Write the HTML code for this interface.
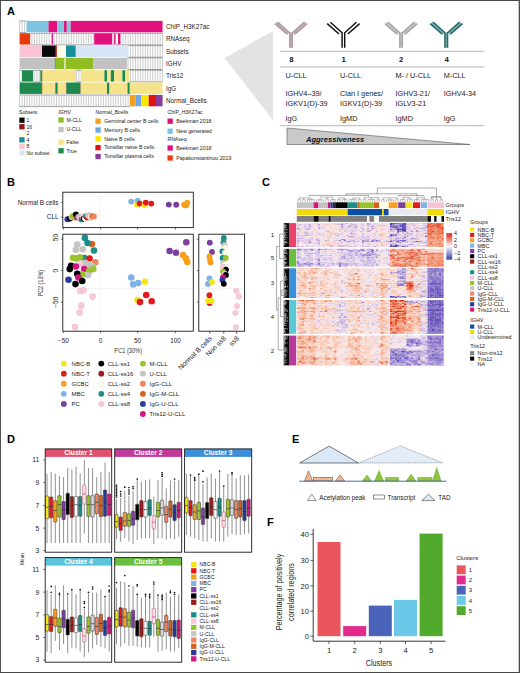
<!DOCTYPE html>
<html><head><meta charset="utf-8"><title>Figure</title>
<style>
html,body{margin:0;padding:0;background:#fff;}
body{width:520px;height:673px;overflow:hidden;font-family:"Liberation Sans",sans-serif;}
svg{display:block;}
svg text{font-family:"Liberation Sans",sans-serif;}
</style></head><body>
<svg width="520" height="673" viewBox="0 0 520 673">
<rect x="0" y="0" width="520" height="673" fill="#ffffff"/>
<text x="7.00" y="15.20" font-size="11" fill="#000" text-anchor="start" font-weight="bold" >A</text>
<rect x="19.60" y="20.90" width="6.90" height="11.40" fill="#ffffff" />
<line x1="19.60" y1="21.00" x2="26.50" y2="21.00" stroke="#4a4a4a" stroke-width="0.5" />
<line x1="19.60" y1="32.60" x2="26.50" y2="32.60" stroke="#4a4a4a" stroke-width="0.5" />
<path d="M19.60 20.90v11.4M22.07 20.90v11.4M24.53 20.90v11.4" stroke="#9a9a9a" stroke-width="0.5" fill="none"/>
<rect x="26.50" y="20.90" width="22.00" height="11.40" fill="#7ec4e2" />
<rect x="48.50" y="20.90" width="8.80" height="11.40" fill="#e0117f" />
<rect x="57.30" y="20.90" width="6.70" height="11.40" fill="#7ec4e2" />
<rect x="64.00" y="20.90" width="2.80" height="11.40" fill="#e0117f" />
<rect x="66.80" y="20.90" width="3.90" height="11.40" fill="#7ec4e2" />
<rect x="70.70" y="20.90" width="91.90" height="11.40" fill="#e0117f" />
<text x="166.00" y="28.90" font-size="6.3" fill="#222" text-anchor="start" font-weight="normal" >ChIP_H3K27ac</text>
<rect x="19.60" y="33.20" width="10.80" height="11.40" fill="#ea3a0c" />
<rect x="30.40" y="33.20" width="21.20" height="11.40" fill="#ffffff" />
<line x1="30.40" y1="33.30" x2="51.60" y2="33.30" stroke="#4a4a4a" stroke-width="0.5" />
<line x1="30.40" y1="44.90" x2="51.60" y2="44.90" stroke="#4a4a4a" stroke-width="0.5" />
<path d="M31.93 33.20v11.4M34.39 33.20v11.4M36.86 33.20v11.4M39.32 33.20v11.4M41.79 33.20v11.4M44.26 33.20v11.4M46.72 33.20v11.4M49.19 33.20v11.4" stroke="#9a9a9a" stroke-width="0.5" fill="none"/>
<rect x="51.60" y="33.20" width="1.40" height="11.40" fill="#e0117f" />
<rect x="53.00" y="33.20" width="41.20" height="11.40" fill="#ffffff" />
<line x1="53.00" y1="33.30" x2="94.20" y2="33.30" stroke="#4a4a4a" stroke-width="0.5" />
<line x1="53.00" y1="44.90" x2="94.20" y2="44.90" stroke="#4a4a4a" stroke-width="0.5" />
<path d="M54.12 33.20v11.4M56.58 33.20v11.4M59.05 33.20v11.4M61.51 33.20v11.4M63.98 33.20v11.4M66.44 33.20v11.4M68.91 33.20v11.4M71.38 33.20v11.4M73.84 33.20v11.4M76.31 33.20v11.4M78.77 33.20v11.4M81.24 33.20v11.4M83.70 33.20v11.4M86.17 33.20v11.4M88.63 33.20v11.4M91.10 33.20v11.4M93.57 33.20v11.4" stroke="#9a9a9a" stroke-width="0.5" fill="none"/>
<rect x="94.20" y="33.20" width="18.20" height="11.40" fill="#e0117f" />
<rect x="112.40" y="33.20" width="1.80" height="11.40" fill="#ffffff" />
<line x1="112.40" y1="33.30" x2="114.20" y2="33.30" stroke="#4a4a4a" stroke-width="0.5" />
<line x1="112.40" y1="44.90" x2="114.20" y2="44.90" stroke="#4a4a4a" stroke-width="0.5" />
<path d="M113.29 33.20v11.4" stroke="#9a9a9a" stroke-width="0.5" fill="none"/>
<rect x="114.20" y="33.20" width="1.60" height="11.40" fill="#e0117f" />
<rect x="115.80" y="33.20" width="2.20" height="11.40" fill="#ffffff" />
<line x1="115.80" y1="33.30" x2="118.00" y2="33.30" stroke="#4a4a4a" stroke-width="0.5" />
<line x1="115.80" y1="44.90" x2="118.00" y2="44.90" stroke="#4a4a4a" stroke-width="0.5" />
<rect x="118.00" y="33.20" width="2.70" height="11.40" fill="#e0117f" />
<rect x="120.70" y="33.20" width="41.90" height="11.40" fill="#ffffff" />
<line x1="120.70" y1="33.30" x2="162.60" y2="33.30" stroke="#4a4a4a" stroke-width="0.5" />
<line x1="120.70" y1="44.90" x2="162.60" y2="44.90" stroke="#4a4a4a" stroke-width="0.5" />
<path d="M123.15 33.20v11.4M125.62 33.20v11.4M128.08 33.20v11.4M130.55 33.20v11.4M133.01 33.20v11.4M135.48 33.20v11.4M137.94 33.20v11.4M140.41 33.20v11.4M142.88 33.20v11.4M145.34 33.20v11.4M147.81 33.20v11.4M150.27 33.20v11.4M152.74 33.20v11.4M155.20 33.20v11.4M157.67 33.20v11.4M160.13 33.20v11.4M162.60 33.20v11.4" stroke="#9a9a9a" stroke-width="0.5" fill="none"/>
<text x="166.00" y="41.20" font-size="6.3" fill="#222" text-anchor="start" font-weight="normal" >RNAseq</text>
<rect x="19.60" y="45.50" width="22.40" height="11.40" fill="#f9c3d3" />
<rect x="42.00" y="45.50" width="13.80" height="11.40" fill="#0a0a0a" />
<rect x="55.80" y="45.50" width="1.10" height="11.40" fill="#b01818" />
<rect x="56.90" y="45.50" width="0.80" height="11.40" fill="#ffffff" />
<line x1="56.90" y1="45.60" x2="57.70" y2="45.60" stroke="#4a4a4a" stroke-width="0.5" />
<line x1="56.90" y1="57.20" x2="57.70" y2="57.20" stroke="#4a4a4a" stroke-width="0.5" />
<rect x="57.70" y="45.50" width="8.30" height="11.40" fill="#fffde6" />
<rect x="66.00" y="45.50" width="9.80" height="11.40" fill="#17909a" />
<rect x="75.80" y="45.50" width="53.00" height="11.40" fill="#d6e6f6" />
<rect x="128.80" y="45.50" width="33.80" height="11.40" fill="#ffffff" />
<line x1="128.80" y1="45.60" x2="162.60" y2="45.60" stroke="#4a4a4a" stroke-width="0.5" />
<line x1="128.80" y1="57.20" x2="162.60" y2="57.20" stroke="#4a4a4a" stroke-width="0.5" />
<path d="M130.55 45.50v11.4M133.01 45.50v11.4M135.48 45.50v11.4M137.94 45.50v11.4M140.41 45.50v11.4M142.88 45.50v11.4M145.34 45.50v11.4M147.81 45.50v11.4M150.27 45.50v11.4M152.74 45.50v11.4M155.20 45.50v11.4M157.67 45.50v11.4M160.13 45.50v11.4M162.60 45.50v11.4" stroke="#9a9a9a" stroke-width="0.5" fill="none"/>
<text x="166.00" y="53.50" font-size="6.3" fill="#222" text-anchor="start" font-weight="normal" >Subsets</text>
<rect x="19.60" y="57.80" width="35.70" height="11.40" fill="#c2c2c2" />
<rect x="55.30" y="57.80" width="9.30" height="11.40" fill="#8fbe22" />
<rect x="64.60" y="57.80" width="0.90" height="11.40" fill="#ffffff" />
<line x1="64.60" y1="57.90" x2="65.50" y2="57.90" stroke="#4a4a4a" stroke-width="0.5" />
<line x1="64.60" y1="69.50" x2="65.50" y2="69.50" stroke="#4a4a4a" stroke-width="0.5" />
<rect x="65.50" y="57.80" width="28.00" height="11.40" fill="#8fbe22" />
<rect x="93.50" y="57.80" width="33.80" height="11.40" fill="#c2c2c2" />
<rect x="127.30" y="57.80" width="35.30" height="11.40" fill="#ffffff" />
<line x1="127.30" y1="57.90" x2="162.60" y2="57.90" stroke="#4a4a4a" stroke-width="0.5" />
<line x1="127.30" y1="69.50" x2="162.60" y2="69.50" stroke="#4a4a4a" stroke-width="0.5" />
<path d="M128.08 57.80v11.4M130.55 57.80v11.4M133.01 57.80v11.4M135.48 57.80v11.4M137.94 57.80v11.4M140.41 57.80v11.4M142.88 57.80v11.4M145.34 57.80v11.4M147.81 57.80v11.4M150.27 57.80v11.4M152.74 57.80v11.4M155.20 57.80v11.4M157.67 57.80v11.4M160.13 57.80v11.4M162.60 57.80v11.4" stroke="#9a9a9a" stroke-width="0.5" fill="none"/>
<text x="166.00" y="65.80" font-size="6.3" fill="#222" text-anchor="start" font-weight="normal" >IGHV</text>
<rect x="19.60" y="70.20" width="2.30" height="11.40" fill="#ffffff" />
<line x1="19.60" y1="70.30" x2="21.90" y2="70.30" stroke="#4a4a4a" stroke-width="0.5" />
<line x1="19.60" y1="81.90" x2="21.90" y2="81.90" stroke="#4a4a4a" stroke-width="0.5" />
<path d="M19.60 70.20v11.4" stroke="#9a9a9a" stroke-width="0.5" fill="none"/>
<rect x="21.90" y="70.20" width="11.30" height="11.40" fill="#1f8a4d" />
<rect x="33.20" y="70.20" width="7.10" height="11.40" fill="#ffffff" />
<line x1="33.20" y1="70.30" x2="40.30" y2="70.30" stroke="#4a4a4a" stroke-width="0.5" />
<line x1="33.20" y1="81.90" x2="40.30" y2="81.90" stroke="#4a4a4a" stroke-width="0.5" />
<path d="M34.39 70.20v11.4M36.86 70.20v11.4M39.32 70.20v11.4" stroke="#9a9a9a" stroke-width="0.5" fill="none"/>
<rect x="40.30" y="70.20" width="1.60" height="11.40" fill="#1f8a4d" />
<rect x="41.90" y="70.20" width="33.90" height="11.40" fill="#f5e38c" />
<rect x="75.80" y="70.20" width="5.70" height="11.40" fill="#ffffff" />
<line x1="75.80" y1="70.30" x2="81.50" y2="70.30" stroke="#4a4a4a" stroke-width="0.5" />
<line x1="75.80" y1="81.90" x2="81.50" y2="81.90" stroke="#4a4a4a" stroke-width="0.5" />
<path d="M76.31 70.20v11.4M78.77 70.20v11.4M81.24 70.20v11.4" stroke="#9a9a9a" stroke-width="0.5" fill="none"/>
<rect x="81.50" y="70.20" width="22.90" height="11.40" fill="#f5e38c" />
<rect x="104.40" y="70.20" width="2.60" height="11.40" fill="#1f8a4d" />
<rect x="107.00" y="70.20" width="3.80" height="11.40" fill="#f5e38c" />
<rect x="110.80" y="70.20" width="3.40" height="11.40" fill="#1f8a4d" />
<rect x="114.20" y="70.20" width="8.20" height="11.40" fill="#f5e38c" />
<rect x="122.40" y="70.20" width="2.90" height="11.40" fill="#1f8a4d" />
<rect x="125.30" y="70.20" width="4.30" height="11.40" fill="#f5e38c" />
<rect x="129.60" y="70.20" width="33.00" height="11.40" fill="#ffffff" />
<line x1="129.60" y1="70.30" x2="162.60" y2="70.30" stroke="#4a4a4a" stroke-width="0.5" />
<line x1="129.60" y1="81.90" x2="162.60" y2="81.90" stroke="#4a4a4a" stroke-width="0.5" />
<path d="M130.55 70.20v11.4M133.01 70.20v11.4M135.48 70.20v11.4M137.94 70.20v11.4M140.41 70.20v11.4M142.88 70.20v11.4M145.34 70.20v11.4M147.81 70.20v11.4M150.27 70.20v11.4M152.74 70.20v11.4M155.20 70.20v11.4M157.67 70.20v11.4M160.13 70.20v11.4M162.60 70.20v11.4" stroke="#9a9a9a" stroke-width="0.5" fill="none"/>
<text x="166.00" y="78.20" font-size="6.3" fill="#222" text-anchor="start" font-weight="normal" >Tris12</text>
<rect x="19.60" y="82.50" width="22.30" height="11.40" fill="#1f8a4d" />
<rect x="41.90" y="82.50" width="13.40" height="11.40" fill="#f5e38c" />
<rect x="55.30" y="82.50" width="2.50" height="11.40" fill="#1f8a4d" />
<rect x="57.80" y="82.50" width="8.70" height="11.40" fill="#f5e38c" />
<rect x="66.50" y="82.50" width="13.90" height="11.40" fill="#1f8a4d" />
<rect x="80.40" y="82.50" width="26.60" height="11.40" fill="#f5e38c" />
<rect x="107.00" y="82.50" width="2.50" height="11.40" fill="#1f8a4d" />
<rect x="109.50" y="82.50" width="18.00" height="11.40" fill="#f5e38c" />
<rect x="127.50" y="82.50" width="2.30" height="11.40" fill="#1f8a4d" />
<rect x="129.80" y="82.50" width="32.80" height="11.40" fill="#f5e38c" />
<text x="166.00" y="90.50" font-size="6.3" fill="#222" text-anchor="start" font-weight="normal" >IgG</text>
<rect x="19.60" y="94.90" width="110.20" height="11.40" fill="#ffffff" />
<line x1="19.60" y1="95.00" x2="129.80" y2="95.00" stroke="#4a4a4a" stroke-width="0.5" />
<line x1="19.60" y1="106.60" x2="129.80" y2="106.60" stroke="#4a4a4a" stroke-width="0.5" />
<path d="M19.60 94.90v11.4M22.07 94.90v11.4M24.53 94.90v11.4M27.00 94.90v11.4M29.46 94.90v11.4M31.93 94.90v11.4M34.39 94.90v11.4M36.86 94.90v11.4M39.32 94.90v11.4M41.79 94.90v11.4M44.26 94.90v11.4M46.72 94.90v11.4M49.19 94.90v11.4M51.65 94.90v11.4M54.12 94.90v11.4M56.58 94.90v11.4M59.05 94.90v11.4M61.51 94.90v11.4M63.98 94.90v11.4M66.44 94.90v11.4M68.91 94.90v11.4M71.38 94.90v11.4M73.84 94.90v11.4M76.31 94.90v11.4M78.77 94.90v11.4M81.24 94.90v11.4M83.70 94.90v11.4M86.17 94.90v11.4M88.63 94.90v11.4M91.10 94.90v11.4M93.57 94.90v11.4M96.03 94.90v11.4M98.50 94.90v11.4M100.96 94.90v11.4M103.43 94.90v11.4M105.89 94.90v11.4M108.36 94.90v11.4M110.82 94.90v11.4M113.29 94.90v11.4M115.76 94.90v11.4M118.22 94.90v11.4M120.69 94.90v11.4M123.15 94.90v11.4M125.62 94.90v11.4M128.08 94.90v11.4" stroke="#9a9a9a" stroke-width="0.5" fill="none"/>
<rect x="129.80" y="94.90" width="5.80" height="11.40" fill="#f0a21e" />
<rect x="135.60" y="94.90" width="5.40" height="11.40" fill="#6fa8e2" />
<rect x="141.00" y="94.90" width="7.70" height="11.40" fill="#ffe600" />
<rect x="148.70" y="94.90" width="7.30" height="11.40" fill="#e01212" />
<rect x="156.00" y="94.90" width="6.60" height="11.40" fill="#8a3c9c" />
<text x="166.00" y="102.90" font-size="6.3" fill="#222" text-anchor="start" font-weight="normal" >Normal_Bcells</text>
<line x1="55.30" y1="57.80" x2="55.30" y2="69.20" stroke="#3a3a3a" stroke-width="0.4" />
<line x1="41.90" y1="70.20" x2="41.90" y2="93.90" stroke="#3a3a3a" stroke-width="0.4" />
<line x1="66.50" y1="82.50" x2="66.50" y2="93.90" stroke="#3a3a3a" stroke-width="0.4" />
<line x1="80.40" y1="82.50" x2="80.40" y2="93.90" stroke="#3a3a3a" stroke-width="0.4" />
<text x="19.00" y="114.00" font-size="5.1" fill="#222" text-anchor="start" font-weight="normal" >Subsets</text>
<rect x="19.30" y="117.55" width="5.30" height="5.30" fill="#0a0a0a" />
<text x="26.50" y="122.00" font-size="5.1" fill="#222" text-anchor="start" font-weight="normal" >1</text>
<rect x="19.30" y="124.10" width="5.30" height="5.30" fill="#8e1616" />
<text x="26.50" y="128.55" font-size="5.1" fill="#222" text-anchor="start" font-weight="normal" >16</text>
<rect x="19.30" y="130.65" width="5.30" height="5.30" fill="#fffde6" />
<text x="26.50" y="135.10" font-size="5.1" fill="#222" text-anchor="start" font-weight="normal" >2</text>
<rect x="19.30" y="137.20" width="5.30" height="5.30" fill="#17909a" />
<text x="26.50" y="141.65" font-size="5.1" fill="#222" text-anchor="start" font-weight="normal" >4</text>
<rect x="19.30" y="143.75" width="5.30" height="5.30" fill="#f9c3d3" />
<text x="26.50" y="148.20" font-size="5.1" fill="#222" text-anchor="start" font-weight="normal" >8</text>
<rect x="19.30" y="150.30" width="5.30" height="5.30" fill="#d6e6f6" />
<text x="26.50" y="154.75" font-size="5.1" fill="#222" text-anchor="start" font-weight="normal" >No subset</text>
<text x="58.40" y="114.00" font-size="5.1" fill="#222" text-anchor="start" font-weight="normal" >IGHV</text>
<rect x="58.40" y="117.35" width="5.30" height="5.30" fill="#8fbe22" />
<text x="66.50" y="121.80" font-size="5.1" fill="#222" text-anchor="start" font-weight="normal" >M-CLL</text>
<rect x="58.40" y="126.95" width="5.30" height="5.30" fill="#c2c2c2" />
<text x="66.50" y="131.40" font-size="5.1" fill="#222" text-anchor="start" font-weight="normal" >U-CLL</text>
<rect x="58.40" y="139.55" width="5.30" height="5.30" fill="#f5e38c" />
<text x="66.50" y="144.00" font-size="5.1" fill="#222" text-anchor="start" font-weight="normal" >False</text>
<rect x="58.40" y="148.15" width="5.30" height="5.30" fill="#1f8a4d" />
<text x="66.50" y="152.60" font-size="5.1" fill="#222" text-anchor="start" font-weight="normal" >True</text>
<text x="95.40" y="114.00" font-size="5.1" fill="#222" text-anchor="start" font-weight="normal" >Normal_Bcells</text>
<rect x="95.40" y="118.55" width="5.30" height="5.30" fill="#f0a21e" />
<text x="104.20" y="123.00" font-size="5.25" fill="#222" text-anchor="start" font-weight="normal" >Germinal center B cells</text>
<rect x="95.40" y="127.38" width="5.30" height="5.30" fill="#6fa8e2" />
<text x="104.20" y="131.83" font-size="5.25" fill="#222" text-anchor="start" font-weight="normal" >Memory B cells</text>
<rect x="95.40" y="136.21" width="5.30" height="5.30" fill="#ffe600" />
<text x="104.20" y="140.66" font-size="5.25" fill="#222" text-anchor="start" font-weight="normal" >Naive B cells</text>
<rect x="95.40" y="145.04" width="5.30" height="5.30" fill="#e01212" />
<text x="104.20" y="149.49" font-size="5.25" fill="#222" text-anchor="start" font-weight="normal" >Tonsillar naive B cells</text>
<rect x="95.40" y="153.87" width="5.30" height="5.30" fill="#8a3c9c" />
<text x="104.20" y="158.32" font-size="5.25" fill="#222" text-anchor="start" font-weight="normal" >Tonsillar plasma cells</text>
<text x="167.50" y="114.00" font-size="5.1" fill="#222" text-anchor="start" font-weight="normal" >ChIP_H3K27ac</text>
<rect x="167.50" y="118.55" width="5.30" height="5.30" fill="#e0117f" />
<text x="176.20" y="123.00" font-size="5.25" fill="#222" text-anchor="start" font-weight="normal" >Beekman 2018</text>
<rect x="167.50" y="128.55" width="5.30" height="5.30" fill="#7ec4e2" />
<text x="176.20" y="133.00" font-size="5.25" fill="#222" text-anchor="start" font-weight="normal" >New generated</text>
<text x="167.50" y="141.00" font-size="5.1" fill="#222" text-anchor="start" font-weight="normal" >RNAseq</text>
<rect x="167.50" y="145.35" width="5.30" height="5.30" fill="#e0117f" />
<text x="176.20" y="149.80" font-size="5.25" fill="#222" text-anchor="start" font-weight="normal" >Beekman 2018</text>
<rect x="167.50" y="155.35" width="5.30" height="5.30" fill="#ea3a0c" />
<text x="176.20" y="159.80" font-size="5.25" fill="#222" text-anchor="start" font-weight="normal" >Papakonstantinou 2019</text>
<polygon points="224.6,58 272.9,31 272.9,120" fill="#e3e3e3"/>
<path d="M276.40 22.9L288.40 33.6" stroke="#bca9ad" stroke-width="3.6" fill="none"/>
<path d="M305.60 22.9L293.60 33.6" stroke="#bca9ad" stroke-width="3.6" fill="none"/>
<path d="M291.00 32.4V47.7" stroke="#bca9ad" stroke-width="3.4" fill="none"/>
<path d="M274.80 23.65L286.60 34.0" stroke="#b3a0a4" stroke-width="1.45" fill="none" stroke-linecap="butt"/>
<path d="M278.00 22.2L289.70 32.7L289.70 47.7" stroke="#b3a0a4" stroke-width="1.45" fill="none" stroke-linejoin="miter"/>
<path d="M307.20 23.65L295.40 34.0" stroke="#b3a0a4" stroke-width="1.45" fill="none" stroke-linecap="butt"/>
<path d="M304.00 22.2L292.30 32.7L292.30 47.7" stroke="#b3a0a4" stroke-width="1.45" fill="none" stroke-linejoin="miter"/>
<path d="M327.20 23.65L339.00 34.0" stroke="#111111" stroke-width="1.45" fill="none" stroke-linecap="butt"/>
<path d="M330.40 22.2L342.10 32.7L342.10 47.7" stroke="#111111" stroke-width="1.45" fill="none" stroke-linejoin="miter"/>
<path d="M359.60 23.65L347.80 34.0" stroke="#111111" stroke-width="1.45" fill="none" stroke-linecap="butt"/>
<path d="M356.40 22.2L344.70 32.7L344.70 47.7" stroke="#111111" stroke-width="1.45" fill="none" stroke-linejoin="miter"/>
<path d="M386.50 22.9L398.50 33.6" stroke="#c2c2c2" stroke-width="3.6" fill="none"/>
<path d="M415.70 22.9L403.70 33.6" stroke="#c2c2c2" stroke-width="3.6" fill="none"/>
<path d="M401.10 32.4V47.7" stroke="#c2c2c2" stroke-width="3.4" fill="none"/>
<path d="M384.90 23.65L396.70 34.0" stroke="#a6a6a6" stroke-width="1.45" fill="none" stroke-linecap="butt"/>
<path d="M388.10 22.2L399.80 32.7L399.80 47.7" stroke="#a6a6a6" stroke-width="1.45" fill="none" stroke-linejoin="miter"/>
<path d="M417.30 23.65L405.50 34.0" stroke="#a6a6a6" stroke-width="1.45" fill="none" stroke-linecap="butt"/>
<path d="M414.10 22.2L402.40 32.7L402.40 47.7" stroke="#a6a6a6" stroke-width="1.45" fill="none" stroke-linejoin="miter"/>
<path d="M431.70 22.9L443.70 33.6" stroke="#7aa9a9" stroke-width="3.6" fill="none"/>
<path d="M460.90 22.9L448.90 33.6" stroke="#7aa9a9" stroke-width="3.6" fill="none"/>
<path d="M446.30 32.4V47.7" stroke="#7aa9a9" stroke-width="3.4" fill="none"/>
<path d="M430.10 23.65L441.90 34.0" stroke="#276b6b" stroke-width="1.45" fill="none" stroke-linecap="butt"/>
<path d="M433.30 22.2L445.00 32.7L445.00 47.7" stroke="#276b6b" stroke-width="1.45" fill="none" stroke-linejoin="miter"/>
<path d="M462.50 23.65L450.70 34.0" stroke="#276b6b" stroke-width="1.45" fill="none" stroke-linecap="butt"/>
<path d="M459.30 22.2L447.60 32.7L447.60 47.7" stroke="#276b6b" stroke-width="1.45" fill="none" stroke-linejoin="miter"/>
<line x1="280.00" y1="51.30" x2="484.50" y2="51.30" stroke="#9a9a9a" stroke-width="0.7" />
<line x1="280.00" y1="67.00" x2="484.50" y2="67.00" stroke="#9a9a9a" stroke-width="0.7" />
<line x1="280.00" y1="125.70" x2="484.50" y2="125.70" stroke="#9a9a9a" stroke-width="0.7" />
<text x="289.20" y="61.90" font-size="7.8" fill="#111" text-anchor="start" font-weight="bold" >8</text>
<text x="341.60" y="61.90" font-size="7.8" fill="#111" text-anchor="start" font-weight="bold" >1</text>
<text x="399.00" y="61.90" font-size="7.8" fill="#111" text-anchor="start" font-weight="bold" >2</text>
<text x="444.40" y="61.90" font-size="7.8" fill="#111" text-anchor="start" font-weight="bold" >4</text>
<text x="285.50" y="77.60" font-size="7.3" fill="#222" text-anchor="start" font-weight="normal" >U-CLL</text>
<text x="340.00" y="77.60" font-size="7.3" fill="#222" text-anchor="start" font-weight="normal" >U-CLL</text>
<text x="395.50" y="77.60" font-size="7.3" fill="#222" text-anchor="start" font-weight="normal" >M- / U-CLL</text>
<text x="443.70" y="77.60" font-size="7.3" fill="#222" text-anchor="start" font-weight="normal" >M-CLL</text>
<text x="285.50" y="96.30" font-size="7.3" fill="#222" text-anchor="start" font-weight="normal" >IGHV4–39/</text>
<text x="340.00" y="96.30" font-size="7.3" fill="#222" text-anchor="start" font-weight="normal" >Clan I genes/</text>
<text x="395.50" y="96.30" font-size="7.3" fill="#222" text-anchor="start" font-weight="normal" >IGHV3-21/</text>
<text x="443.70" y="96.30" font-size="7.3" fill="#222" text-anchor="start" font-weight="normal" >IGHV4-34</text>
<text x="285.50" y="106.30" font-size="7.3" fill="#222" text-anchor="start" font-weight="normal" >IGKV1(D)-39</text>
<text x="340.00" y="106.30" font-size="7.3" fill="#222" text-anchor="start" font-weight="normal" >IGKV1(D)-39</text>
<text x="395.50" y="106.30" font-size="7.3" fill="#222" text-anchor="start" font-weight="normal" >IGLV3-21</text>
<text x="285.50" y="121.30" font-size="7.3" fill="#222" text-anchor="start" font-weight="normal" >IgG</text>
<text x="340.00" y="121.30" font-size="7.3" fill="#222" text-anchor="start" font-weight="normal" >IgMD</text>
<text x="395.50" y="121.30" font-size="7.3" fill="#222" text-anchor="start" font-weight="normal" >IgMD</text>
<text x="443.70" y="121.30" font-size="7.3" fill="#222" text-anchor="start" font-weight="normal" >IgG</text>
<polygon points="287,128 287,144.5 470,144.5" fill="#c9c9c9" stroke="#555" stroke-width="0.6"/>
<text x="306.00" y="141.50" font-size="7.6" fill="#111" text-anchor="start" font-weight="bold" font-style="italic">Aggressiveness</text>
<text x="7.00" y="185.60" font-size="11" fill="#000" text-anchor="start" font-weight="bold" >B</text>
<line x1="99.80" y1="192.20" x2="99.80" y2="227.60" stroke="#e2d2d6" stroke-width="0.6" stroke-dasharray="1.6 1.6"/>
<line x1="99.80" y1="234.20" x2="99.80" y2="331.20" stroke="#e2d2d6" stroke-width="0.6" stroke-dasharray="1.6 1.6"/>
<line x1="62.80" y1="288.40" x2="193.30" y2="288.40" stroke="#d9d9d9" stroke-width="0.6" stroke-dasharray="1.6 1.6"/>
<line x1="198.80" y1="288.40" x2="244.60" y2="288.40" stroke="#d9d9d9" stroke-width="0.6" stroke-dasharray="1.6 1.6"/>
<circle cx="131.20" cy="201.60" r="2.95" fill="#7fb2e5" />
<circle cx="137.60" cy="200.80" r="2.95" fill="#7fb2e5" />
<circle cx="137.00" cy="204.60" r="2.95" fill="#f5e616" />
<circle cx="139.60" cy="203.60" r="2.95" fill="#e31a1c" />
<circle cx="144.50" cy="205.00" r="2.95" fill="#f5e616" />
<circle cx="145.80" cy="202.60" r="2.95" fill="#e31a1c" />
<circle cx="151.30" cy="203.60" r="2.95" fill="#e31a1c" />
<circle cx="168.80" cy="204.60" r="2.95" fill="#7b3f9e" />
<circle cx="176.20" cy="204.70" r="2.95" fill="#7b3f9e" />
<circle cx="184.20" cy="204.80" r="2.95" fill="#f7a01e" />
<circle cx="187.20" cy="202.60" r="2.95" fill="#f7a01e" />
<circle cx="186.00" cy="205.40" r="2.95" fill="#f7a01e" />
<circle cx="67.40" cy="219.20" r="2.95" fill="#2a3a9a" />
<circle cx="70.00" cy="218.60" r="2.95" fill="#000000" />
<circle cx="71.60" cy="217.20" r="2.95" fill="#c4c4c4" />
<circle cx="72.80" cy="216.00" r="2.95" fill="#9ac32c" />
<circle cx="74.40" cy="217.60" r="2.95" fill="#9ac32c" />
<circle cx="75.90" cy="214.40" r="2.95" fill="#000000" />
<circle cx="77.20" cy="217.60" r="2.95" fill="#d4147f" />
<circle cx="78.80" cy="216.80" r="2.95" fill="#c4c4c4" />
<circle cx="80.00" cy="218.40" r="2.75" fill="#f7c5d5" stroke="#eeb2c6" stroke-width="0.5" fill-opacity="0.92"/>
<circle cx="81.50" cy="219.40" r="2.95" fill="#1a8f8a" />
<circle cx="82.60" cy="216.40" r="2.75" fill="#f7c5d5" stroke="#eeb2c6" stroke-width="0.5" fill-opacity="0.92"/>
<circle cx="83.60" cy="218.60" r="2.95" fill="#000000" />
<circle cx="84.90" cy="218.40" r="2.75" fill="#fdfde8" stroke="#e4e4d4" stroke-width="0.4"/>
<circle cx="86.00" cy="216.20" r="2.95" fill="#1a8f8a" />
<circle cx="87.20" cy="217.60" r="2.95" fill="#e31a1c" />
<circle cx="88.20" cy="215.60" r="2.75" fill="#fdfde8" stroke="#e4e4d4" stroke-width="0.4"/>
<circle cx="89.00" cy="215.20" r="2.95" fill="#c4c4c4" />
<circle cx="90.20" cy="217.80" r="2.95" fill="#c4c4c4" />
<circle cx="91.00" cy="216.40" r="2.75" fill="#fdfde8" stroke="#e4e4d4" stroke-width="0.4"/>
<circle cx="92.40" cy="216.20" r="2.95" fill="#d9601a" />
<circle cx="93.90" cy="216.50" r="2.95" fill="#f08560" />
<circle cx="84.90" cy="237.90" r="3.3" fill="#1a8f8a" />
<circle cx="77.40" cy="244.50" r="3.3" fill="#c4c4c4" />
<circle cx="91.90" cy="244.00" r="3.3" fill="#d9601a" />
<circle cx="87.50" cy="243.00" r="3.3" fill="#1a8f8a" />
<circle cx="75.90" cy="249.80" r="3.3" fill="#c4c4c4" />
<circle cx="82.70" cy="249.30" r="3.3" fill="#c4c4c4" />
<circle cx="94.00" cy="250.50" r="3.3" fill="#1a8f8a" />
<circle cx="88.00" cy="253.70" r="3.0999999999999996" fill="#fdfde8" stroke="#e4e4d4" stroke-width="0.4"/>
<circle cx="84.20" cy="258.00" r="3.3" fill="#1a8f8a" />
<circle cx="73.00" cy="257.80" r="3.3" fill="#9ac32c" />
<circle cx="76.40" cy="258.60" r="3.3" fill="#9ac32c" />
<circle cx="79.80" cy="257.20" r="3.3" fill="#9ac32c" />
<circle cx="89.50" cy="258.50" r="3.3" fill="#e31a1c" />
<circle cx="95.30" cy="262.40" r="3.3" fill="#f08560" />
<circle cx="85.10" cy="262.90" r="3.3" fill="#c4c4c4" />
<circle cx="88.60" cy="264.60" r="3.3" fill="#c4c4c4" />
<circle cx="90.60" cy="268.20" r="3.3" fill="#c4c4c4" />
<circle cx="80.50" cy="263.50" r="3.0999999999999996" fill="#f7c5d5" stroke="#eeb2c6" stroke-width="0.5" fill-opacity="0.92"/>
<circle cx="92.40" cy="266.20" r="3.3" fill="#c4c4c4" />
<circle cx="71.10" cy="265.70" r="3.3" fill="#000000" />
<circle cx="75.90" cy="266.50" r="3.3" fill="#d4147f" />
<circle cx="69.70" cy="269.10" r="3.3" fill="#000000" />
<circle cx="84.20" cy="269.10" r="3.3" fill="#d4147f" />
<circle cx="93.30" cy="269.10" r="3.3" fill="#9ac32c" />
<circle cx="89.00" cy="271.00" r="3.3" fill="#9ac32c" />
<circle cx="88.00" cy="275.00" r="3.3" fill="#c4c4c4" />
<circle cx="82.20" cy="274.40" r="3.3" fill="#9ac32c" />
<circle cx="77.20" cy="273.70" r="3.3" fill="#000000" />
<circle cx="78.40" cy="277.50" r="3.3" fill="#d4147f" />
<circle cx="68.50" cy="279.80" r="3.3" fill="#2a3a9a" />
<circle cx="82.20" cy="281.00" r="3.3" fill="#000000" />
<circle cx="75.50" cy="284.10" r="3.3" fill="#000000" />
<circle cx="80.20" cy="291.00" r="3.0999999999999996" fill="#f7c5d5" stroke="#eeb2c6" stroke-width="0.5" fill-opacity="0.92"/>
<circle cx="83.60" cy="290.20" r="3.0999999999999996" fill="#f7c5d5" stroke="#eeb2c6" stroke-width="0.5" fill-opacity="0.92"/>
<circle cx="92.60" cy="296.60" r="3.0999999999999996" fill="#f7c5d5" stroke="#eeb2c6" stroke-width="0.5" fill-opacity="0.92"/>
<circle cx="81.20" cy="305.60" r="3.0999999999999996" fill="#f7c5d5" stroke="#eeb2c6" stroke-width="0.5" fill-opacity="0.92"/>
<circle cx="79.60" cy="312.40" r="3.0999999999999996" fill="#f7c5d5" stroke="#eeb2c6" stroke-width="0.5" fill-opacity="0.92"/>
<circle cx="75.00" cy="327.00" r="3.0999999999999996" fill="#f7c5d5" stroke="#eeb2c6" stroke-width="0.5" fill-opacity="0.92"/>
<circle cx="131.20" cy="277.50" r="3.3" fill="#7fb2e5" />
<circle cx="133.20" cy="284.40" r="3.3" fill="#7fb2e5" />
<circle cx="138.20" cy="283.00" r="3.3" fill="#7fb2e5" />
<circle cx="145.00" cy="281.80" r="3.3" fill="#f5e616" />
<circle cx="137.50" cy="300.00" r="3.3" fill="#f5e616" />
<circle cx="146.20" cy="295.00" r="3.3" fill="#e31a1c" />
<circle cx="140.00" cy="302.00" r="3.3" fill="#e31a1c" />
<circle cx="151.70" cy="301.20" r="3.3" fill="#e31a1c" />
<circle cx="186.30" cy="242.30" r="3.3" fill="#7b3f9e" />
<circle cx="169.60" cy="251.00" r="3.3" fill="#7b3f9e" />
<circle cx="176.00" cy="252.80" r="3.3" fill="#7b3f9e" />
<circle cx="183.00" cy="255.00" r="3.3" fill="#f7a01e" />
<circle cx="185.80" cy="258.20" r="3.3" fill="#f7a01e" />
<circle cx="187.30" cy="262.00" r="3.3" fill="#f7a01e" />
<circle cx="209.80" cy="242.70" r="2.9" fill="#7b3f9e" />
<circle cx="212.00" cy="252.00" r="2.9" fill="#7b3f9e" />
<circle cx="209.40" cy="256.50" r="2.9" fill="#f7a01e" />
<circle cx="210.00" cy="260.00" r="2.9" fill="#f7a01e" />
<circle cx="210.60" cy="262.60" r="2.9" fill="#f7a01e" />
<circle cx="209.40" cy="278.30" r="2.9" fill="#7fb2e5" />
<circle cx="208.00" cy="284.00" r="2.9" fill="#7fb2e5" />
<circle cx="212.00" cy="282.00" r="2.9" fill="#f5e616" />
<circle cx="209.40" cy="295.20" r="2.9" fill="#e31a1c" />
<circle cx="209.60" cy="303.00" r="2.9" fill="#e31a1c" />
<circle cx="208.00" cy="301.00" r="2.9" fill="#f5e616" />
<circle cx="211.40" cy="301.00" r="2.9" fill="#f5e616" />
<circle cx="223.80" cy="237.90" r="2.9" fill="#1a8f8a" />
<circle cx="223.50" cy="242.30" r="2.9" fill="#1a8f8a" />
<circle cx="224.60" cy="245.00" r="2.9" fill="#c4c4c4" />
<circle cx="225.20" cy="247.60" r="2.6999999999999997" fill="#fdfde8" stroke="#e4e4d4" stroke-width="0.4"/>
<circle cx="222.30" cy="251.30" r="2.9" fill="#1a8f8a" />
<circle cx="225.00" cy="252.40" r="2.6999999999999997" fill="#fdfde8" stroke="#e4e4d4" stroke-width="0.4"/>
<circle cx="222.60" cy="258.00" r="2.9" fill="#1a8f8a" />
<circle cx="225.80" cy="258.00" r="2.9" fill="#9ac32c" />
<circle cx="223.20" cy="262.80" r="2.9" fill="#c4c4c4" />
<circle cx="224.80" cy="264.60" r="2.6999999999999997" fill="#fdfde8" stroke="#e4e4d4" stroke-width="0.4"/>
<circle cx="223.00" cy="267.00" r="2.6999999999999997" fill="#f7c5d5" stroke="#eeb2c6" stroke-width="0.5" fill-opacity="0.92"/>
<circle cx="226.00" cy="269.60" r="2.9" fill="#000000" />
<circle cx="222.90" cy="271.50" r="2.9" fill="#9ac32c" />
<circle cx="224.60" cy="273.40" r="2.9" fill="#c4c4c4" />
<circle cx="226.00" cy="275.00" r="2.9" fill="#000000" />
<circle cx="223.00" cy="277.20" r="2.9" fill="#d4147f" />
<circle cx="222.40" cy="280.00" r="2.9" fill="#2a3a9a" />
<circle cx="223.80" cy="283.80" r="2.9" fill="#000000" />
<circle cx="236.30" cy="290.80" r="2.6999999999999997" fill="#f7c5d5" stroke="#eeb2c6" stroke-width="0.5" fill-opacity="0.92"/>
<circle cx="238.80" cy="296.50" r="2.6999999999999997" fill="#f7c5d5" stroke="#eeb2c6" stroke-width="0.5" fill-opacity="0.92"/>
<circle cx="237.00" cy="306.00" r="2.6999999999999997" fill="#f7c5d5" stroke="#eeb2c6" stroke-width="0.5" fill-opacity="0.92"/>
<circle cx="235.40" cy="313.00" r="2.6999999999999997" fill="#f7c5d5" stroke="#eeb2c6" stroke-width="0.5" fill-opacity="0.92"/>
<circle cx="235.80" cy="327.30" r="2.6999999999999997" fill="#f7c5d5" stroke="#eeb2c6" stroke-width="0.5" fill-opacity="0.92"/>
<rect x="62.8" y="192.2" width="130.50" height="35.40" fill="none" stroke="#1a1a1a" stroke-width="0.9"/>
<rect x="62.8" y="234.2" width="130.50" height="97.00" fill="none" stroke="#1a1a1a" stroke-width="0.9"/>
<rect x="198.8" y="234.2" width="45.80" height="97.00" fill="none" stroke="#1a1a1a" stroke-width="0.9"/>
<line x1="60.80" y1="202.60" x2="62.80" y2="202.60" stroke="#1a1a1a" stroke-width="0.6" />
<text x="58.40" y="204.80" font-size="6.3" fill="#222" text-anchor="end" font-weight="normal" >Normal B cells</text>
<line x1="60.80" y1="217.20" x2="62.80" y2="217.20" stroke="#1a1a1a" stroke-width="0.6" />
<text x="58.40" y="219.40" font-size="6.3" fill="#222" text-anchor="end" font-weight="normal" >CLL</text>
<line x1="60.80" y1="239.20" x2="62.80" y2="239.20" stroke="#1a1a1a" stroke-width="0.6" />
<line x1="196.80" y1="239.20" x2="198.80" y2="239.20" stroke="#1a1a1a" stroke-width="0.6" />
<text transform="translate(57.6,237.6) rotate(-90)" font-size="6.6" fill="#222" text-anchor="middle">50</text>
<line x1="60.80" y1="270.60" x2="62.80" y2="270.60" stroke="#1a1a1a" stroke-width="0.6" />
<line x1="196.80" y1="270.60" x2="198.80" y2="270.60" stroke="#1a1a1a" stroke-width="0.6" />
<text transform="translate(57.6,270.6) rotate(-90)" font-size="6.6" fill="#222" text-anchor="middle">0</text>
<line x1="60.80" y1="302.20" x2="62.80" y2="302.20" stroke="#1a1a1a" stroke-width="0.6" />
<line x1="196.80" y1="302.20" x2="198.80" y2="302.20" stroke="#1a1a1a" stroke-width="0.6" />
<text transform="translate(57.6,302.2) rotate(-90)" font-size="6.6" fill="#222" text-anchor="middle">−50</text>
<line x1="63.40" y1="331.20" x2="63.40" y2="333.20" stroke="#1a1a1a" stroke-width="0.6" />
<line x1="63.40" y1="227.60" x2="63.40" y2="229.60" stroke="#1a1a1a" stroke-width="0.6" />
<text x="63.40" y="342.60" font-size="6.3" fill="#222" text-anchor="middle" font-weight="normal" >−50</text>
<line x1="100.60" y1="331.20" x2="100.60" y2="333.20" stroke="#1a1a1a" stroke-width="0.6" />
<line x1="100.60" y1="227.60" x2="100.60" y2="229.60" stroke="#1a1a1a" stroke-width="0.6" />
<text x="100.60" y="342.60" font-size="6.3" fill="#222" text-anchor="middle" font-weight="normal" >0</text>
<line x1="137.60" y1="331.20" x2="137.60" y2="333.20" stroke="#1a1a1a" stroke-width="0.6" />
<line x1="137.60" y1="227.60" x2="137.60" y2="229.60" stroke="#1a1a1a" stroke-width="0.6" />
<text x="137.60" y="342.60" font-size="6.3" fill="#222" text-anchor="middle" font-weight="normal" >50</text>
<line x1="175.40" y1="331.20" x2="175.40" y2="333.20" stroke="#1a1a1a" stroke-width="0.6" />
<line x1="175.40" y1="227.60" x2="175.40" y2="229.60" stroke="#1a1a1a" stroke-width="0.6" />
<text x="175.40" y="342.60" font-size="6.3" fill="#222" text-anchor="middle" font-weight="normal" >100</text>
<text transform="translate(128.2,352.9) scale(0.8,1)" font-size="7.1" fill="#333" text-anchor="middle">PC1 (30%)</text>
<text transform="translate(43.2,283.2) rotate(-90) scale(0.76,1)" font-size="7.1" fill="#333" text-anchor="middle">PC2 (13%)</text>
<line x1="209.80" y1="331.20" x2="209.80" y2="333.60" stroke="#1a1a1a" stroke-width="0.7" />
<text transform="translate(212.5,338.9) rotate(-45)" font-size="6.9" fill="#222" text-anchor="end">Normal B cells</text>
<line x1="223.80" y1="331.20" x2="223.80" y2="333.60" stroke="#1a1a1a" stroke-width="0.7" />
<text transform="translate(226.5,338.9) rotate(-45)" font-size="6.9" fill="#222" text-anchor="end">Non ss8</text>
<line x1="236.70" y1="331.20" x2="236.70" y2="333.60" stroke="#1a1a1a" stroke-width="0.7" />
<text transform="translate(239.4,338.9) rotate(-45)" font-size="6.9" fill="#222" text-anchor="end">ss8</text>
<circle cx="63.80" cy="363.60" r="2.9" fill="#f5e616" />
<text x="71.60" y="365.70" font-size="6.0" fill="#222" text-anchor="start" font-weight="normal" >NBC-B</text>
<circle cx="63.80" cy="373.68" r="2.9" fill="#e31a1c" />
<text x="71.60" y="375.78" font-size="6.0" fill="#222" text-anchor="start" font-weight="normal" >NBC-T</text>
<circle cx="63.80" cy="383.76" r="2.9" fill="#f7a01e" />
<text x="71.60" y="385.86" font-size="6.0" fill="#222" text-anchor="start" font-weight="normal" >GCBC</text>
<circle cx="63.80" cy="393.84" r="2.9" fill="#7fb2e5" />
<text x="71.60" y="395.94" font-size="6.0" fill="#222" text-anchor="start" font-weight="normal" >MBC</text>
<circle cx="63.80" cy="403.92" r="2.9" fill="#7b3f9e" />
<text x="71.60" y="406.02" font-size="6.0" fill="#222" text-anchor="start" font-weight="normal" >PC</text>
<circle cx="101.30" cy="363.60" r="2.9" fill="#000000" />
<text x="107.70" y="365.70" font-size="6.0" fill="#222" text-anchor="start" font-weight="normal" >CLL-ss1</text>
<circle cx="101.30" cy="373.68" r="2.9" fill="#a01c1c" />
<text x="107.70" y="375.78" font-size="6.0" fill="#222" text-anchor="start" font-weight="normal" >CLL-ss16</text>
<circle cx="101.30" cy="383.76" r="2.6999999999999997" fill="#fdfde8" stroke="#e4e4d4" stroke-width="0.4"/>
<text x="107.70" y="385.86" font-size="6.0" fill="#222" text-anchor="start" font-weight="normal" >CLL-ss2</text>
<circle cx="101.30" cy="393.84" r="2.9" fill="#1a8f8a" />
<text x="107.70" y="395.94" font-size="6.0" fill="#222" text-anchor="start" font-weight="normal" >CLL-ss4</text>
<circle cx="101.30" cy="403.92" r="2.6999999999999997" fill="#f7c5d5" stroke="#eeb2c6" stroke-width="0.5" fill-opacity="0.92"/>
<text x="107.70" y="406.02" font-size="6.0" fill="#222" text-anchor="start" font-weight="normal" >CLL-ss8</text>
<circle cx="142.90" cy="363.60" r="2.9" fill="#9ac32c" />
<text x="149.50" y="365.70" font-size="6.0" fill="#222" text-anchor="start" font-weight="normal" >M-CLL</text>
<circle cx="142.90" cy="373.68" r="2.9" fill="#c4c4c4" />
<text x="149.50" y="375.78" font-size="6.0" fill="#222" text-anchor="start" font-weight="normal" >U-CLL</text>
<circle cx="142.90" cy="383.76" r="2.9" fill="#f08560" />
<text x="149.50" y="385.86" font-size="6.0" fill="#222" text-anchor="start" font-weight="normal" >IgG-CLL</text>
<circle cx="142.90" cy="393.84" r="2.9" fill="#d9601a" />
<text x="149.50" y="395.94" font-size="6.0" fill="#222" text-anchor="start" font-weight="normal" >IgG-M-CLL</text>
<circle cx="142.90" cy="403.92" r="2.9" fill="#2a3a9a" />
<text x="149.50" y="406.02" font-size="6.0" fill="#222" text-anchor="start" font-weight="normal" >IgG-U-CLL</text>
<circle cx="142.90" cy="414.00" r="2.9" fill="#d4147f" />
<text x="149.50" y="416.10" font-size="6.0" fill="#222" text-anchor="start" font-weight="normal" >Tris12-U-CLL</text>
<text x="262.00" y="185.80" font-size="11" fill="#000" text-anchor="start" font-weight="bold" >C</text>
<rect x="296.80" y="202.30" width="16.80" height="5.80" fill="#c4c4c4" />
<rect x="313.60" y="202.30" width="4.90" height="5.80" fill="#d4147f" />
<rect x="318.50" y="202.30" width="9.40" height="5.80" fill="#c4c4c4" />
<rect x="327.90" y="202.30" width="2.50" height="5.80" fill="#d4147f" />
<rect x="330.40" y="202.30" width="2.00" height="5.80" fill="#2a3a9a" />
<rect x="332.40" y="202.30" width="2.80" height="5.80" fill="#2a2a4a" />
<rect x="335.20" y="202.30" width="12.50" height="5.80" fill="#000000" />
<rect x="347.70" y="202.30" width="9.70" height="5.80" fill="#1a8f8a" />
<rect x="357.40" y="202.30" width="2.40" height="5.80" fill="#d9601a" />
<rect x="359.80" y="202.30" width="13.90" height="5.80" fill="#9ac32c" />
<rect x="373.70" y="202.30" width="5.30" height="5.80" fill="#d9601a" />
<rect x="379.00" y="202.30" width="9.70" height="5.80" fill="#fdfde8" />
<rect x="388.70" y="202.30" width="8.90" height="5.80" fill="#f7a01e" />
<rect x="398.20" y="202.30" width="7.30" height="5.80" fill="#7b3f9e" />
<rect x="406.00" y="202.30" width="6.40" height="5.80" fill="#f5e616" />
<rect x="413.00" y="202.30" width="7.10" height="5.80" fill="#e31a1c" />
<rect x="420.70" y="202.30" width="6.40" height="5.80" fill="#7fb2e5" />
<rect x="427.60" y="202.30" width="16.40" height="5.80" fill="#f7c5d5" />
<rect x="296.80" y="209.00" width="50.90" height="6.30" fill="#f5d90a" />
<rect x="347.70" y="209.00" width="34.30" height="6.30" fill="#0b4ea2" />
<rect x="382.00" y="209.00" width="1.80" height="6.30" fill="#f5d90a" />
<rect x="383.80" y="209.00" width="4.90" height="6.30" fill="#0b4ea2" />
<rect x="388.70" y="209.00" width="38.80" height="6.30" fill="#e9e9f1" />
<rect x="427.50" y="209.00" width="16.50" height="6.30" fill="#f5d90a" />
<rect x="296.80" y="216.00" width="16.80" height="5.80" fill="#808080" />
<rect x="313.60" y="216.00" width="5.20" height="5.80" fill="#0a0a0a" />
<rect x="318.80" y="216.00" width="9.70" height="5.80" fill="#808080" />
<rect x="328.50" y="216.00" width="2.30" height="5.80" fill="#0a0a0a" />
<rect x="330.80" y="216.00" width="36.20" height="5.80" fill="#808080" />
<rect x="367.00" y="216.00" width="2.40" height="5.80" fill="#f6f6f0" />
<rect x="369.40" y="216.00" width="4.80" height="5.80" fill="#808080" />
<rect x="374.20" y="216.00" width="4.80" height="5.80" fill="#f6f6f0" />
<rect x="379.00" y="216.00" width="48.50" height="5.80" fill="#808080" />
<rect x="427.50" y="216.00" width="3.50" height="5.80" fill="#0a0a0a" />
<rect x="431.00" y="216.00" width="3.20" height="5.80" fill="#f6f6f0" />
<rect x="434.20" y="216.00" width="2.50" height="5.80" fill="#0a0a0a" />
<rect x="436.70" y="216.00" width="4.80" height="5.80" fill="#f6f6f0" />
<rect x="441.50" y="216.00" width="2.50" height="5.80" fill="#0a0a0a" />
<text x="445.60" y="207.30" font-size="5.6" fill="#222" text-anchor="start" font-weight="normal" >Groups</text>
<text x="445.60" y="214.30" font-size="5.6" fill="#222" text-anchor="start" font-weight="normal" >IGHV</text>
<text x="445.60" y="221.00" font-size="5.6" fill="#222" text-anchor="start" font-weight="normal" >Tris12</text>
<path d="M297.97 201.9V199.19M300.30 201.9V199.19M297.97 199.19H300.30M302.63 201.9V199.46M304.96 201.9V199.46M302.63 199.46H304.96M307.29 201.9V199.33M309.62 201.9V199.33M311.95 201.9V199.33M314.28 201.9V199.33M307.29 199.33H314.28M316.61 201.9V199.82M318.94 201.9V199.82M321.27 201.9V199.82M323.60 201.9V199.82M316.61 199.82H323.60M325.93 201.9V198.81M328.26 201.9V198.81M325.93 198.81H328.26M330.59 201.9V199.59M332.92 201.9V199.59M335.25 201.9V199.59M330.59 199.59H335.25M337.58 201.9V199.67M339.91 201.9V199.67M337.58 199.67H339.91M342.24 201.9V199.25M344.57 201.9V199.25M346.90 201.9V199.25M342.24 199.25H346.90M349.23 201.9V199.33M351.56 201.9V199.33M353.89 201.9V199.33M356.22 201.9V199.33M349.23 199.33H356.22M358.55 201.9V199.62M360.88 201.9V199.62M358.55 199.62H360.88M363.21 201.9V198.86M365.54 201.9V198.86M363.21 198.86H365.54M367.87 201.9V199.43M370.20 201.9V199.43M372.53 201.9V199.43M374.86 201.9V199.43M367.87 199.43H374.86M377.19 201.9V199.09M379.52 201.9V199.09M377.19 199.09H379.52M381.85 201.9V199.71M384.18 201.9V199.71M381.85 199.71H384.18M386.51 201.9V199.85M388.84 201.9V199.85M391.17 201.9V199.85M393.50 201.9V199.85M386.51 199.85H393.50M395.83 201.9V198.91M398.16 201.9V198.91M395.83 198.91H398.16M400.49 201.9V199.33M402.82 201.9V199.33M405.15 201.9V199.33M400.49 199.33H405.15M407.48 201.9V199.04M409.81 201.9V199.04M412.14 201.9V199.04M407.48 199.04H412.14M414.47 201.9V199.43M416.80 201.9V199.43M419.13 201.9V199.43M414.47 199.43H419.13M421.46 201.9V199.37M423.79 201.9V199.37M426.12 201.9V199.37M428.45 201.9V199.37M421.46 199.37H428.45M430.78 201.9V198.85M433.11 201.9V198.85M430.78 198.85H433.11M435.44 201.9V199.86M437.77 201.9V199.86M435.44 199.86H437.77M440.10 201.9V199.64M442.43 201.9V199.64M440.10 199.64H442.43M299.13 199.19V197.90M303.79 199.46V197.90M310.78 199.33V197.90M299.13 197.90H310.78M320.10 199.82V197.14M327.09 198.81V197.14M332.92 199.59V197.14M320.10 197.14H332.92M338.74 199.67V197.89M344.57 199.25V197.89M338.74 197.89H344.57M352.72 199.33V197.91M359.71 199.62V197.91M352.72 197.91H359.71M364.37 198.86V197.43M371.37 199.43V197.43M378.36 199.09V197.43M364.37 197.43H378.36M383.02 199.71V197.80M390.01 199.85V197.80M397.00 198.91V197.80M383.02 197.80H397.00M402.82 199.33V197.53M409.81 199.04V197.53M402.82 197.53H409.81M416.80 199.43V197.70M424.96 199.37V197.70M416.80 197.70H424.96M431.95 198.85V197.34M436.61 199.86V197.34M441.27 199.64V197.34M431.95 197.34H441.27" stroke="#6e6e6e" stroke-width="0.45" fill="none"/>
<path d="M377.3 194H377.3V188H436.5V196.6M346 195.4V193.8H417V196.2M309 196.6V195.4H368.5V196.6M398 196.6V195.6H424V196.6M431.5 198V196.6H440.5V198" stroke="#555" stroke-width="0.5" fill="none"/>
<rect x="289.10" y="223.10" width="7.10" height="23.90" fill="#e8436b" />
<rect x="283.60" y="223.10" width="5.50" height="23.90" fill="#0a0a0a" />
<path d="M283.3 223.5h0.8M283.3 224.5h1.8M283.3 225.4h3.4M283.3 226.6h2.4M283.3 227.5h2.4M286.4 227.8h0.6M283.3 228.7h1.8M283.3 229.8h3.4M287.4 230.1h0.8M283.3 231.0h0.8M283.3 232.1h2.4M286.4 232.4h0.9M283.3 233.1h2.4M283.3 234.3h2.4M283.3 235.3h2.4M286.4 235.6h0.8M283.3 236.4h1.8M283.3 237.3h2.4M286.4 237.6h0.9M283.3 238.4h0.8M284.8 238.7h0.7M283.3 239.4h1.8M285.8 239.7h0.7M283.3 240.4h1.2M283.3 241.7h3.4M283.3 242.6h3.4M287.4 242.9h0.8M283.3 243.4h0.8M284.8 243.7h0.8M283.3 244.4h1.8M283.3 245.6h0.8" stroke="#ffffff" stroke-width="0.62" fill="none"/>
<text x="272.40" y="237.25" font-size="6.2" fill="#222" text-anchor="middle" font-weight="normal" >1</text>
<rect x="289.10" y="248.90" width="7.10" height="17.70" fill="#6abf40" />
<rect x="283.60" y="248.90" width="5.50" height="17.70" fill="#0a0a0a" />
<path d="M283.3 249.3h2.4M283.3 250.2h3.4M283.3 251.3h1.8M285.8 251.6h0.7M283.3 252.4h2.4M286.4 252.7h0.6M283.3 253.5h3.4M287.4 253.8h0.6M283.3 254.6h0.8M283.3 255.6h2.4M283.3 256.7h2.4M283.3 257.6h1.8M285.8 257.9h0.6M283.3 258.6h3.4M283.3 259.5h3.0M283.3 260.4h1.2M283.3 261.5h1.8M283.3 262.5h3.4M283.3 263.6h3.0M283.3 264.7h1.8M283.3 265.5h1.8M285.8 265.8h0.9" stroke="#ffffff" stroke-width="0.62" fill="none"/>
<text x="272.40" y="259.95" font-size="6.2" fill="#222" text-anchor="middle" font-weight="normal" >5</text>
<rect x="289.10" y="268.30" width="7.10" height="29.70" fill="#3a8fd9" />
<rect x="283.60" y="268.30" width="5.50" height="29.70" fill="#0a0a0a" />
<path d="M283.3 268.7h2.4M286.4 269.0h1.0M283.3 269.9h1.2M283.3 270.9h1.2M283.3 272.0h1.8M283.3 273.1h1.2M285.2 273.4h0.8M283.3 274.0h1.2M285.2 274.3h0.6M283.3 275.2h1.2M285.2 275.5h0.8M283.3 276.4h3.0M283.3 277.3h2.4M286.4 277.6h0.8M283.3 278.4h3.0M283.3 279.4h2.4M286.4 279.7h0.9M283.3 280.5h2.4M283.3 281.6h1.2M283.3 282.5h1.8M283.3 283.6h1.2M285.2 283.9h0.8M283.3 284.7h1.2M285.2 285.0h0.6M283.3 285.6h1.2M285.2 285.9h0.7M283.3 286.5h3.0M287.0 286.8h0.9M283.3 287.5h2.4M283.3 288.4h1.2M283.3 289.6h2.4M283.3 290.8h3.4M287.4 291.1h0.8M283.3 291.7h2.4M283.3 292.7h2.4M286.4 293.0h0.6M283.3 293.8h1.8M285.8 294.1h0.9M283.3 295.0h3.4M283.3 296.1h1.8M283.3 296.9h1.2M285.2 297.2h1.0" stroke="#ffffff" stroke-width="0.62" fill="none"/>
<text x="272.40" y="285.35" font-size="6.2" fill="#222" text-anchor="middle" font-weight="normal" >3</text>
<rect x="289.10" y="300.00" width="7.10" height="33.80" fill="#5cc8d8" />
<rect x="283.60" y="300.00" width="5.50" height="33.80" fill="#0a0a0a" />
<path d="M283.3 300.4h1.8M283.3 301.4h2.4M286.4 301.7h0.7M283.3 302.5h2.4M286.4 302.8h0.6M283.3 303.5h3.0M283.3 304.6h2.4M283.3 305.8h1.2M283.3 306.8h1.2M283.3 307.8h1.8M283.3 308.9h2.4M286.4 309.2h0.8M283.3 310.0h2.4M286.4 310.3h0.8M283.3 311.0h3.0M287.0 311.3h0.9M283.3 312.0h1.2M283.3 313.1h1.2M285.2 313.4h0.6M283.3 314.0h3.0M283.3 315.2h3.4M283.3 316.0h2.4M283.3 317.0h3.0M287.0 317.3h0.6M283.3 318.0h3.4M287.4 318.3h0.7M283.3 319.1h1.2M285.2 319.4h0.8M283.3 320.1h3.0M287.0 320.4h0.6M283.3 321.2h3.4M287.4 321.5h0.7M283.3 322.4h1.8M283.3 323.5h2.4M286.4 323.8h0.7M283.3 324.7h1.2M283.3 325.6h3.0M283.3 326.5h0.8M283.3 327.7h0.8M283.3 328.6h3.0M287.0 328.9h0.9M283.3 329.8h1.8M283.3 330.8h1.8M283.3 331.8h2.4M283.3 332.8h1.2M285.2 333.1h0.7" stroke="#ffffff" stroke-width="0.62" fill="none"/>
<text x="272.40" y="319.10" font-size="6.2" fill="#222" text-anchor="middle" font-weight="normal" >4</text>
<rect x="289.10" y="335.60" width="7.10" height="29.80" fill="#b83a9a" />
<rect x="283.60" y="335.60" width="5.50" height="29.80" fill="#0a0a0a" />
<path d="M283.3 336.0h3.4M287.4 336.3h0.7M283.3 336.9h1.2M285.2 337.2h0.9M283.3 337.8h3.0M287.0 338.1h0.8M283.3 338.8h3.4M283.3 339.7h2.4M283.3 340.7h1.8M283.3 341.6h1.8M283.3 342.7h3.0M287.0 343.0h0.5M283.3 343.8h2.4M283.3 344.8h1.2M283.3 345.8h1.2M283.3 346.8h0.8M284.8 347.1h0.8M283.3 347.9h2.4M286.4 348.2h1.0M283.3 348.9h2.4M286.4 349.2h0.6M283.3 350.0h3.4M287.4 350.3h0.5M283.3 350.9h2.4M283.3 351.8h3.0M287.0 352.1h0.7M283.3 353.1h1.2M283.3 353.9h1.2M283.3 354.8h3.0M283.3 355.9h3.4M283.3 357.2h1.2M285.2 357.5h0.8M283.3 358.0h1.2M283.3 359.1h0.8M283.3 360.1h3.4M283.3 361.3h1.2M283.3 362.3h2.4M286.4 362.6h0.6M283.3 363.4h1.2M283.3 364.5h0.8M284.8 364.8h0.8" stroke="#ffffff" stroke-width="0.62" fill="none"/>
<text x="272.40" y="352.70" font-size="6.2" fill="#222" text-anchor="middle" font-weight="normal" >2</text>
<defs><filter id="hb" x="-2%" y="-2%" width="104%" height="104%"><feGaussianBlur stdDeviation="0.55 0.4"/></filter></defs>
<g filter="url(#hb)">
<path d="M390.0 223.6h2.4M390.0 224.6h2.4M390.0 226.6h2.4M399.3 226.6h2.4M392.3 227.6h2.4M397.0 229.6h9.4M401.7 230.6h2.4M394.7 245.5h2.4M392.3 246.5h4.7M371.4 250.4h2.4M434.3 268.8h2.4M390.0 296.5h2.4M427.3 297.5h2.4M431.9 326.3h4.7M406.3 339.1h2.4M415.6 343.1h2.4M390.0 349.0h2.4M390.0 351.0h7.0M401.7 351.0h4.7M413.3 351.0h4.7M401.7 352.0h2.4M406.3 352.0h2.4M390.0 353.0h2.4M390.0 355.0h4.7M399.3 355.0h2.4M404.0 355.0h2.4M397.0 356.0h2.4M401.7 357.0h2.4M390.0 358.9h2.4M394.7 358.9h2.4M401.7 359.9h2.4" stroke="rgb(72,58,172)" stroke-width="1.12" fill="none"/>
<path d="M392.3 223.6h2.4M404.0 223.6h2.4M404.0 224.6h2.4M401.7 225.6h2.4M401.7 226.6h2.4M404.0 230.6h2.4M390.0 235.5h2.4M371.4 252.3h2.4M376.0 257.3h2.4M317.8 263.2h2.4M345.7 264.1h2.4M429.6 268.8h2.4M401.7 281.7h2.4M434.3 282.7h2.4M438.9 283.6h2.4M392.3 296.5h2.4M429.6 301.5h2.4M438.9 301.5h2.4M427.3 304.5h2.4M438.9 304.5h2.4M427.3 310.4h4.7M436.6 310.4h7.0M436.6 314.4h4.7M434.3 317.4h2.4M429.6 323.4h2.4M431.9 329.3h2.4M438.9 329.3h2.4M429.6 330.3h4.7M431.9 331.3h2.4M436.6 331.3h2.4M413.3 339.1h2.4M418.0 340.1h2.4M413.3 341.1h2.4M413.3 343.1h2.4M434.3 343.1h2.4M406.3 346.0h2.4M438.9 346.0h2.4M397.0 349.0h2.4M401.7 349.0h2.4M399.3 351.0h2.4M411.0 352.0h2.4M418.0 352.0h2.4M406.3 353.0h2.4M434.3 355.0h2.4M401.7 356.0h2.4M392.3 358.9h2.4M406.3 358.9h2.4M431.9 358.9h2.4M397.0 359.9h2.4M397.0 360.9h2.4M411.0 360.9h2.4M413.3 361.9h2.4M390.0 362.9h2.4M399.3 362.9h2.4M408.6 364.9h2.4" stroke="rgb(86,69,179)" stroke-width="1.12" fill="none"/>
<path d="M401.7 224.6h2.4M394.7 226.6h2.4M404.0 226.6h2.4M401.7 227.6h2.4M401.7 228.6h4.7M392.3 235.5h2.4M390.0 246.5h2.4M317.8 249.4h2.4M362.0 250.4h2.4M366.7 252.3h2.4M366.7 255.3h2.4M343.4 258.2h2.4M299.1 264.1h2.4M427.3 268.8h2.4M436.6 268.8h2.4M441.3 268.8h2.4M434.3 269.8h2.4M429.6 271.8h4.7M390.0 272.8h2.4M401.7 272.8h2.4M399.3 278.7h2.4M429.6 278.7h4.7M431.9 280.7h4.7M427.3 281.7h2.4M434.3 281.7h2.4M429.6 282.7h2.4M438.9 282.7h2.4M431.9 283.6h4.7M431.9 289.6h2.4M429.6 290.6h2.4M436.6 290.6h2.4M431.9 291.6h2.4M436.6 292.6h4.7M429.6 295.5h2.4M438.9 295.5h4.7M394.7 297.5h2.4M434.3 301.5h2.4M434.3 302.5h2.4M434.3 304.5h4.7M441.3 304.5h2.4M434.3 309.4h4.7M431.9 310.4h4.7M431.9 312.4h2.4M427.3 314.4h4.7M434.3 314.4h2.4M434.3 315.4h2.4M427.3 316.4h2.4M436.6 316.4h2.4M431.9 317.4h2.4M434.3 318.4h2.4M427.3 319.4h4.7M434.3 319.4h7.0M429.6 320.4h2.4M434.3 320.4h7.0M434.3 321.4h2.4M431.9 323.4h2.4M436.6 323.4h2.4M429.6 326.3h2.4M441.3 327.3h2.4M431.9 328.3h2.4M434.3 329.3h2.4M427.3 331.3h4.7M441.3 331.3h2.4M434.3 332.3h4.7M436.6 339.1h2.4M411.0 340.1h2.4M406.3 342.1h4.7M427.3 342.1h2.4M392.3 349.0h2.4M399.3 349.0h2.4M404.0 349.0h2.4M397.0 351.0h2.4M434.3 351.0h2.4M392.3 352.0h2.4M392.3 353.0h2.4M401.7 353.0h2.4M411.0 353.0h2.4M394.7 354.0h2.4M399.3 354.0h2.4M406.3 354.0h2.4M394.7 355.0h4.7M429.6 355.0h2.4M438.9 355.0h2.4M434.3 356.0h2.4M397.0 357.9h4.7M406.3 357.9h2.4M399.3 358.9h2.4M404.0 358.9h2.4M411.0 358.9h2.4M429.6 358.9h2.4M418.0 359.9h2.4M392.3 360.9h2.4M399.3 360.9h2.4M401.7 362.9h2.4" stroke="rgb(99,81,185)" stroke-width="1.12" fill="none"/>
<path d="M394.7 223.6h2.4M399.3 224.6h2.4M399.3 225.6h2.4M394.7 227.6h4.7M404.0 227.6h2.4M397.0 231.6h2.4M404.0 231.6h2.4M390.0 234.6h2.4M425.0 236.5h2.4M399.3 240.5h2.4M404.0 240.5h2.4M371.4 241.5h2.4M390.0 241.5h2.4M397.0 241.5h2.4M415.6 241.5h2.4M390.0 245.5h2.4M310.8 253.3h2.4M369.0 255.3h2.4M350.4 258.2h2.4M296.8 263.2h2.4M387.7 264.1h2.4M431.9 268.8h2.4M441.3 269.8h2.4M431.9 270.8h4.7M441.3 270.8h2.4M434.3 271.8h2.4M438.9 271.8h2.4M394.7 272.8h2.4M427.3 275.7h4.7M434.3 275.7h2.4M438.9 275.7h4.7M401.7 277.7h2.4M427.3 277.7h2.4M434.3 277.7h9.4M436.6 278.7h2.4M431.9 279.7h4.7M427.3 280.7h2.4M436.6 280.7h7.0M404.0 281.7h2.4M431.9 281.7h2.4M441.3 281.7h2.4M431.9 282.7h2.4M404.0 283.6h2.4M427.3 283.6h4.7M436.6 283.6h2.4M429.6 284.6h2.4M434.3 284.6h2.4M434.3 286.6h4.7M427.3 287.6h2.4M438.9 287.6h2.4M429.6 288.6h2.4M434.3 288.6h4.7M429.6 289.6h2.4M434.3 289.6h4.7M431.9 290.6h2.4M438.9 290.6h2.4M422.6 291.6h2.4M427.3 291.6h2.4M436.6 291.6h2.4M434.3 292.6h2.4M441.3 292.6h2.4M436.6 293.5h4.7M434.3 294.5h2.4M438.9 294.5h2.4M431.9 295.5h2.4M429.6 296.5h2.4M434.3 296.5h2.4M441.3 296.5h2.4M431.9 297.5h7.0M434.3 300.5h2.4M431.9 301.5h2.4M429.6 302.5h2.4M429.6 303.5h2.4M431.9 304.5h2.4M431.9 305.5h4.7M438.9 305.5h4.7M438.9 306.5h2.4M429.6 307.5h2.4M436.6 307.5h2.4M441.3 308.4h2.4M427.3 309.4h7.0M431.9 311.4h2.4M429.6 312.4h2.4M431.9 313.4h4.7M431.9 314.4h2.4M441.3 314.4h2.4M429.6 316.4h4.7M438.9 316.4h2.4M429.6 317.4h2.4M429.6 318.4h4.7M438.9 318.4h2.4M427.3 320.4h2.4M431.9 320.4h2.4M431.9 321.4h2.4M436.6 321.4h2.4M434.3 322.4h7.0M427.3 323.4h2.4M434.3 323.4h2.4M441.3 323.4h2.4M431.9 324.4h7.0M427.3 325.4h2.4M434.3 325.4h2.4M427.3 326.3h2.4M436.6 326.3h4.7M427.3 327.3h2.4M436.6 327.3h2.4M434.3 328.3h2.4M427.3 329.3h2.4M441.3 329.3h2.4M427.3 330.3h2.4M434.3 330.3h2.4M438.9 330.3h2.4M434.3 331.3h2.4M438.9 331.3h2.4M441.3 332.3h2.4M429.6 333.3h7.0M429.6 338.1h2.4M434.3 338.1h4.7M441.3 338.1h2.4M408.6 339.1h2.4M429.6 339.1h2.4M434.3 339.1h2.4M438.9 339.1h2.4M411.0 341.1h2.4M411.0 342.1h2.4M415.6 342.1h2.4M436.6 342.1h4.7M418.0 343.1h2.4M431.9 343.1h2.4M436.6 343.1h4.7M406.3 344.0h4.7M415.6 344.0h2.4M406.3 345.0h2.4M408.6 346.0h4.7M427.3 346.0h2.4M434.3 347.0h2.4M394.7 350.0h2.4M436.6 352.0h4.7M394.7 353.0h2.4M408.6 353.0h2.4M422.6 353.0h7.0M431.9 354.0h2.4M401.7 355.0h2.4M411.0 355.0h2.4M415.6 355.0h2.4M427.3 355.0h2.4M431.9 355.0h2.4M441.3 355.0h2.4M413.3 356.0h2.4M431.9 356.0h2.4M436.6 356.0h4.7M404.0 357.0h4.7M392.3 357.9h2.4M404.0 357.9h2.4M434.3 357.9h2.4M434.3 358.9h7.0M394.7 359.9h2.4M438.9 360.9h2.4M401.7 361.9h2.4M422.6 361.9h2.4M404.0 362.9h2.4M406.3 363.9h2.4M418.0 363.9h2.4M399.3 364.9h4.7M406.3 364.9h2.4M418.0 364.9h2.4" stroke="rgb(113,92,192)" stroke-width="1.12" fill="none"/>
<path d="M397.0 223.6h2.4M401.7 223.6h2.4M392.3 225.6h2.4M397.0 225.6h2.4M404.0 225.6h2.4M392.3 226.6h2.4M371.4 228.6h2.4M399.3 228.6h2.4M390.0 229.6h2.4M394.7 229.6h2.4M397.0 230.6h2.4M399.3 231.6h2.4M394.7 234.6h2.4M404.0 237.5h2.4M343.4 240.5h2.4M371.4 240.5h2.4M401.7 240.5h2.4M401.7 241.5h2.4M397.0 245.5h2.4M401.7 246.5h2.4M296.8 249.4h4.7M348.1 250.4h2.4M317.8 252.3h2.4M371.4 254.3h2.4M355.1 255.3h2.4M362.0 255.3h2.4M343.4 256.3h2.4M362.0 261.2h2.4M296.8 262.2h2.4M310.8 263.2h2.4M315.4 264.1h2.4M306.1 265.1h2.4M317.8 265.1h2.4M355.1 265.1h2.4M364.4 265.1h2.4M338.7 266.1h2.4M429.6 269.8h4.7M436.6 269.8h4.7M427.3 270.8h2.4M436.6 270.8h2.4M427.3 271.8h2.4M441.3 271.8h2.4M397.0 272.8h2.4M404.0 272.8h2.4M429.6 272.8h7.0M438.9 272.8h2.4M427.3 273.7h4.7M434.3 273.7h2.4M438.9 273.7h2.4M434.3 274.7h2.4M438.9 274.7h2.4M427.3 276.7h4.7M434.3 276.7h2.4M429.6 277.7h4.7M401.7 278.7h2.4M434.3 278.7h2.4M441.3 278.7h2.4M427.3 279.7h4.7M436.6 279.7h2.4M429.6 281.7h2.4M438.9 281.7h2.4M436.6 282.7h2.4M441.3 282.7h2.4M399.3 284.6h4.7M431.9 284.6h2.4M436.6 284.6h2.4M434.3 285.6h2.4M438.9 285.6h4.7M431.9 286.6h2.4M429.6 287.6h2.4M434.3 287.6h4.7M427.3 288.6h2.4M431.9 288.6h2.4M438.9 288.6h2.4M427.3 289.6h2.4M438.9 289.6h4.7M427.3 290.6h2.4M434.3 290.6h2.4M441.3 290.6h2.4M429.6 291.6h2.4M434.3 291.6h2.4M427.3 292.6h7.0M427.3 293.5h2.4M434.3 293.5h2.4M441.3 293.5h2.4M427.3 294.5h7.0M436.6 294.5h2.4M441.3 294.5h2.4M434.3 295.5h4.7M397.0 296.5h2.4M436.6 296.5h4.7M390.0 297.5h2.4M404.0 297.5h2.4M429.6 297.5h2.4M438.9 297.5h4.7M436.6 300.5h2.4M441.3 300.5h2.4M427.3 301.5h2.4M427.3 302.5h2.4M431.9 302.5h2.4M436.6 302.5h7.0M427.3 303.5h2.4M431.9 303.5h2.4M436.6 303.5h7.0M427.3 305.5h4.7M427.3 306.5h4.7M438.9 307.5h2.4M431.9 308.4h2.4M438.9 309.4h4.7M427.3 311.4h2.4M434.3 311.4h4.7M441.3 311.4h2.4M427.3 312.4h2.4M434.3 312.4h2.4M438.9 312.4h2.4M429.6 313.4h2.4M436.6 313.4h7.0M429.6 315.4h4.7M436.6 315.4h2.4M441.3 315.4h2.4M434.3 316.4h2.4M441.3 316.4h2.4M427.3 317.4h2.4M436.6 318.4h2.4M441.3 318.4h2.4M431.9 319.4h2.4M427.3 321.4h4.7M438.9 321.4h4.7M429.6 322.4h2.4M441.3 322.4h2.4M429.6 324.4h2.4M438.9 324.4h4.7M429.6 325.4h4.7M436.6 325.4h2.4M441.3 326.3h2.4M429.6 327.3h7.0M438.9 327.3h2.4M427.3 328.3h4.7M438.9 328.3h4.7M420.3 329.3h2.4M429.6 329.3h2.4M436.6 329.3h2.4M436.6 330.3h2.4M441.3 330.3h2.4M427.3 332.3h7.0M438.9 332.3h2.4M427.3 333.3h2.4M438.9 333.3h2.4M427.3 336.1h2.4M434.3 336.1h2.4M441.3 336.1h2.4M427.3 337.1h4.7M441.3 337.1h2.4M427.3 338.1h2.4M427.3 339.1h2.4M431.9 339.1h2.4M408.6 340.1h2.4M415.6 340.1h2.4M429.6 340.1h2.4M438.9 340.1h4.7M406.3 341.1h2.4M418.0 341.1h2.4M434.3 341.1h2.4M438.9 341.1h2.4M429.6 342.1h7.0M441.3 342.1h2.4M411.0 343.1h2.4M420.3 343.1h2.4M427.3 343.1h4.7M418.0 345.0h2.4M429.6 345.0h2.4M434.3 345.0h2.4M441.3 345.0h2.4M429.6 346.0h9.4M431.9 347.0h2.4M438.9 347.0h2.4M434.3 348.0h2.4M427.3 349.0h16.4M425.0 350.0h2.4M434.3 350.0h4.7M441.3 350.0h2.4M408.6 351.0h2.4M418.0 351.0h2.4M427.3 351.0h2.4M431.9 351.0h2.4M438.9 351.0h2.4M404.0 352.0h2.4M408.6 352.0h2.4M427.3 352.0h7.0M397.0 353.0h2.4M415.6 353.0h2.4M434.3 353.0h2.4M392.3 354.0h2.4M434.3 354.0h7.0M420.3 355.0h2.4M436.6 355.0h2.4M392.3 356.0h2.4M399.3 356.0h2.4M406.3 356.0h4.7M429.6 356.0h2.4M441.3 356.0h2.4M427.3 357.0h2.4M431.9 357.0h7.0M390.0 357.9h2.4M411.0 357.9h2.4M418.0 357.9h2.4M429.6 357.9h2.4M436.6 357.9h4.7M418.0 358.9h2.4M427.3 358.9h2.4M441.3 358.9h2.4M406.3 359.9h2.4M415.6 359.9h2.4M438.9 359.9h4.7M390.0 360.9h2.4M404.0 360.9h2.4M429.6 360.9h2.4M434.3 360.9h4.7M394.7 361.9h4.7M392.3 362.9h2.4M406.3 362.9h2.4M431.9 362.9h2.4M390.0 363.9h2.4M413.3 363.9h2.4M394.7 364.9h2.4M436.6 364.9h2.4" stroke="rgb(129,107,198)" stroke-width="1.12" fill="none"/>
<path d="M399.3 223.6h2.4M392.3 224.6h2.4M390.0 225.6h2.4M394.7 225.6h2.4M348.1 226.6h2.4M371.4 226.6h2.4M397.0 228.6h2.4M392.3 229.6h2.4M415.6 230.6h2.4M397.0 232.6h2.4M350.4 233.6h2.4M336.4 235.5h2.4M362.0 240.5h2.4M376.0 240.5h2.4M418.0 241.5h2.4M308.5 242.5h2.4M404.0 246.5h2.4M310.8 249.4h2.4M310.8 250.4h2.4M357.4 250.4h4.7M350.4 251.4h2.4M371.4 251.4h2.4M355.1 253.3h2.4M364.4 254.3h2.4M369.0 254.3h2.4M306.1 255.3h2.4M329.4 255.3h2.4M348.1 255.3h2.4M364.4 255.3h2.4M362.0 256.3h2.4M341.1 257.3h2.4M371.4 257.3h2.4M315.4 259.2h4.7M359.7 260.2h2.4M296.8 261.2h2.4M303.8 263.2h2.4M338.7 263.2h4.7M303.8 264.1h2.4M317.8 264.1h2.4M338.7 264.1h2.4M308.5 265.1h2.4M338.7 265.1h2.4M376.0 265.1h2.4M401.7 268.8h2.4M438.9 268.8h2.4M404.0 269.8h2.4M427.3 269.8h2.4M429.6 270.8h2.4M438.9 270.8h2.4M401.7 271.8h2.4M436.6 271.8h2.4M392.3 272.8h2.4M427.3 272.8h2.4M441.3 272.8h2.4M431.9 273.7h2.4M436.6 273.7h2.4M441.3 273.7h2.4M399.3 274.7h2.4M404.0 274.7h2.4M427.3 274.7h4.7M422.6 275.7h2.4M431.9 275.7h2.4M399.3 276.7h4.7M431.9 276.7h2.4M436.6 276.7h2.4M399.3 277.7h2.4M404.0 278.7h2.4M427.3 278.7h2.4M438.9 278.7h2.4M438.9 279.7h4.7M399.3 280.7h2.4M397.0 281.7h2.4M436.6 281.7h2.4M399.3 283.6h2.4M441.3 283.6h2.4M427.3 284.6h2.4M438.9 284.6h4.7M397.0 285.6h7.0M429.6 285.6h2.4M427.3 286.6h4.7M441.3 287.6h2.4M441.3 288.6h2.4M438.9 291.6h4.7M429.6 293.5h2.4M427.3 295.5h2.4M401.7 296.5h4.7M427.3 296.5h2.4M341.1 297.5h2.4M392.3 297.5h2.4M399.3 297.5h2.4M427.3 300.5h7.0M438.9 300.5h2.4M406.3 301.5h2.4M436.6 301.5h2.4M441.3 301.5h2.4M362.0 302.5h2.4M415.6 302.5h2.4M434.3 303.5h2.4M429.6 304.5h2.4M436.6 305.5h2.4M431.9 306.5h7.0M427.3 307.5h2.4M431.9 307.5h4.7M441.3 307.5h2.4M427.3 308.4h4.7M434.3 308.4h7.0M429.6 311.4h2.4M438.9 311.4h2.4M441.3 312.4h2.4M427.3 313.4h2.4M427.3 315.4h2.4M438.9 315.4h2.4M338.7 317.4h2.4M343.4 317.4h2.4M438.9 317.4h4.7M427.3 318.4h2.4M441.3 319.4h2.4M427.3 322.4h2.4M431.9 322.4h2.4M438.9 323.4h2.4M427.3 324.4h2.4M438.9 325.4h4.7M436.6 328.3h2.4M436.6 333.3h2.4M441.3 333.3h2.4M429.6 336.1h4.7M436.6 336.1h4.7M436.6 337.1h2.4M431.9 338.1h2.4M438.9 338.1h2.4M411.0 339.1h2.4M441.3 339.1h2.4M431.9 340.1h4.7M408.6 341.1h2.4M429.6 341.1h2.4M425.0 342.1h2.4M390.0 343.1h2.4M420.3 344.0h2.4M431.9 344.0h2.4M438.9 344.0h2.4M411.0 345.0h2.4M415.6 345.0h2.4M427.3 345.0h2.4M431.9 345.0h2.4M438.9 345.0h2.4M415.6 346.0h4.7M441.3 346.0h2.4M427.3 347.0h4.7M436.6 347.0h2.4M441.3 347.0h2.4M429.6 348.0h4.7M429.6 350.0h2.4M411.0 351.0h2.4M425.0 351.0h2.4M441.3 351.0h2.4M390.0 352.0h2.4M399.3 352.0h2.4M413.3 352.0h2.4M434.3 352.0h2.4M404.0 353.0h2.4M420.3 353.0h2.4M436.6 353.0h2.4M441.3 353.0h2.4M401.7 354.0h2.4M408.6 354.0h2.4M418.0 354.0h2.4M441.3 354.0h2.4M413.3 355.0h2.4M390.0 356.0h2.4M394.7 356.0h2.4M427.3 356.0h2.4M390.0 357.0h2.4M394.7 357.0h2.4M418.0 357.0h2.4M429.6 357.0h2.4M441.3 357.0h2.4M394.7 357.9h2.4M408.6 357.9h2.4M415.6 357.9h2.4M427.3 357.9h2.4M431.9 357.9h2.4M399.3 359.9h2.4M408.6 359.9h2.4M413.3 359.9h2.4M429.6 359.9h9.4M408.6 360.9h2.4M413.3 360.9h4.7M427.3 360.9h2.4M441.3 360.9h2.4M392.3 361.9h2.4M411.0 361.9h2.4M420.3 361.9h2.4M438.9 361.9h2.4M413.3 362.9h4.7M422.6 362.9h2.4M438.9 362.9h4.7M408.6 363.9h2.4M415.6 363.9h2.4M390.0 364.9h2.4M404.0 364.9h2.4M413.3 364.9h2.4M429.6 364.9h2.4M434.3 364.9h2.4M438.9 364.9h4.7" stroke="rgb(147,124,205)" stroke-width="1.12" fill="none"/>
<path d="M317.8 224.6h2.4M341.1 224.6h2.4M425.0 226.6h2.4M341.1 227.6h2.4M296.8 228.6h2.4M317.8 228.6h2.4M394.7 228.6h2.4M401.7 231.6h2.4M406.3 233.6h2.4M392.3 234.6h2.4M394.7 235.5h2.4M406.3 235.5h2.4M348.1 236.5h2.4M341.1 239.5h4.7M338.7 240.5h2.4M390.0 240.5h2.4M397.0 240.5h2.4M387.7 241.5h2.4M413.3 241.5h2.4M362.0 242.5h2.4M399.3 242.5h2.4M390.0 244.5h2.4M411.0 244.5h2.4M397.0 246.5h2.4M406.3 246.5h2.4M308.5 249.4h2.4M324.8 249.4h2.4M338.7 249.4h7.0M362.0 249.4h2.4M369.0 249.4h4.7M296.8 250.4h2.4M350.4 250.4h2.4M376.0 250.4h2.4M357.4 251.4h2.4M369.0 251.4h2.4M355.1 252.3h2.4M296.8 253.3h2.4M359.7 253.3h2.4M366.7 253.3h2.4M362.0 254.3h2.4M376.0 255.3h4.7M296.8 257.3h2.4M366.7 257.3h2.4M296.8 258.2h2.4M366.7 258.2h2.4M308.5 259.2h2.4M345.7 259.2h2.4M371.4 259.2h2.4M317.8 260.2h2.4M366.7 260.2h4.7M317.8 261.2h2.4M306.1 262.2h2.4M324.8 262.2h2.4M308.5 263.2h2.4M366.7 263.2h2.4M296.8 264.1h2.4M306.1 264.1h7.0M343.4 265.1h2.4M350.4 265.1h2.4M371.4 265.1h2.4M296.8 266.1h2.4M401.7 269.8h2.4M397.0 270.8h2.4M397.0 271.8h4.7M401.7 274.7h2.4M436.6 274.7h2.4M441.3 274.7h2.4M436.6 275.7h2.4M397.0 276.7h2.4M404.0 276.7h2.4M438.9 276.7h4.7M429.6 280.7h2.4M427.3 282.7h2.4M397.0 283.6h2.4M401.7 283.6h2.4M397.0 284.6h2.4M418.0 284.6h2.4M427.3 285.6h2.4M431.9 285.6h2.4M436.6 285.6h2.4M438.9 286.6h4.7M431.9 287.6h2.4M431.9 293.5h2.4M420.3 296.5h2.4M431.9 296.5h2.4M411.0 301.5h2.4M420.3 305.5h2.4M441.3 306.5h2.4M366.7 309.4h2.4M436.6 312.4h2.4M436.6 317.4h2.4M441.3 320.4h2.4M336.4 322.4h2.4M341.1 323.4h2.4M343.4 324.4h2.4M422.6 330.3h2.4M406.3 336.1h2.4M431.9 337.1h4.7M438.9 337.1h2.4M413.3 340.1h2.4M436.6 340.1h2.4M425.0 341.1h4.7M431.9 341.1h2.4M436.6 341.1h2.4M413.3 342.1h2.4M418.0 342.1h2.4M406.3 343.1h2.4M441.3 343.1h2.4M418.0 344.0h2.4M427.3 344.0h4.7M434.3 344.0h4.7M441.3 344.0h2.4M408.6 345.0h2.4M420.3 345.0h2.4M425.0 345.0h2.4M436.6 345.0h2.4M408.6 347.0h2.4M427.3 348.0h2.4M438.9 348.0h4.7M394.7 349.0h2.4M390.0 350.0h2.4M404.0 350.0h2.4M427.3 350.0h2.4M431.9 350.0h2.4M438.9 350.0h2.4M420.3 351.0h2.4M429.6 351.0h2.4M420.3 352.0h2.4M399.3 353.0h2.4M431.9 353.0h2.4M397.0 354.0h2.4M404.0 354.0h2.4M425.0 354.0h2.4M418.0 355.0h2.4M404.0 356.0h2.4M418.0 356.0h2.4M397.0 357.0h4.7M415.6 357.0h2.4M438.9 357.0h2.4M441.3 357.9h2.4M397.0 358.9h2.4M390.0 359.9h2.4M420.3 359.9h2.4M427.3 359.9h2.4M394.7 360.9h2.4M401.7 360.9h2.4M406.3 360.9h2.4M431.9 360.9h2.4M415.6 361.9h2.4M434.3 361.9h4.7M397.0 362.9h2.4M411.0 362.9h2.4M425.0 362.9h7.0M434.3 362.9h4.7M427.3 363.9h7.0M436.6 363.9h2.4M392.3 364.9h2.4M415.6 364.9h2.4M420.3 364.9h2.4M431.9 364.9h2.4" stroke="rgb(165,141,211)" stroke-width="1.12" fill="none"/>
<path d="M345.7 223.6h2.4M366.7 223.6h2.4M299.1 224.6h2.4M341.1 225.6h2.4M366.7 225.6h2.4M355.1 226.6h2.4M397.0 226.6h2.4M355.1 227.6h2.4M390.0 227.6h2.4M308.5 228.6h2.4M413.3 228.6h2.4M306.1 229.6h2.4M343.4 229.6h2.4M369.0 230.6h2.4M366.7 231.6h2.4M411.0 231.6h2.4M415.6 231.6h2.4M306.1 233.6h2.4M310.8 233.6h2.4M401.7 233.6h2.4M334.1 234.6h2.4M408.6 234.6h2.4M306.1 235.5h2.4M329.4 235.5h2.4M350.4 236.5h2.4M390.0 236.5h2.4M394.7 238.5h2.4M401.7 238.5h2.4M411.0 238.5h4.7M315.4 239.5h2.4M352.7 240.5h2.4M373.7 240.5h2.4M392.3 240.5h2.4M348.1 241.5h2.4M362.0 241.5h7.0M376.0 241.5h2.4M394.7 241.5h2.4M420.3 241.5h2.4M397.0 242.5h2.4M425.0 242.5h2.4M394.7 244.5h2.4M408.6 244.5h2.4M392.3 245.5h2.4M373.7 246.5h2.4M303.8 249.4h4.7M322.4 249.4h2.4M359.7 249.4h2.4M385.3 249.4h2.4M341.1 250.4h2.4M355.1 250.4h2.4M296.8 252.3h2.4M303.8 252.3h2.4M350.4 252.3h2.4M315.4 253.3h2.4M341.1 253.3h2.4M348.1 253.3h2.4M355.1 254.3h2.4M366.7 254.3h2.4M387.7 254.3h2.4M350.4 255.3h2.4M341.1 256.3h2.4M308.5 257.3h2.4M329.4 257.3h2.4M348.1 257.3h2.4M385.3 257.3h2.4M301.5 258.2h2.4M357.4 258.2h2.4M369.0 258.2h2.4M324.8 259.2h2.4M338.7 259.2h2.4M301.5 260.2h4.7M378.4 260.2h2.4M348.1 261.2h2.4M369.0 261.2h2.4M373.7 262.2h2.4M306.1 263.2h2.4M329.4 263.2h2.4M348.1 263.2h2.4M357.4 263.2h2.4M371.4 263.2h2.4M301.5 264.1h2.4M322.4 264.1h2.4M336.4 264.1h2.4M343.4 264.1h2.4M373.7 264.1h4.7M299.1 265.1h2.4M303.8 265.1h2.4M322.4 265.1h2.4M341.1 265.1h2.4M366.7 265.1h2.4M299.1 266.1h2.4M308.5 266.1h2.4M320.1 266.1h2.4M404.0 268.8h2.4M401.7 270.8h2.4M399.3 272.8h2.4M436.6 272.8h2.4M399.3 273.7h2.4M431.9 274.7h2.4M338.7 275.7h2.4M420.3 279.7h2.4M404.0 280.7h2.4M425.0 280.7h2.4M336.4 281.7h2.4M420.3 281.7h2.4M404.0 282.7h2.4M404.0 285.6h2.4M387.7 288.6h2.4M420.3 292.6h2.4M420.3 295.5h2.4M394.7 296.5h2.4M399.3 296.5h2.4M329.4 301.5h2.4M408.6 301.5h2.4M420.3 301.5h2.4M406.3 302.5h2.4M411.0 302.5h4.7M420.3 304.5h2.4M338.7 305.5h2.4M425.0 305.5h2.4M425.0 310.4h2.4M341.1 313.4h2.4M425.0 315.4h2.4M317.8 316.4h2.4M343.4 316.4h2.4M331.8 317.4h2.4M343.4 320.4h2.4M341.1 321.4h2.4M343.4 322.4h2.4M420.3 323.4h2.4M420.3 325.4h2.4M341.1 327.3h4.7M422.6 328.3h2.4M343.4 329.3h2.4M336.4 330.3h2.4M420.3 331.3h2.4M420.3 336.1h2.4M420.3 338.1h2.4M422.6 339.1h2.4M390.0 340.1h2.4M406.3 340.1h2.4M427.3 340.1h2.4M441.3 341.1h2.4M420.3 342.1h4.7M376.0 343.1h2.4M411.0 344.0h2.4M425.0 344.0h2.4M413.3 346.0h2.4M425.0 346.0h2.4M422.6 348.0h2.4M436.6 348.0h2.4M406.3 349.0h2.4M392.3 350.0h2.4M401.7 350.0h2.4M436.6 351.0h2.4M397.0 352.0h2.4M441.3 352.0h2.4M429.6 353.0h2.4M438.9 353.0h2.4M413.3 354.0h4.7M427.3 354.0h4.7M420.3 356.0h2.4M392.3 357.0h2.4M411.0 357.0h2.4M422.6 357.0h2.4M401.7 357.9h2.4M425.0 357.9h2.4M408.6 358.9h2.4M425.0 358.9h2.4M404.0 359.9h2.4M420.3 360.9h2.4M399.3 361.9h2.4M404.0 361.9h2.4M427.3 361.9h2.4M431.9 361.9h2.4M441.3 361.9h2.4M394.7 362.9h2.4M420.3 362.9h2.4M392.3 363.9h2.4M420.3 363.9h2.4M425.0 363.9h2.4M434.3 363.9h2.4M438.9 363.9h2.4M397.0 364.9h2.4M425.0 364.9h4.7" stroke="rgb(181,158,217)" stroke-width="1.12" fill="none"/>
<path d="M341.1 223.6h2.4M308.5 224.6h2.4M338.7 224.6h2.4M352.7 224.6h2.4M397.0 224.6h2.4M406.3 224.6h2.4M308.5 225.6h2.4M355.1 225.6h2.4M362.0 225.6h2.4M378.4 225.6h2.4M383.0 225.6h2.4M413.3 225.6h2.4M303.8 226.6h2.4M308.5 226.6h2.4M352.7 227.6h2.4M359.7 227.6h2.4M415.6 227.6h2.4M422.6 227.6h2.4M362.0 228.6h2.4M390.0 228.6h2.4M406.3 228.6h2.4M420.3 228.6h2.4M296.8 229.6h4.7M341.1 229.6h2.4M355.1 229.6h2.4M362.0 229.6h2.4M366.7 230.6h2.4M390.0 230.6h2.4M399.3 230.6h2.4M411.0 230.6h2.4M425.0 230.6h2.4M343.4 231.6h2.4M359.7 231.6h2.4M376.0 231.6h2.4M387.7 231.6h2.4M392.3 231.6h2.4M406.3 231.6h2.4M303.8 232.6h2.4M350.4 232.6h2.4M406.3 232.6h2.4M392.3 233.6h2.4M425.0 233.6h2.4M352.7 234.6h2.4M362.0 234.6h2.4M378.4 234.6h2.4M397.0 234.6h2.4M404.0 234.6h2.4M296.8 235.5h2.4M303.8 235.5h2.4M345.7 235.5h2.4M404.0 235.5h2.4M425.0 235.5h2.4M352.7 236.5h2.4M406.3 236.5h2.4M397.0 237.5h2.4M296.8 238.5h2.4M310.8 238.5h2.4M364.4 238.5h2.4M366.7 239.5h2.4M371.4 239.5h2.4M296.8 240.5h2.4M308.5 240.5h2.4M317.8 240.5h2.4M324.8 240.5h2.4M364.4 240.5h4.7M378.4 240.5h2.4M394.7 240.5h2.4M308.5 241.5h2.4M345.7 241.5h2.4M355.1 241.5h4.7M369.0 241.5h2.4M378.4 241.5h2.4M317.8 242.5h2.4M341.1 242.5h2.4M406.3 242.5h2.4M392.3 244.5h2.4M338.7 245.5h2.4M345.7 245.5h2.4M296.8 246.5h2.4M301.5 246.5h2.4M329.4 246.5h2.4M341.1 246.5h2.4M362.0 246.5h2.4M366.7 246.5h2.4M413.3 246.5h2.4M313.1 249.4h2.4M320.1 249.4h2.4M327.1 249.4h2.4M336.4 249.4h2.4M345.7 249.4h2.4M366.7 249.4h2.4M376.0 249.4h2.4M299.1 250.4h2.4M303.8 250.4h2.4M315.4 250.4h2.4M352.7 250.4h2.4M366.7 250.4h2.4M387.7 250.4h2.4M306.1 251.4h2.4M352.7 251.4h2.4M373.7 251.4h2.4M348.1 252.3h2.4M357.4 252.3h2.4M308.5 253.3h2.4M313.1 253.3h2.4M345.7 253.3h2.4M369.0 253.3h7.0M308.5 254.3h2.4M315.4 254.3h4.7M343.4 254.3h2.4M350.4 254.3h2.4M359.7 254.3h2.4M373.7 254.3h2.4M320.1 255.3h4.7M338.7 255.3h2.4M343.4 255.3h2.4M359.7 255.3h2.4M371.4 255.3h4.7M387.7 255.3h2.4M308.5 256.3h2.4M315.4 256.3h2.4M320.1 256.3h2.4M357.4 256.3h2.4M366.7 256.3h2.4M303.8 257.3h2.4M343.4 257.3h2.4M369.0 257.3h2.4M373.7 257.3h2.4M299.1 258.2h2.4M317.8 258.2h2.4M322.4 258.2h2.4M329.4 258.2h2.4M362.0 258.2h2.4M310.8 259.2h2.4M341.1 259.2h2.4M296.8 260.2h2.4M324.8 260.2h2.4M362.0 260.2h2.4M371.4 260.2h2.4M308.5 261.2h2.4M364.4 261.2h2.4M373.7 261.2h2.4M315.4 262.2h2.4M322.4 262.2h2.4M366.7 262.2h2.4M301.5 263.2h2.4M331.8 263.2h2.4M343.4 263.2h4.7M352.7 263.2h4.7M362.0 263.2h2.4M369.0 263.2h2.4M383.0 263.2h2.4M313.1 264.1h2.4M320.1 264.1h2.4M331.8 264.1h2.4M341.1 264.1h2.4M352.7 264.1h2.4M364.4 264.1h2.4M301.5 265.1h2.4M327.1 265.1h2.4M331.8 265.1h2.4M348.1 265.1h2.4M362.0 265.1h2.4M301.5 266.1h2.4M327.1 266.1h2.4M343.4 266.1h4.7M371.4 266.1h2.4M399.3 269.8h2.4M420.3 269.8h2.4M399.3 270.8h2.4M404.0 270.8h2.4M404.0 271.8h2.4M425.0 272.8h2.4M397.0 273.7h2.4M401.7 273.7h2.4M397.0 275.7h2.4M401.7 275.7h2.4M404.0 277.7h2.4M422.6 277.7h2.4M425.0 278.7h2.4M341.1 280.7h2.4M392.3 280.7h2.4M401.7 280.7h2.4M422.6 280.7h2.4M341.1 281.7h2.4M362.0 281.7h2.4M369.0 281.7h2.4M399.3 281.7h2.4M394.7 283.6h2.4M366.7 289.6h2.4M387.7 289.6h2.4M341.1 290.6h2.4M425.0 290.6h2.4M334.1 292.6h2.4M371.4 294.5h2.4M422.6 296.5h2.4M336.4 301.5h2.4M422.6 301.5h2.4M408.6 302.5h2.4M420.3 307.5h2.4M366.7 308.4h2.4M376.0 309.4h2.4M338.7 310.4h4.7M422.6 310.4h2.4M373.7 313.4h2.4M341.1 314.4h2.4M425.0 314.4h2.4M420.3 315.4h2.4M345.7 317.4h2.4M341.1 319.4h2.4M317.8 320.4h2.4M338.7 322.4h2.4M376.0 322.4h2.4M366.7 323.4h2.4M371.4 323.4h2.4M371.4 324.4h2.4M383.0 324.4h2.4M336.4 325.4h2.4M345.7 325.4h2.4M420.3 327.3h2.4M336.4 329.3h2.4M341.1 329.3h2.4M336.4 331.3h2.4M343.4 331.3h2.4M338.7 332.3h2.4M422.6 333.3h4.7M392.3 336.1h2.4M422.6 338.1h4.7M418.0 339.1h2.4M422.6 344.0h2.4M422.6 345.0h2.4M401.7 348.0h2.4M397.0 350.0h4.7M408.6 350.0h2.4M418.0 350.0h2.4M329.4 351.0h2.4M406.3 351.0h2.4M394.7 352.0h2.4M415.6 352.0h2.4M422.6 352.0h2.4M418.0 353.0h2.4M411.0 354.0h2.4M406.3 355.0h2.4M411.0 356.0h2.4M415.6 356.0h2.4M422.6 356.0h2.4M420.3 357.0h2.4M413.3 357.9h2.4M415.6 358.9h2.4M373.7 359.9h4.7M411.0 359.9h2.4M408.6 361.9h2.4M429.6 361.9h2.4M397.0 363.9h2.4M404.0 363.9h2.4" stroke="rgb(194,173,222)" stroke-width="1.12" fill="none"/>
<path d="M350.4 223.6h2.4M411.0 223.6h2.4M422.6 223.6h2.4M306.1 224.6h2.4M336.4 224.6h2.4M343.4 224.6h2.4M350.4 224.6h2.4M366.7 224.6h4.7M394.7 224.6h2.4M348.1 225.6h7.0M371.4 225.6h2.4M310.8 226.6h2.4M317.8 226.6h2.4M322.4 226.6h2.4M341.1 226.6h4.7M406.3 226.6h2.4M345.7 227.6h2.4M366.7 227.6h2.4M399.3 227.6h2.4M420.3 227.6h2.4M425.0 227.6h2.4M306.1 228.6h2.4M320.1 228.6h2.4M366.7 228.6h2.4M373.7 228.6h2.4M387.7 228.6h2.4M418.0 228.6h2.4M422.6 228.6h4.7M338.7 229.6h2.4M352.7 230.6h2.4M338.7 231.6h2.4M369.0 231.6h2.4M418.0 231.6h4.7M296.8 232.6h2.4M306.1 232.6h2.4M317.8 233.6h2.4M322.4 233.6h2.4M355.1 233.6h2.4M362.0 233.6h2.4M371.4 233.6h2.4M397.0 233.6h2.4M422.6 233.6h2.4M338.7 234.6h2.4M373.7 234.6h2.4M399.3 234.6h2.4M411.0 234.6h2.4M415.6 234.6h2.4M299.1 235.5h4.7M350.4 235.5h2.4M420.3 235.5h2.4M362.0 236.5h2.4M366.7 236.5h2.4M387.7 236.5h2.4M394.7 236.5h2.4M357.4 237.5h2.4M362.0 237.5h2.4M366.7 237.5h2.4M390.0 237.5h2.4M299.1 238.5h4.7M397.0 238.5h4.7M404.0 238.5h2.4M415.6 238.5h2.4M308.5 239.5h2.4M359.7 239.5h2.4M373.7 239.5h2.4M390.0 239.5h2.4M394.7 239.5h4.7M401.7 239.5h2.4M406.3 239.5h2.4M411.0 239.5h2.4M299.1 240.5h2.4M306.1 240.5h2.4M315.4 240.5h2.4M336.4 240.5h2.4M350.4 240.5h2.4M385.3 240.5h2.4M296.8 241.5h2.4M350.4 241.5h2.4M385.3 241.5h2.4M392.3 241.5h2.4M404.0 241.5h4.7M411.0 241.5h2.4M296.8 242.5h2.4M303.8 242.5h2.4M352.7 242.5h2.4M413.3 242.5h2.4M420.3 242.5h2.4M296.8 243.5h2.4M315.4 243.5h4.7M392.3 243.5h2.4M399.3 243.5h2.4M317.8 244.5h2.4M406.3 244.5h2.4M399.3 245.5h7.0M425.0 245.5h2.4M338.7 246.5h2.4M352.7 246.5h2.4M399.3 246.5h2.4M301.5 249.4h2.4M329.4 249.4h2.4M352.7 249.4h2.4M317.8 250.4h2.4M336.4 250.4h2.4M345.7 250.4h2.4M317.8 251.4h2.4M348.1 251.4h2.4M376.0 251.4h2.4M387.7 251.4h2.4M315.4 252.3h2.4M322.4 252.3h2.4M336.4 252.3h2.4M341.1 252.3h2.4M369.0 252.3h2.4M299.1 253.3h2.4M306.1 253.3h2.4M329.4 253.3h4.7M336.4 253.3h2.4M376.0 253.3h2.4M345.7 254.3h4.7M357.4 254.3h2.4M378.4 254.3h2.4M296.8 255.3h2.4M308.5 255.3h4.7M324.8 255.3h2.4M336.4 255.3h2.4M357.4 255.3h2.4M296.8 256.3h4.7M317.8 256.3h2.4M350.4 256.3h2.4M373.7 256.3h4.7M299.1 257.3h2.4M306.1 257.3h2.4M310.8 257.3h2.4M338.7 257.3h2.4M350.4 257.3h2.4M357.4 257.3h2.4M362.0 257.3h2.4M313.1 258.2h2.4M341.1 258.2h2.4M359.7 258.2h2.4M364.4 258.2h2.4M371.4 258.2h2.4M303.8 259.2h2.4M322.4 259.2h2.4M327.1 259.2h2.4M331.8 259.2h2.4M348.1 259.2h2.4M366.7 259.2h2.4M373.7 259.2h2.4M383.0 259.2h2.4M299.1 260.2h2.4M310.8 260.2h2.4M329.4 260.2h2.4M352.7 260.2h2.4M357.4 260.2h2.4M329.4 261.2h2.4M338.7 261.2h2.4M350.4 261.2h4.7M366.7 261.2h2.4M387.7 261.2h2.4M301.5 262.2h2.4M308.5 262.2h2.4M317.8 262.2h2.4M336.4 262.2h7.0M350.4 262.2h2.4M355.1 262.2h2.4M369.0 262.2h4.7M385.3 262.2h2.4M299.1 263.2h2.4M327.1 263.2h2.4M334.1 263.2h4.7M350.4 264.1h2.4M355.1 264.1h2.4M371.4 264.1h2.4M296.8 265.1h2.4M310.8 265.1h2.4M320.1 265.1h2.4M345.7 265.1h2.4M357.4 265.1h2.4M369.0 265.1h2.4M397.0 268.8h2.4M345.7 269.8h2.4M422.6 271.8h4.7M348.1 272.8h2.4M371.4 272.8h2.4M420.3 272.8h4.7M404.0 273.7h2.4M338.7 274.7h2.4M404.0 275.7h2.4M420.3 275.7h2.4M420.3 276.7h4.7M397.0 277.7h2.4M296.8 278.7h2.4M397.0 278.7h2.4M404.0 279.7h2.4M397.0 280.7h2.4M299.1 281.7h2.4M415.6 281.7h2.4M422.6 281.7h2.4M397.0 282.7h2.4M341.1 283.6h2.4M390.0 283.6h2.4M420.3 283.6h2.4M420.3 286.6h2.4M420.3 288.6h2.4M338.7 289.6h2.4M341.1 291.6h2.4M425.0 292.6h2.4M420.3 294.5h2.4M425.0 295.5h2.4M362.0 296.5h2.4M397.0 297.5h2.4M401.7 297.5h2.4M420.3 297.5h2.4M322.4 301.5h2.4M343.4 301.5h2.4M376.0 301.5h2.4M415.6 301.5h2.4M420.3 302.5h2.4M343.4 303.5h2.4M338.7 304.5h2.4M422.6 304.5h2.4M320.1 305.5h2.4M343.4 305.5h2.4M362.0 305.5h2.4M376.0 305.5h2.4M317.8 306.5h2.4M341.1 306.5h2.4M338.7 307.5h2.4M422.6 307.5h2.4M331.8 309.4h2.4M336.4 309.4h2.4M362.0 309.4h2.4M422.6 309.4h4.7M334.1 310.4h4.7M345.7 310.4h2.4M366.7 314.4h2.4M371.4 314.4h2.4M376.0 314.4h2.4M413.3 314.4h2.4M338.7 315.4h4.7M422.6 315.4h2.4M336.4 317.4h2.4M345.7 319.4h2.4M338.7 320.4h2.4M331.8 321.4h2.4M338.7 321.4h2.4M420.3 321.4h2.4M315.4 322.4h2.4M341.1 322.4h2.4M425.0 322.4h2.4M425.0 323.4h2.4M336.4 324.4h2.4M422.6 324.4h2.4M366.7 325.4h2.4M345.7 326.3h2.4M425.0 326.3h2.4M313.1 327.3h2.4M345.7 327.3h2.4M385.3 327.3h2.4M420.3 328.3h2.4M420.3 330.3h2.4M362.0 331.3h2.4M425.0 331.3h2.4M369.0 333.3h2.4M425.0 336.1h2.4M422.6 337.1h2.4M373.7 338.1h2.4M397.0 338.1h2.4M401.7 338.1h2.4M413.3 338.1h4.7M415.6 339.1h2.4M420.3 340.1h2.4M425.0 340.1h2.4M415.6 341.1h2.4M420.3 341.1h2.4M399.3 342.1h2.4M373.7 343.1h2.4M408.6 343.1h2.4M425.0 343.1h2.4M413.3 344.0h2.4M317.8 345.0h2.4M338.7 346.0h2.4M404.0 346.0h2.4M413.3 347.0h2.4M397.0 348.0h2.4M425.0 348.0h2.4M422.6 350.0h2.4M376.0 351.0h2.4M422.6 351.0h2.4M413.3 353.0h2.4M373.7 354.0h2.4M390.0 354.0h2.4M420.3 354.0h4.7M341.1 355.0h2.4M376.0 355.0h2.4M385.3 355.0h2.4M408.6 355.0h2.4M422.6 355.0h4.7M425.0 357.0h2.4M401.7 358.9h2.4M413.3 358.9h2.4M392.3 359.9h2.4M418.0 360.9h2.4M422.6 360.9h4.7M390.0 361.9h2.4M418.0 361.9h2.4M408.6 362.9h2.4M376.0 363.9h2.4M394.7 363.9h2.4M399.3 363.9h2.4M411.0 363.9h2.4M422.6 363.9h2.4M441.3 363.9h2.4M385.3 364.9h2.4M411.0 364.9h2.4" stroke="rgb(207,187,227)" stroke-width="1.12" fill="none"/>
<path d="M336.4 223.6h2.4M369.0 223.6h2.4M425.0 223.6h2.4M296.8 224.6h2.4M324.8 224.6h2.4M348.1 224.6h2.4M355.1 224.6h2.4M359.7 224.6h2.4M373.7 224.6h2.4M380.7 224.6h2.4M411.0 224.6h4.7M296.8 225.6h2.4M303.8 225.6h2.4M315.4 225.6h2.4M385.3 225.6h2.4M422.6 225.6h4.7M338.7 226.6h2.4M373.7 226.6h2.4M408.6 226.6h2.4M413.3 226.6h2.4M301.5 227.6h2.4M308.5 227.6h2.4M317.8 227.6h2.4M322.4 227.6h2.4M348.1 227.6h2.4M303.8 228.6h2.4M350.4 228.6h2.4M392.3 228.6h2.4M408.6 228.6h2.4M308.5 229.6h2.4M313.1 229.6h2.4M364.4 229.6h2.4M369.0 229.6h4.7M376.0 229.6h2.4M406.3 229.6h4.7M413.3 229.6h2.4M420.3 229.6h4.7M324.8 230.6h2.4M348.1 230.6h4.7M362.0 230.6h2.4M422.6 230.6h2.4M299.1 231.6h2.4M303.8 231.6h2.4M350.4 231.6h4.7M390.0 231.6h2.4M408.6 231.6h2.4M413.3 231.6h2.4M341.1 232.6h2.4M401.7 232.6h2.4M425.0 232.6h2.4M296.8 233.6h2.4M315.4 233.6h2.4M329.4 233.6h2.4M341.1 233.6h2.4M352.7 233.6h2.4M390.0 233.6h2.4M394.7 233.6h2.4M404.0 233.6h2.4M411.0 233.6h2.4M420.3 233.6h2.4M296.8 234.6h2.4M306.1 234.6h4.7M341.1 234.6h2.4M348.1 234.6h2.4M308.5 235.5h4.7M315.4 235.5h2.4M355.1 235.5h2.4M369.0 235.5h2.4M373.7 235.5h2.4M399.3 235.5h2.4M418.0 235.5h2.4M422.6 235.5h2.4M299.1 236.5h2.4M336.4 236.5h2.4M364.4 236.5h2.4M378.4 236.5h2.4M392.3 236.5h2.4M399.3 236.5h7.0M415.6 236.5h2.4M350.4 237.5h2.4M355.1 237.5h2.4M359.7 237.5h2.4M387.7 237.5h2.4M411.0 237.5h2.4M415.6 237.5h2.4M373.7 238.5h2.4M390.0 238.5h2.4M296.8 239.5h2.4M306.1 239.5h2.4M348.1 239.5h2.4M355.1 239.5h2.4M364.4 239.5h2.4M392.3 239.5h2.4M413.3 239.5h7.0M301.5 240.5h2.4M334.1 240.5h2.4M348.1 240.5h2.4M357.4 240.5h2.4M406.3 240.5h2.4M420.3 240.5h2.4M425.0 240.5h2.4M301.5 241.5h2.4M352.7 241.5h2.4M373.7 241.5h2.4M399.3 241.5h2.4M306.1 242.5h2.4M338.7 242.5h2.4M345.7 242.5h4.7M373.7 242.5h2.4M390.0 242.5h4.7M404.0 242.5h2.4M411.0 242.5h2.4M422.6 242.5h2.4M306.1 243.5h2.4M366.7 243.5h2.4M371.4 243.5h2.4M390.0 243.5h2.4M394.7 243.5h2.4M369.0 244.5h2.4M397.0 244.5h2.4M306.1 245.5h2.4M322.4 245.5h2.4M341.1 245.5h4.7M406.3 245.5h2.4M418.0 245.5h2.4M422.6 245.5h2.4M306.1 246.5h2.4M310.8 246.5h2.4M343.4 246.5h2.4M348.1 246.5h4.7M355.1 246.5h2.4M376.0 246.5h2.4M420.3 246.5h2.4M331.8 249.4h2.4M348.1 249.4h2.4M355.1 249.4h2.4M364.4 249.4h2.4M320.1 250.4h2.4M329.4 250.4h2.4M338.7 250.4h2.4M369.0 250.4h2.4M385.3 250.4h2.4M331.8 251.4h4.7M341.1 251.4h2.4M362.0 251.4h4.7M306.1 252.3h2.4M338.7 252.3h2.4M343.4 252.3h2.4M359.7 252.3h2.4M303.8 253.3h2.4M320.1 253.3h4.7M338.7 253.3h2.4M343.4 253.3h2.4M350.4 253.3h4.7M364.4 253.3h2.4M387.7 253.3h2.4M303.8 254.3h4.7M376.0 254.3h2.4M299.1 255.3h2.4M315.4 255.3h4.7M327.1 255.3h2.4M334.1 255.3h2.4M341.1 255.3h2.4M352.7 256.3h2.4M359.7 256.3h2.4M364.4 256.3h2.4M369.0 256.3h4.7M387.7 256.3h2.4M317.8 257.3h4.7M327.1 257.3h2.4M345.7 257.3h2.4M352.7 257.3h2.4M359.7 257.3h2.4M364.4 257.3h2.4M378.4 257.3h2.4M303.8 258.2h2.4M310.8 258.2h2.4M315.4 258.2h2.4M338.7 258.2h2.4M348.1 258.2h2.4M352.7 258.2h4.7M301.5 259.2h2.4M306.1 259.2h2.4M343.4 259.2h2.4M352.7 259.2h2.4M376.0 259.2h2.4M306.1 260.2h2.4M313.1 260.2h2.4M322.4 260.2h2.4M334.1 260.2h4.7M341.1 260.2h2.4M345.7 260.2h4.7M373.7 260.2h2.4M306.1 261.2h2.4M345.7 261.2h2.4M299.1 262.2h2.4M310.8 262.2h2.4M320.1 262.2h2.4M331.8 262.2h2.4M343.4 262.2h4.7M364.4 262.2h2.4M313.1 263.2h2.4M320.1 263.2h4.7M350.4 263.2h2.4M364.4 263.2h2.4M376.0 263.2h2.4M327.1 264.1h2.4M348.1 264.1h2.4M359.7 264.1h4.7M366.7 264.1h4.7M336.4 265.1h2.4M359.7 265.1h2.4M378.4 265.1h2.4M387.7 265.1h2.4M310.8 266.1h2.4M322.4 266.1h4.7M341.1 266.1h2.4M350.4 266.1h2.4M357.4 266.1h2.4M362.0 266.1h2.4M366.7 266.1h2.4M387.7 268.8h2.4M329.4 269.8h2.4M336.4 269.8h2.4M376.0 269.8h2.4M397.0 269.8h2.4M425.0 269.8h2.4M369.0 270.8h2.4M336.4 271.8h2.4M366.7 271.8h2.4M322.4 272.8h2.4M366.7 272.8h2.4M397.0 274.7h2.4M369.0 275.7h2.4M425.0 276.7h2.4M373.7 277.7h2.4M320.1 278.7h2.4M345.7 278.7h2.4M415.6 278.7h2.4M399.3 279.7h2.4M322.4 280.7h2.4M371.4 281.7h2.4M401.7 282.7h2.4M420.3 282.7h2.4M422.6 283.6h2.4M415.6 284.6h2.4M425.0 284.6h2.4M425.0 286.6h2.4M345.7 288.6h2.4M376.0 289.6h2.4M420.3 290.6h4.7M336.4 291.6h2.4M371.4 291.6h2.4M420.3 291.6h2.4M345.7 292.6h2.4M362.0 292.6h2.4M371.4 293.5h2.4M422.6 293.5h2.4M359.7 294.5h2.4M425.0 294.5h2.4M369.0 295.5h2.4M422.6 295.5h2.4M341.1 296.5h2.4M425.0 296.5h2.4M343.4 297.5h2.4M406.3 300.5h2.4M411.0 300.5h2.4M415.6 300.5h4.7M425.0 300.5h2.4M341.1 301.5h2.4M345.7 301.5h2.4M418.0 301.5h2.4M341.1 302.5h2.4M425.0 302.5h2.4M329.4 303.5h2.4M341.1 303.5h2.4M336.4 304.5h2.4M343.4 304.5h2.4M371.4 304.5h2.4M376.0 304.5h2.4M425.0 304.5h2.4M366.7 305.5h2.4M371.4 305.5h2.4M422.6 305.5h2.4M362.0 306.5h2.4M369.0 306.5h2.4M425.0 306.5h2.4M376.0 307.5h2.4M425.0 307.5h2.4M422.6 308.4h4.7M338.7 309.4h2.4M355.1 309.4h2.4M329.4 310.4h2.4M343.4 310.4h2.4M387.7 310.4h2.4M420.3 311.4h2.4M348.1 312.4h2.4M317.8 313.4h2.4M329.4 313.4h2.4M343.4 313.4h2.4M420.3 313.4h7.0M317.8 315.4h2.4M329.4 315.4h2.4M343.4 315.4h4.7M338.7 316.4h2.4M341.1 317.4h2.4M420.3 317.4h2.4M322.4 319.4h2.4M338.7 319.4h2.4M343.4 319.4h2.4M341.1 320.4h2.4M362.0 320.4h2.4M329.4 321.4h2.4M343.4 321.4h2.4M317.8 322.4h2.4M324.8 322.4h2.4M331.8 322.4h2.4M362.0 323.4h4.7M341.1 324.4h2.4M345.7 324.4h2.4M420.3 324.4h2.4M331.8 325.4h2.4M338.7 326.3h2.4M343.4 326.3h2.4M422.6 326.3h2.4M317.8 327.3h2.4M336.4 327.3h2.4M425.0 327.3h2.4M345.7 328.3h2.4M369.0 328.3h2.4M334.1 329.3h2.4M373.7 329.3h2.4M338.7 330.3h2.4M425.0 330.3h2.4M338.7 331.3h4.7M422.6 331.3h2.4M341.1 332.3h2.4M425.0 332.3h2.4M317.8 336.1h2.4M371.4 336.1h2.4M404.0 336.1h2.4M411.0 336.1h2.4M392.3 338.1h2.4M404.0 338.1h2.4M411.0 338.1h2.4M399.3 340.1h2.4M422.6 341.1h2.4M362.0 342.1h2.4M329.4 343.1h2.4M392.3 343.1h2.4M397.0 343.1h2.4M422.6 343.1h2.4M413.3 345.0h2.4M376.0 347.0h2.4M422.6 347.0h2.4M411.0 349.0h2.4M415.6 350.0h2.4M376.0 352.0h2.4M425.0 352.0h2.4M317.8 353.0h2.4M343.4 353.0h2.4M376.0 354.0h2.4M362.0 355.0h2.4M373.7 355.0h2.4M376.0 357.0h2.4M413.3 357.0h2.4M406.3 361.9h2.4M425.0 361.9h2.4M373.7 362.9h2.4M317.8 363.9h2.4M341.1 363.9h2.4M401.7 363.9h2.4M345.7 364.9h2.4M373.7 364.9h4.7M422.6 364.9h2.4" stroke="rgb(220,202,231)" stroke-width="1.12" fill="none"/>
<path d="M308.5 223.6h2.4M322.4 223.6h2.4M334.1 223.6h2.4M343.4 223.6h2.4M373.7 223.6h2.4M406.3 223.6h4.7M415.6 223.6h4.7M301.5 224.6h4.7M310.8 224.6h2.4M362.0 224.6h2.4M371.4 224.6h2.4M376.0 224.6h2.4M422.6 224.6h2.4M317.8 225.6h2.4M369.0 225.6h2.4M406.3 225.6h2.4M411.0 225.6h2.4M415.6 225.6h2.4M420.3 225.6h2.4M296.8 226.6h2.4M306.1 226.6h2.4M329.4 226.6h2.4M369.0 226.6h2.4M296.8 227.6h4.7M306.1 227.6h2.4M338.7 227.6h2.4M369.0 227.6h4.7M406.3 227.6h4.7M299.1 228.6h2.4M313.1 228.6h2.4M348.1 228.6h2.4M352.7 228.6h2.4M415.6 228.6h2.4M322.4 229.6h2.4M345.7 229.6h2.4M350.4 229.6h2.4M366.7 229.6h2.4M306.1 230.6h2.4M345.7 230.6h2.4M357.4 230.6h2.4M371.4 230.6h2.4M392.3 230.6h2.4M408.6 230.6h2.4M329.4 231.6h2.4M355.1 231.6h2.4M362.0 231.6h2.4M317.8 232.6h2.4M411.0 232.6h2.4M422.6 232.6h2.4M301.5 233.6h4.7M313.1 233.6h2.4M366.7 233.6h2.4M383.0 233.6h2.4M387.7 233.6h2.4M408.6 233.6h2.4M303.8 234.6h2.4M317.8 234.6h7.0M418.0 234.6h2.4M313.1 235.5h2.4M317.8 235.5h4.7M324.8 235.5h2.4M357.4 235.5h2.4M362.0 235.5h2.4M408.6 235.5h2.4M413.3 235.5h4.7M301.5 236.5h2.4M341.1 236.5h4.7M371.4 236.5h2.4M376.0 236.5h2.4M408.6 236.5h2.4M420.3 236.5h2.4M296.8 237.5h4.7M315.4 237.5h2.4M348.1 237.5h2.4M352.7 237.5h2.4M371.4 237.5h2.4M392.3 237.5h4.7M399.3 237.5h4.7M317.8 238.5h2.4M336.4 238.5h2.4M345.7 238.5h2.4M352.7 238.5h2.4M362.0 238.5h2.4M369.0 238.5h2.4M387.7 238.5h2.4M408.6 238.5h2.4M299.1 239.5h2.4M303.8 239.5h2.4M317.8 239.5h2.4M322.4 239.5h2.4M336.4 239.5h2.4M357.4 239.5h2.4M362.0 239.5h2.4M369.0 239.5h2.4M376.0 239.5h7.0M404.0 239.5h2.4M408.6 239.5h2.4M341.1 240.5h2.4M408.6 240.5h2.4M303.8 241.5h2.4M310.8 241.5h2.4M315.4 241.5h4.7M331.8 241.5h4.7M343.4 241.5h2.4M383.0 241.5h2.4M408.6 241.5h2.4M425.0 241.5h2.4M310.8 242.5h2.4M366.7 242.5h2.4M385.3 242.5h4.7M394.7 242.5h2.4M418.0 242.5h2.4M348.1 243.5h2.4M362.0 243.5h2.4M401.7 243.5h2.4M415.6 243.5h2.4M336.4 244.5h2.4M341.1 244.5h2.4M355.1 244.5h4.7M362.0 244.5h2.4M366.7 244.5h2.4M399.3 244.5h2.4M404.0 244.5h2.4M296.8 245.5h2.4M310.8 245.5h2.4M348.1 245.5h2.4M376.0 245.5h2.4M408.6 245.5h2.4M299.1 246.5h2.4M317.8 246.5h2.4M322.4 246.5h2.4M331.8 246.5h2.4M336.4 246.5h2.4M345.7 246.5h2.4M359.7 246.5h2.4M364.4 246.5h2.4M371.4 246.5h2.4M387.7 246.5h2.4M411.0 246.5h2.4M425.0 246.5h2.4M334.1 249.4h2.4M301.5 250.4h2.4M306.1 250.4h4.7M364.4 250.4h2.4M380.7 250.4h2.4M296.8 251.4h4.7M315.4 251.4h2.4M322.4 251.4h2.4M345.7 251.4h2.4M355.1 251.4h2.4M366.7 251.4h2.4M378.4 251.4h4.7M385.3 251.4h2.4M352.7 252.3h2.4M378.4 252.3h4.7M387.7 252.3h2.4M317.8 253.3h2.4M324.8 253.3h2.4M334.1 253.3h2.4M357.4 253.3h2.4M299.1 254.3h4.7M324.8 254.3h2.4M329.4 254.3h2.4M334.1 254.3h2.4M338.7 254.3h2.4M352.7 254.3h2.4M345.7 255.3h2.4M352.7 255.3h2.4M306.1 256.3h2.4M331.8 256.3h2.4M338.7 256.3h2.4M315.4 257.3h2.4M322.4 257.3h4.7M331.8 257.3h7.0M355.1 257.3h2.4M306.1 258.2h4.7M324.8 258.2h4.7M345.7 258.2h2.4M385.3 258.2h4.7M320.1 259.2h2.4M329.4 259.2h2.4M355.1 259.2h2.4M359.7 259.2h7.0M369.0 259.2h2.4M387.7 259.2h2.4M308.5 260.2h2.4M327.1 260.2h2.4M343.4 260.2h2.4M350.4 260.2h2.4M364.4 260.2h2.4M301.5 261.2h2.4M310.8 261.2h2.4M315.4 261.2h2.4M320.1 261.2h2.4M331.8 261.2h2.4M359.7 261.2h2.4M371.4 261.2h2.4M376.0 261.2h4.7M383.0 261.2h2.4M303.8 262.2h2.4M327.1 262.2h4.7M359.7 262.2h2.4M378.4 262.2h2.4M315.4 263.2h2.4M324.8 263.2h2.4M373.7 263.2h2.4M378.4 263.2h2.4M385.3 263.2h4.7M329.4 264.1h2.4M334.1 264.1h2.4M357.4 264.1h2.4M385.3 264.1h2.4M313.1 265.1h4.7M329.4 265.1h2.4M334.1 265.1h2.4M303.8 266.1h2.4M315.4 266.1h4.7M331.8 266.1h2.4M355.1 266.1h2.4M364.4 266.1h2.4M369.0 266.1h2.4M376.0 266.1h2.4M399.3 268.8h2.4M315.4 269.8h4.7M418.0 269.8h2.4M422.6 269.8h2.4M364.4 270.8h2.4M338.7 271.8h2.4M343.4 271.8h2.4M359.7 271.8h2.4M364.4 271.8h2.4M390.0 271.8h2.4M352.7 272.8h2.4M420.3 273.7h2.4M399.3 275.7h2.4M362.0 276.7h2.4M387.7 276.7h2.4M366.7 277.7h2.4M315.4 278.7h2.4M336.4 278.7h4.7M366.7 278.7h2.4M413.3 278.7h2.4M420.3 278.7h2.4M401.7 279.7h2.4M415.6 279.7h2.4M296.8 280.7h2.4M329.4 280.7h2.4M343.4 280.7h2.4M364.4 280.7h2.4M320.1 281.7h2.4M345.7 281.7h2.4M359.7 281.7h2.4M373.7 281.7h2.4M390.0 281.7h4.7M418.0 281.7h2.4M362.0 282.7h2.4M366.7 282.7h2.4M373.7 282.7h2.4M399.3 282.7h2.4M425.0 282.7h2.4M303.8 283.6h2.4M331.8 283.6h2.4M336.4 283.6h2.4M422.6 284.6h2.4M371.4 286.6h2.4M338.7 287.6h2.4M362.0 288.6h2.4M413.3 288.6h2.4M425.0 288.6h2.4M310.8 289.6h2.4M362.0 289.6h2.4M373.7 289.6h2.4M378.4 289.6h2.4M322.4 290.6h2.4M369.0 290.6h2.4M303.8 291.6h2.4M308.5 291.6h2.4M320.1 291.6h4.7M345.7 291.6h2.4M366.7 291.6h2.4M425.0 291.6h2.4M331.8 292.6h2.4M341.1 292.6h2.4M371.4 292.6h2.4M401.7 292.6h2.4M422.6 292.6h2.4M317.8 293.5h2.4M406.3 293.5h2.4M425.0 293.5h2.4M355.1 294.5h2.4M362.0 294.5h2.4M306.1 296.5h2.4M317.8 296.5h2.4M338.7 296.5h2.4M387.7 296.5h2.4M345.7 297.5h2.4M422.6 297.5h4.7M413.3 300.5h2.4M425.0 301.5h2.4M352.7 302.5h2.4M422.6 302.5h2.4M331.8 303.5h2.4M329.4 304.5h2.4M334.1 304.5h2.4M373.7 304.5h2.4M341.1 305.5h2.4M348.1 305.5h2.4M373.7 305.5h2.4M315.4 306.5h2.4M336.4 306.5h4.7M373.7 306.5h2.4M345.7 307.5h2.4M366.7 307.5h2.4M373.7 307.5h2.4M362.0 308.4h2.4M329.4 309.4h2.4M343.4 309.4h2.4M383.0 309.4h2.4M420.3 309.4h2.4M366.7 310.4h2.4M338.7 311.4h2.4M338.7 312.4h2.4M345.7 312.4h2.4M350.4 312.4h2.4M362.0 312.4h2.4M366.7 312.4h2.4M376.0 312.4h2.4M385.3 312.4h4.7M331.8 313.4h2.4M336.4 313.4h4.7M362.0 313.4h4.7M369.0 313.4h2.4M331.8 314.4h2.4M420.3 314.4h2.4M327.1 315.4h2.4M376.0 315.4h2.4M362.0 317.4h2.4M425.0 317.4h2.4M345.7 318.4h2.4M362.0 318.4h4.7M425.0 319.4h2.4M334.1 320.4h2.4M345.7 320.4h2.4M373.7 321.4h4.7M383.0 321.4h2.4M422.6 321.4h2.4M371.4 322.4h2.4M420.3 322.4h2.4M338.7 323.4h2.4M345.7 323.4h2.4M369.0 323.4h2.4M422.6 323.4h2.4M317.8 324.4h2.4M348.1 324.4h2.4M378.4 324.4h2.4M425.0 324.4h2.4M341.1 325.4h4.7M371.4 325.4h2.4M362.0 326.3h2.4M306.1 327.3h2.4M331.8 327.3h2.4M369.0 327.3h2.4M366.7 328.3h2.4M387.7 328.3h2.4M317.8 329.3h2.4M425.0 329.3h2.4M345.7 330.3h2.4M359.7 330.3h2.4M364.4 330.3h2.4M371.4 330.3h2.4M348.1 331.3h2.4M373.7 331.3h4.7M336.4 332.3h2.4M345.7 332.3h2.4M378.4 333.3h2.4M343.4 336.1h2.4M376.0 336.1h2.4M394.7 336.1h2.4M422.6 336.1h2.4M364.4 337.1h2.4M408.6 337.1h2.4M420.3 337.1h2.4M399.3 338.1h2.4M408.6 338.1h2.4M418.0 338.1h2.4M341.1 340.1h2.4M422.6 340.1h2.4M373.7 341.1h2.4M399.3 341.1h2.4M376.0 342.1h2.4M390.0 342.1h9.4M366.7 343.1h2.4M343.4 344.0h2.4M329.4 346.0h2.4M376.0 346.0h2.4M422.6 346.0h2.4M373.7 347.0h2.4M415.6 347.0h4.7M425.0 347.0h2.4M404.0 348.0h2.4M420.3 348.0h2.4M422.6 349.0h2.4M343.4 350.0h2.4M411.0 350.0h2.4M373.7 352.0h2.4M329.4 353.0h2.4M341.1 353.0h2.4M345.7 354.0h2.4M345.7 355.0h2.4M425.0 356.0h2.4M408.6 357.0h2.4M420.3 357.9h4.7M376.0 358.9h2.4M422.6 359.9h4.7M362.0 360.9h2.4M418.0 362.9h2.4" stroke="rgb(228,212,234)" stroke-width="1.12" fill="none"/>
<path d="M296.8 223.6h2.4M357.4 223.6h2.4M362.0 223.6h2.4M376.0 223.6h2.4M385.3 223.6h2.4M413.3 223.6h2.4M315.4 224.6h2.4M320.1 224.6h2.4M331.8 224.6h2.4M357.4 224.6h2.4M364.4 224.6h2.4M378.4 224.6h2.4M383.0 224.6h2.4M425.0 224.6h2.4M324.8 225.6h2.4M364.4 225.6h2.4M376.0 225.6h2.4M418.0 225.6h2.4M315.4 226.6h2.4M336.4 226.6h2.4M359.7 226.6h4.7M385.3 226.6h2.4M418.0 226.6h2.4M303.8 227.6h2.4M310.8 227.6h2.4M334.1 227.6h2.4M343.4 227.6h2.4M350.4 227.6h2.4M373.7 227.6h2.4M411.0 227.6h4.7M418.0 227.6h2.4M322.4 228.6h2.4M334.1 228.6h2.4M341.1 228.6h2.4M345.7 228.6h2.4M357.4 228.6h2.4M380.7 228.6h4.7M303.8 229.6h2.4M317.8 229.6h2.4M334.1 229.6h4.7M378.4 229.6h2.4M418.0 229.6h2.4M355.1 230.6h2.4M359.7 230.6h2.4M387.7 230.6h2.4M418.0 230.6h2.4M310.8 231.6h2.4M315.4 231.6h2.4M322.4 231.6h2.4M345.7 231.6h4.7M378.4 231.6h2.4M394.7 231.6h2.4M422.6 231.6h4.7M301.5 232.6h2.4M315.4 232.6h2.4M320.1 232.6h2.4M327.1 232.6h2.4M348.1 232.6h2.4M359.7 232.6h4.7M399.3 232.6h2.4M408.6 232.6h2.4M299.1 233.6h2.4M308.5 233.6h2.4M348.1 233.6h2.4M373.7 233.6h2.4M413.3 233.6h4.7M315.4 234.6h2.4M331.8 234.6h2.4M366.7 234.6h2.4M371.4 234.6h2.4M420.3 234.6h2.4M322.4 235.5h2.4M343.4 235.5h2.4M366.7 235.5h2.4M378.4 235.5h2.4M397.0 235.5h2.4M411.0 235.5h2.4M359.7 236.5h2.4M369.0 236.5h2.4M397.0 236.5h2.4M411.0 236.5h4.7M308.5 237.5h4.7M334.1 237.5h2.4M364.4 237.5h2.4M369.0 237.5h2.4M378.4 237.5h2.4M385.3 237.5h2.4M406.3 237.5h2.4M413.3 237.5h2.4M303.8 238.5h4.7M320.1 238.5h2.4M334.1 238.5h2.4M338.7 238.5h4.7M366.7 238.5h2.4M376.0 238.5h2.4M392.3 238.5h2.4M406.3 238.5h2.4M310.8 239.5h2.4M334.1 239.5h2.4M338.7 239.5h2.4M350.4 239.5h4.7M383.0 239.5h2.4M387.7 239.5h2.4M399.3 239.5h2.4M303.8 240.5h2.4M345.7 240.5h2.4M380.7 240.5h2.4M413.3 240.5h2.4M313.1 241.5h2.4M322.4 241.5h2.4M336.4 241.5h4.7M422.6 241.5h2.4M315.4 242.5h2.4M355.1 242.5h2.4M369.0 242.5h2.4M376.0 242.5h4.7M383.0 242.5h2.4M415.6 242.5h2.4M338.7 243.5h2.4M350.4 243.5h2.4M418.0 243.5h2.4M425.0 243.5h2.4M306.1 244.5h2.4M345.7 244.5h2.4M350.4 244.5h2.4M387.7 244.5h2.4M420.3 244.5h2.4M425.0 244.5h2.4M317.8 245.5h2.4M350.4 245.5h7.0M362.0 245.5h2.4M369.0 245.5h2.4M385.3 245.5h2.4M420.3 245.5h2.4M303.8 246.5h2.4M308.5 246.5h2.4M334.1 246.5h2.4M369.0 246.5h2.4M383.0 246.5h2.4M422.6 246.5h2.4M350.4 249.4h2.4M373.7 249.4h2.4M380.7 249.4h2.4M387.7 249.4h2.4M313.1 250.4h2.4M324.8 250.4h2.4M331.8 250.4h2.4M378.4 250.4h2.4M383.0 250.4h2.4M303.8 251.4h2.4M310.8 251.4h2.4M329.4 251.4h2.4M383.0 251.4h2.4M308.5 252.3h2.4M313.1 252.3h2.4M320.1 252.3h2.4M345.7 252.3h2.4M364.4 252.3h2.4M385.3 252.3h2.4M296.8 254.3h2.4M313.1 254.3h2.4M322.4 254.3h2.4M331.8 254.3h2.4M341.1 254.3h2.4M383.0 254.3h2.4M383.0 255.3h4.7M322.4 256.3h4.7M345.7 256.3h4.7M380.7 256.3h2.4M387.7 257.3h2.4M320.1 258.2h2.4M331.8 258.2h2.4M336.4 258.2h2.4M373.7 258.2h2.4M378.4 258.2h2.4M296.8 259.2h4.7M313.1 259.2h2.4M336.4 259.2h2.4M350.4 259.2h2.4M315.4 260.2h2.4M320.1 260.2h2.4M338.7 260.2h2.4M355.1 260.2h2.4M383.0 260.2h4.7M299.1 261.2h2.4M313.1 261.2h2.4M341.1 261.2h4.7M357.4 261.2h2.4M385.3 261.2h2.4M348.1 262.2h2.4M362.0 262.2h2.4M376.0 262.2h2.4M380.7 262.2h2.4M359.7 263.2h2.4M324.8 264.1h2.4M324.8 265.1h2.4M352.7 265.1h2.4M306.1 266.1h2.4M329.4 266.1h2.4M352.7 266.1h2.4M359.7 266.1h2.4M373.7 266.1h2.4M387.7 266.1h2.4M362.0 268.8h2.4M341.1 269.8h4.7M362.0 269.8h2.4M392.3 269.8h2.4M411.0 269.8h2.4M341.1 270.8h2.4M350.4 270.8h4.7M371.4 270.8h2.4M371.4 271.8h2.4M387.7 271.8h2.4M413.3 272.8h2.4M418.0 273.7h2.4M422.6 273.7h2.4M371.4 274.7h2.4M317.8 276.7h4.7M364.4 276.7h2.4M369.0 276.7h2.4M378.4 276.7h2.4M371.4 277.7h2.4M306.1 278.7h2.4M341.1 278.7h4.7M331.8 279.7h2.4M345.7 279.7h2.4M411.0 279.7h2.4M315.4 280.7h4.7M331.8 280.7h2.4M366.7 280.7h2.4M371.4 280.7h2.4M390.0 280.7h2.4M415.6 280.7h2.4M317.8 281.7h2.4M338.7 281.7h2.4M343.4 281.7h2.4M364.4 281.7h2.4M425.0 281.7h2.4M317.8 283.6h2.4M343.4 283.6h4.7M415.6 283.6h2.4M331.8 284.6h2.4M343.4 284.6h2.4M362.0 284.6h2.4M392.3 284.6h2.4M420.3 284.6h2.4M329.4 285.6h2.4M317.8 286.6h2.4M334.1 286.6h2.4M343.4 286.6h2.4M366.7 286.6h2.4M373.7 286.6h2.4M392.3 286.6h2.4M306.1 287.6h2.4M369.0 287.6h2.4M397.0 287.6h2.4M420.3 287.6h4.7M315.4 288.6h2.4M331.8 288.6h2.4M373.7 288.6h4.7M390.0 288.6h2.4M317.8 289.6h2.4M324.8 289.6h2.4M348.1 289.6h2.4M371.4 289.6h2.4M401.7 289.6h2.4M425.0 289.6h2.4M345.7 290.6h2.4M362.0 290.6h2.4M315.4 291.6h2.4M397.0 291.6h2.4M317.8 292.6h2.4M329.4 292.6h2.4M343.4 292.6h2.4M366.7 292.6h2.4M404.0 293.5h2.4M383.0 294.5h2.4M401.7 294.5h2.4M422.6 294.5h2.4M336.4 296.5h2.4M345.7 296.5h2.4M376.0 296.5h2.4M364.4 297.5h2.4M408.6 300.5h2.4M420.3 300.5h2.4M338.7 301.5h2.4M364.4 301.5h2.4M373.7 301.5h2.4M413.3 301.5h2.4M296.8 302.5h2.4M373.7 302.5h2.4M336.4 303.5h4.7M345.7 303.5h2.4M345.7 304.5h2.4M366.7 304.5h2.4M387.7 304.5h2.4M331.8 305.5h7.0M350.4 305.5h2.4M369.0 305.5h2.4M327.1 306.5h2.4M343.4 306.5h2.4M366.7 306.5h2.4M371.4 306.5h2.4M376.0 306.5h2.4M420.3 306.5h4.7M317.8 307.5h2.4M324.8 307.5h2.4M334.1 307.5h2.4M376.0 308.4h2.4M345.7 309.4h2.4M359.7 309.4h2.4M364.4 309.4h2.4M369.0 309.4h2.4M373.7 309.4h2.4M327.1 310.4h2.4M331.8 310.4h2.4M362.0 310.4h2.4M373.7 310.4h2.4M422.6 311.4h2.4M336.4 312.4h2.4M343.4 312.4h2.4M364.4 312.4h2.4M425.0 312.4h2.4M320.1 313.4h2.4M345.7 313.4h2.4M352.7 313.4h2.4M338.7 314.4h2.4M357.4 314.4h7.0M369.0 314.4h2.4M336.4 315.4h2.4M371.4 315.4h4.7M331.8 316.4h2.4M336.4 316.4h2.4M341.1 316.4h2.4M345.7 316.4h2.4M371.4 316.4h4.7M420.3 316.4h4.7M334.1 317.4h2.4M376.0 317.4h2.4M422.6 317.4h2.4M338.7 318.4h2.4M369.0 318.4h4.7M336.4 319.4h2.4M350.4 319.4h2.4M371.4 319.4h2.4M422.6 319.4h2.4M327.1 320.4h7.0M371.4 320.4h2.4M420.3 320.4h2.4M317.8 321.4h4.7M371.4 321.4h2.4M425.0 321.4h2.4M296.8 322.4h2.4M320.1 322.4h2.4M350.4 322.4h2.4M369.0 322.4h2.4M373.7 322.4h2.4M336.4 323.4h2.4M373.7 323.4h2.4M338.7 324.4h2.4M373.7 325.4h4.7M336.4 326.3h2.4M341.1 326.3h2.4M420.3 326.3h2.4M303.8 327.3h2.4M341.1 328.3h4.7M362.0 328.3h2.4M376.0 328.3h2.4M425.0 328.3h2.4M329.4 329.3h2.4M371.4 329.3h2.4M376.0 329.3h2.4M422.6 329.3h2.4M317.8 330.3h4.7M341.1 330.3h4.7M315.4 331.3h4.7M327.1 331.3h2.4M345.7 331.3h2.4M371.4 331.3h2.4M373.7 332.3h2.4M411.0 332.3h2.4M420.3 332.3h4.7M373.7 333.3h2.4M366.7 336.1h2.4M397.0 336.1h2.4M341.1 337.1h2.4M376.0 337.1h2.4M345.7 338.1h2.4M376.0 338.1h2.4M394.7 338.1h2.4M406.3 338.1h2.4M341.1 339.1h2.4M376.0 339.1h2.4M420.3 339.1h2.4M343.4 340.1h2.4M401.7 340.1h4.7M331.8 341.1h2.4M392.3 341.1h2.4M401.7 341.1h4.7M317.8 343.1h2.4M369.0 344.0h2.4M390.0 344.0h2.4M338.7 345.0h2.4M331.8 346.0h2.4M394.7 346.0h2.4M404.0 347.0h2.4M373.7 348.0h4.7M390.0 348.0h2.4M406.3 348.0h2.4M411.0 348.0h2.4M336.4 349.0h2.4M418.0 349.0h4.7M329.4 350.0h4.7M373.7 350.0h2.4M406.3 350.0h2.4M413.3 350.0h2.4M420.3 350.0h2.4M341.1 351.0h2.4M383.0 351.0h2.4M331.8 352.0h2.4M387.7 352.0h2.4M306.1 353.0h2.4M336.4 353.0h2.4M373.7 353.0h2.4M362.0 354.0h2.4M336.4 355.0h2.4M329.4 356.0h2.4M336.4 356.0h2.4M376.0 356.0h2.4M376.0 357.9h4.7M373.7 358.9h2.4M420.3 358.9h2.4M320.1 360.9h2.4M338.7 360.9h7.0M373.7 360.9h2.4M345.7 362.9h2.4M373.7 363.9h2.4M331.8 364.9h2.4M371.4 364.9h2.4" stroke="rgb(236,220,236)" stroke-width="1.12" fill="none"/>
<path d="M303.8 223.6h2.4M310.8 223.6h2.4M320.1 223.6h2.4M329.4 223.6h2.4M348.1 223.6h2.4M355.1 223.6h2.4M378.4 223.6h2.4M383.0 223.6h2.4M420.3 223.6h2.4M420.3 224.6h2.4M322.4 225.6h2.4M329.4 225.6h2.4M343.4 225.6h2.4M359.7 225.6h2.4M373.7 225.6h2.4M408.6 225.6h2.4M301.5 226.6h2.4M320.1 226.6h2.4M327.1 226.6h2.4M352.7 226.6h2.4M387.7 226.6h2.4M411.0 226.6h2.4M422.6 226.6h2.4M313.1 227.6h2.4M324.8 227.6h2.4M357.4 227.6h2.4M385.3 227.6h4.7M310.8 228.6h2.4M324.8 228.6h2.4M329.4 228.6h2.4M338.7 228.6h2.4M343.4 228.6h2.4M359.7 228.6h2.4M364.4 228.6h2.4M378.4 228.6h2.4M411.0 228.6h2.4M301.5 229.6h2.4M310.8 229.6h2.4M315.4 229.6h2.4M329.4 229.6h2.4M348.1 229.6h2.4M385.3 229.6h4.7M415.6 229.6h2.4M296.8 230.6h2.4M317.8 230.6h7.0M338.7 230.6h2.4M364.4 230.6h2.4M383.0 230.6h4.7M296.8 231.6h2.4M320.1 231.6h2.4M334.1 231.6h4.7M341.1 231.6h2.4M357.4 231.6h2.4M373.7 231.6h2.4M385.3 231.6h2.4M308.5 232.6h4.7M324.8 232.6h2.4M336.4 232.6h2.4M352.7 232.6h2.4M376.0 232.6h4.7M383.0 232.6h2.4M390.0 232.6h4.7M420.3 232.6h2.4M369.0 233.6h2.4M399.3 233.6h2.4M418.0 233.6h2.4M310.8 234.6h4.7M324.8 234.6h2.4M336.4 234.6h2.4M345.7 234.6h2.4M355.1 234.6h2.4M359.7 234.6h2.4M376.0 234.6h2.4M385.3 234.6h2.4M406.3 234.6h2.4M413.3 234.6h2.4M422.6 234.6h2.4M327.1 235.5h2.4M334.1 235.5h2.4M348.1 235.5h2.4M371.4 235.5h2.4M376.0 235.5h2.4M387.7 235.5h2.4M308.5 236.5h2.4M315.4 236.5h2.4M338.7 236.5h2.4M357.4 236.5h2.4M373.7 236.5h2.4M303.8 237.5h4.7M320.1 237.5h2.4M336.4 237.5h2.4M345.7 237.5h2.4M373.7 237.5h2.4M408.6 237.5h2.4M308.5 238.5h2.4M343.4 238.5h2.4M355.1 238.5h2.4M359.7 238.5h2.4M371.4 238.5h2.4M378.4 238.5h2.4M383.0 238.5h4.7M422.6 238.5h2.4M331.8 239.5h2.4M385.3 239.5h2.4M420.3 239.5h4.7M313.1 240.5h2.4M320.1 240.5h4.7M355.1 240.5h2.4M383.0 240.5h2.4M411.0 240.5h2.4M299.1 241.5h2.4M341.1 241.5h2.4M299.1 242.5h4.7M313.1 242.5h2.4M320.1 242.5h2.4M350.4 242.5h2.4M359.7 242.5h2.4M371.4 242.5h2.4M401.7 242.5h2.4M303.8 243.5h2.4M310.8 243.5h2.4M343.4 243.5h4.7M355.1 243.5h2.4M369.0 243.5h2.4M378.4 243.5h2.4M385.3 243.5h2.4M408.6 243.5h4.7M420.3 243.5h2.4M308.5 244.5h4.7M378.4 244.5h2.4M401.7 244.5h2.4M415.6 244.5h4.7M422.6 244.5h2.4M299.1 245.5h2.4M303.8 245.5h2.4M366.7 245.5h2.4M383.0 245.5h2.4M387.7 245.5h2.4M327.1 246.5h2.4M357.4 246.5h2.4M378.4 246.5h4.7M408.6 246.5h2.4M415.6 246.5h4.7M315.4 249.4h2.4M378.4 249.4h2.4M383.0 249.4h2.4M322.4 250.4h2.4M327.1 250.4h2.4M343.4 250.4h2.4M373.7 250.4h2.4M313.1 251.4h2.4M320.1 251.4h2.4M301.5 252.3h2.4M310.8 252.3h2.4M324.8 252.3h2.4M362.0 252.3h2.4M376.0 252.3h2.4M383.0 252.3h2.4M301.5 253.3h2.4M362.0 253.3h2.4M378.4 253.3h2.4M385.3 253.3h2.4M310.8 254.3h2.4M320.1 254.3h2.4M327.1 254.3h2.4M385.3 254.3h2.4M301.5 255.3h2.4M331.8 255.3h2.4M380.7 255.3h2.4M301.5 256.3h4.7M310.8 256.3h4.7M327.1 256.3h2.4M301.5 257.3h2.4M313.1 257.3h2.4M334.1 258.2h2.4M376.0 258.2h2.4M334.1 259.2h2.4M331.8 260.2h2.4M303.8 261.2h2.4M324.8 261.2h4.7M336.4 261.2h2.4M355.1 261.2h2.4M380.7 261.2h2.4M313.1 262.2h2.4M334.1 262.2h2.4M357.4 262.2h2.4M383.0 262.2h2.4M387.7 262.2h2.4M373.7 265.1h2.4M380.7 265.1h2.4M313.1 266.1h2.4M334.1 266.1h2.4M348.1 266.1h2.4M378.4 266.1h7.0M369.0 268.8h2.4M376.0 268.8h2.4M392.3 268.8h2.4M422.6 268.8h4.7M322.4 269.8h2.4M334.1 269.8h2.4M366.7 269.8h2.4M390.0 269.8h2.4M336.4 270.8h4.7M359.7 270.8h2.4M376.0 270.8h2.4M420.3 270.8h7.0M329.4 271.8h2.4M348.1 271.8h2.4M369.0 271.8h2.4M373.7 271.8h7.0M394.7 271.8h2.4M408.6 271.8h2.4M418.0 271.8h2.4M338.7 272.8h2.4M350.4 272.8h2.4M359.7 272.8h4.7M369.0 272.8h2.4M373.7 272.8h7.0M387.7 272.8h2.4M406.3 272.8h2.4M411.0 272.8h2.4M329.4 273.7h2.4M338.7 273.7h2.4M362.0 273.7h2.4M296.8 274.7h2.4M310.8 274.7h2.4M329.4 274.7h2.4M336.4 274.7h2.4M343.4 274.7h2.4M415.6 274.7h2.4M420.3 274.7h2.4M306.1 275.7h2.4M341.1 275.7h2.4M345.7 275.7h2.4M413.3 275.7h2.4M341.1 276.7h2.4M345.7 276.7h2.4M366.7 276.7h2.4M371.4 276.7h2.4M338.7 277.7h2.4M385.3 277.7h2.4M415.6 277.7h4.7M329.4 278.7h2.4M362.0 278.7h2.4M387.7 278.7h2.4M394.7 278.7h2.4M320.1 279.7h2.4M329.4 279.7h2.4M334.1 279.7h2.4M338.7 279.7h2.4M397.0 279.7h2.4M313.1 280.7h2.4M362.0 280.7h2.4M369.0 280.7h2.4M411.0 280.7h2.4M306.1 281.7h2.4M327.1 281.7h7.0M352.7 281.7h2.4M366.7 281.7h2.4M378.4 281.7h2.4M394.7 281.7h2.4M413.3 281.7h2.4M371.4 282.7h2.4M415.6 282.7h2.4M422.6 282.7h2.4M329.4 283.6h2.4M425.0 283.6h2.4M296.8 284.6h2.4M336.4 284.6h2.4M327.1 285.6h2.4M331.8 285.6h2.4M341.1 285.6h2.4M362.0 285.6h2.4M364.4 286.6h2.4M320.1 287.6h4.7M345.7 287.6h2.4M425.0 287.6h2.4M306.1 288.6h2.4M341.1 288.6h4.7M371.4 288.6h2.4M392.3 288.6h2.4M401.7 288.6h2.4M415.6 288.6h4.7M296.8 289.6h2.4M303.8 289.6h2.4M327.1 289.6h2.4M331.8 289.6h4.7M341.1 289.6h4.7M359.7 289.6h2.4M397.0 289.6h2.4M404.0 289.6h2.4M420.3 289.6h2.4M296.8 290.6h2.4M331.8 290.6h2.4M336.4 290.6h4.7M350.4 290.6h2.4M366.7 290.6h2.4M390.0 290.6h2.4M317.8 291.6h2.4M338.7 291.6h2.4M343.4 291.6h2.4M362.0 291.6h2.4M376.0 291.6h2.4M369.0 292.6h2.4M378.4 292.6h2.4M387.7 292.6h2.4M397.0 292.6h2.4M413.3 292.6h2.4M315.4 293.5h2.4M338.7 293.5h4.7M355.1 293.5h2.4M364.4 293.5h2.4M420.3 293.5h2.4M320.1 294.5h4.7M345.7 294.5h2.4M364.4 294.5h2.4M378.4 294.5h2.4M411.0 294.5h2.4M296.8 295.5h2.4M345.7 295.5h2.4M359.7 295.5h4.7M371.4 295.5h2.4M394.7 295.5h2.4M399.3 295.5h2.4M310.8 296.5h2.4M334.1 296.5h2.4M357.4 296.5h2.4M329.4 297.5h2.4M369.0 297.5h2.4M341.1 300.5h2.4M369.0 300.5h4.7M329.4 302.5h2.4M376.0 302.5h2.4M420.3 303.5h2.4M317.8 304.5h2.4M324.8 304.5h4.7M350.4 304.5h2.4M359.7 304.5h4.7M369.0 304.5h2.4M329.4 305.5h2.4M345.7 305.5h2.4M359.7 305.5h2.4M296.8 306.5h2.4M329.4 306.5h2.4M345.7 306.5h2.4M364.4 306.5h2.4M336.4 307.5h2.4M341.1 307.5h2.4M341.1 308.4h2.4M359.7 308.4h2.4M320.1 310.4h4.7M369.0 310.4h4.7M376.0 310.4h2.4M341.1 311.4h2.4M317.8 312.4h2.4M313.1 313.4h4.7M376.0 313.4h2.4M296.8 314.4h2.4M320.1 314.4h2.4M329.4 314.4h2.4M355.1 314.4h2.4M320.1 315.4h2.4M324.8 315.4h2.4M334.1 315.4h2.4M357.4 315.4h2.4M366.7 315.4h2.4M327.1 316.4h4.7M366.7 316.4h4.7M308.5 317.4h2.4M313.1 317.4h4.7M322.4 317.4h2.4M371.4 317.4h2.4M378.4 317.4h2.4M329.4 318.4h2.4M341.1 318.4h4.7M355.1 318.4h2.4M359.7 318.4h2.4M373.7 318.4h4.7M296.8 319.4h2.4M327.1 319.4h2.4M359.7 319.4h4.7M299.1 320.4h2.4M336.4 320.4h2.4M352.7 320.4h2.4M385.3 320.4h2.4M313.1 321.4h4.7M345.7 321.4h2.4M306.1 322.4h4.7M322.4 322.4h2.4M329.4 322.4h2.4M334.1 322.4h2.4M357.4 322.4h2.4M366.7 322.4h2.4M317.8 323.4h2.4M322.4 323.4h2.4M331.8 323.4h2.4M343.4 323.4h2.4M350.4 323.4h4.7M376.0 323.4h2.4M327.1 324.4h7.0M359.7 324.4h2.4M376.0 324.4h2.4M296.8 325.4h2.4M317.8 325.4h2.4M348.1 325.4h2.4M369.0 325.4h2.4M385.3 325.4h2.4M422.6 325.4h4.7M355.1 326.3h2.4M320.1 327.3h2.4M338.7 327.3h2.4M422.6 327.3h2.4M331.8 328.3h2.4M338.7 328.3h2.4M359.7 328.3h2.4M373.7 328.3h2.4M338.7 329.3h2.4M345.7 329.3h2.4M359.7 329.3h2.4M413.3 329.3h2.4M315.4 330.3h2.4M324.8 330.3h2.4M296.8 331.3h2.4M350.4 331.3h4.7M385.3 331.3h2.4M331.8 332.3h4.7M366.7 332.3h2.4M415.6 332.3h2.4M317.8 333.3h2.4M366.7 333.3h2.4M387.7 333.3h2.4M362.0 336.1h2.4M408.6 336.1h2.4M415.6 336.1h4.7M366.7 337.1h2.4M390.0 337.1h2.4M394.7 337.1h2.4M406.3 337.1h2.4M411.0 337.1h2.4M350.4 338.1h2.4M329.4 339.1h2.4M425.0 339.1h2.4M315.4 340.1h2.4M359.7 340.1h2.4M378.4 340.1h2.4M387.7 340.1h2.4M394.7 340.1h4.7M329.4 341.1h2.4M345.7 341.1h2.4M390.0 341.1h2.4M345.7 342.1h2.4M401.7 342.1h4.7M315.4 343.1h2.4M331.8 343.1h2.4M345.7 343.1h2.4M357.4 343.1h2.4M362.0 343.1h2.4M387.7 343.1h2.4M399.3 343.1h2.4M404.0 343.1h2.4M376.0 344.0h2.4M394.7 344.0h2.4M404.0 344.0h2.4M394.7 345.0h4.7M401.7 345.0h2.4M324.8 346.0h2.4M401.7 346.0h2.4M387.7 347.0h2.4M392.3 347.0h4.7M401.7 347.0h2.4M406.3 347.0h2.4M420.3 347.0h2.4M331.8 349.0h2.4M341.1 349.0h7.0M376.0 349.0h2.4M408.6 349.0h2.4M425.0 349.0h2.4M296.8 351.0h2.4M338.7 351.0h2.4M345.7 351.0h4.7M364.4 351.0h4.7M378.4 352.0h2.4M320.1 353.0h4.7M345.7 353.0h2.4M334.1 354.0h2.4M322.4 355.0h2.4M331.8 355.0h2.4M338.7 355.0h2.4M355.1 355.0h2.4M315.4 356.0h2.4M357.4 356.0h2.4M331.8 357.0h2.4M343.4 357.0h2.4M364.4 357.0h2.4M378.4 357.0h2.4M387.7 357.0h2.4M341.1 357.9h2.4M331.8 360.9h2.4M376.0 360.9h2.4M341.1 361.9h2.4M341.1 362.9h2.4M338.7 363.9h2.4M345.7 363.9h2.4M369.0 363.9h2.4M378.4 363.9h2.4M341.1 364.9h4.7M357.4 364.9h2.4" stroke="rgb(243,229,239)" stroke-width="1.12" fill="none"/>
<path d="M306.1 223.6h2.4M345.7 224.6h2.4M418.0 224.6h2.4M306.1 225.6h2.4M313.1 225.6h2.4M331.8 225.6h2.4M338.7 225.6h2.4M357.4 225.6h2.4M380.7 225.6h2.4M387.7 225.6h2.4M299.1 226.6h2.4M334.1 226.6h2.4M345.7 226.6h2.4M357.4 226.6h2.4M366.7 226.6h2.4M383.0 226.6h2.4M420.3 226.6h2.4M315.4 227.6h2.4M327.1 227.6h2.4M336.4 227.6h2.4M376.0 227.6h4.7M315.4 228.6h2.4M331.8 228.6h2.4M355.1 228.6h2.4M324.8 229.6h2.4M352.7 229.6h2.4M373.7 229.6h2.4M411.0 229.6h2.4M299.1 230.6h2.4M308.5 230.6h4.7M334.1 230.6h4.7M341.1 230.6h4.7M378.4 230.6h2.4M394.7 230.6h2.4M406.3 230.6h2.4M420.3 230.6h2.4M313.1 231.6h2.4M383.0 231.6h2.4M313.1 232.6h2.4M322.4 232.6h2.4M366.7 232.6h7.0M413.3 232.6h2.4M338.7 233.6h2.4M345.7 233.6h2.4M357.4 233.6h2.4M364.4 233.6h2.4M385.3 233.6h2.4M299.1 234.6h2.4M343.4 234.6h2.4M357.4 234.6h2.4M401.7 234.6h2.4M331.8 235.5h2.4M341.1 235.5h2.4M359.7 235.5h2.4M296.8 236.5h2.4M306.1 236.5h2.4M317.8 236.5h4.7M327.1 236.5h2.4M331.8 236.5h2.4M355.1 236.5h2.4M418.0 236.5h2.4M324.8 237.5h2.4M341.1 237.5h2.4M376.0 237.5h2.4M383.0 237.5h2.4M313.1 238.5h2.4M322.4 238.5h4.7M329.4 238.5h4.7M420.3 238.5h2.4M320.1 239.5h2.4M324.8 239.5h2.4M329.4 239.5h2.4M345.7 239.5h2.4M329.4 240.5h4.7M359.7 240.5h2.4M369.0 240.5h2.4M418.0 240.5h2.4M422.6 240.5h2.4M306.1 241.5h2.4M380.7 241.5h2.4M322.4 242.5h2.4M331.8 242.5h2.4M336.4 242.5h2.4M357.4 242.5h2.4M364.4 242.5h2.4M299.1 243.5h2.4M320.1 243.5h7.0M341.1 243.5h2.4M357.4 243.5h4.7M373.7 243.5h2.4M397.0 243.5h2.4M404.0 243.5h4.7M299.1 244.5h7.0M315.4 244.5h2.4M371.4 244.5h2.4M301.5 245.5h2.4M308.5 245.5h2.4M315.4 245.5h2.4M320.1 245.5h2.4M334.1 245.5h2.4M373.7 245.5h2.4M378.4 245.5h2.4M313.1 246.5h4.7M324.8 246.5h2.4M385.3 246.5h2.4M357.4 249.4h2.4M436.6 249.4h2.4M334.1 250.4h2.4M420.3 250.4h2.4M308.5 251.4h2.4M336.4 251.4h2.4M429.6 251.4h2.4M331.8 252.3h2.4M373.7 252.3h2.4M380.7 254.3h2.4M313.1 255.3h2.4M329.4 256.3h2.4M336.4 256.3h2.4M355.1 256.3h2.4M378.4 256.3h2.4M385.3 256.3h2.4M383.0 257.3h2.4M357.4 259.2h2.4M376.0 260.2h2.4M380.7 260.2h2.4M334.1 261.2h2.4M425.0 262.2h2.4M380.7 263.2h2.4M399.3 263.2h2.4M383.0 264.1h2.4M331.8 268.8h2.4M341.1 268.8h2.4M359.7 268.8h2.4M373.7 268.8h2.4M420.3 268.8h2.4M306.1 269.8h2.4M338.7 269.8h2.4M355.1 269.8h2.4M359.7 269.8h2.4M373.7 269.8h2.4M408.6 269.8h2.4M320.1 270.8h2.4M334.1 270.8h2.4M373.7 270.8h2.4M385.3 270.8h2.4M394.7 270.8h2.4M301.5 271.8h2.4M341.1 271.8h2.4M355.1 271.8h2.4M383.0 271.8h2.4M341.1 273.7h2.4M373.7 273.7h2.4M315.4 274.7h2.4M331.8 274.7h2.4M366.7 274.7h2.4M313.1 275.7h2.4M317.8 275.7h2.4M334.1 275.7h2.4M355.1 275.7h2.4M364.4 275.7h2.4M371.4 275.7h2.4M378.4 275.7h2.4M408.6 275.7h2.4M425.0 275.7h2.4M308.5 276.7h2.4M336.4 276.7h2.4M352.7 276.7h2.4M415.6 276.7h2.4M341.1 277.7h2.4M364.4 277.7h2.4M383.0 277.7h2.4M308.5 278.7h4.7M331.8 278.7h2.4M373.7 278.7h2.4M422.6 278.7h2.4M308.5 279.7h2.4M369.0 279.7h2.4M425.0 279.7h2.4M310.8 280.7h2.4M327.1 280.7h2.4M345.7 280.7h4.7M357.4 280.7h2.4M394.7 280.7h2.4M408.6 280.7h2.4M420.3 280.7h2.4M296.8 281.7h2.4M355.1 281.7h2.4M317.8 282.7h2.4M331.8 282.7h2.4M336.4 282.7h2.4M327.1 283.6h2.4M362.0 283.6h2.4M327.1 284.6h2.4M338.7 284.6h4.7M369.0 284.6h2.4M376.0 284.6h2.4M387.7 284.6h2.4M404.0 284.6h2.4M343.4 285.6h2.4M373.7 285.6h2.4M327.1 286.6h2.4M362.0 286.6h2.4M369.0 286.6h2.4M376.0 286.6h2.4M387.7 286.6h4.7M399.3 286.6h2.4M315.4 287.6h2.4M329.4 287.6h2.4M341.1 287.6h2.4M350.4 287.6h2.4M362.0 287.6h4.7M399.3 287.6h2.4M317.8 288.6h2.4M324.8 288.6h2.4M336.4 288.6h2.4M378.4 288.6h2.4M394.7 288.6h2.4M422.6 288.6h2.4M315.4 289.6h2.4M369.0 289.6h2.4M399.3 289.6h2.4M306.1 290.6h2.4M343.4 290.6h2.4M371.4 290.6h2.4M383.0 290.6h2.4M387.7 290.6h2.4M296.8 291.6h2.4M310.8 291.6h2.4M324.8 291.6h2.4M357.4 291.6h2.4M394.7 291.6h2.4M399.3 291.6h2.4M404.0 291.6h2.4M415.6 291.6h2.4M336.4 292.6h2.4M350.4 292.6h2.4M418.0 292.6h2.4M362.0 293.5h2.4M366.7 293.5h2.4M338.7 294.5h2.4M366.7 294.5h4.7M373.7 294.5h2.4M390.0 294.5h2.4M404.0 294.5h4.7M317.8 295.5h2.4M338.7 295.5h7.0M366.7 295.5h2.4M401.7 295.5h4.7M299.1 296.5h2.4M331.8 296.5h2.4M352.7 296.5h2.4M364.4 296.5h7.0M378.4 296.5h2.4M385.3 296.5h2.4M406.3 296.5h2.4M299.1 297.5h2.4M322.4 297.5h2.4M359.7 297.5h4.7M366.7 297.5h2.4M387.7 297.5h2.4M336.4 300.5h2.4M376.0 300.5h2.4M422.6 300.5h2.4M299.1 301.5h2.4M308.5 301.5h2.4M371.4 301.5h2.4M334.1 302.5h4.7M343.4 302.5h4.7M378.4 302.5h2.4M352.7 303.5h2.4M376.0 303.5h2.4M299.1 304.5h2.4M341.1 304.5h2.4M355.1 304.5h2.4M378.4 304.5h2.4M385.3 304.5h2.4M364.4 305.5h2.4M378.4 305.5h2.4M383.0 305.5h2.4M406.3 305.5h2.4M413.3 305.5h2.4M334.1 306.5h2.4M355.1 306.5h2.4M315.4 307.5h2.4M327.1 307.5h7.0M362.0 307.5h4.7M336.4 308.4h2.4M348.1 308.4h2.4M371.4 308.4h2.4M317.8 309.4h4.7M341.1 309.4h2.4M350.4 309.4h4.7M406.3 309.4h2.4M317.8 310.4h2.4M359.7 310.4h2.4M364.4 310.4h2.4M366.7 311.4h2.4M373.7 311.4h4.7M320.1 312.4h4.7M359.7 312.4h2.4M369.0 312.4h2.4M422.6 312.4h2.4M348.1 313.4h2.4M357.4 313.4h2.4M371.4 313.4h2.4M387.7 313.4h2.4M306.1 314.4h2.4M315.4 314.4h2.4M322.4 314.4h2.4M336.4 314.4h2.4M343.4 314.4h2.4M373.7 314.4h2.4M387.7 314.4h2.4M415.6 314.4h2.4M308.5 315.4h2.4M315.4 315.4h2.4M331.8 315.4h2.4M362.0 315.4h2.4M306.1 316.4h2.4M315.4 316.4h2.4M348.1 316.4h2.4M357.4 316.4h2.4M383.0 316.4h2.4M425.0 316.4h2.4M317.8 317.4h2.4M324.8 317.4h2.4M329.4 317.4h2.4M350.4 317.4h2.4M359.7 317.4h2.4M313.1 318.4h2.4M336.4 318.4h2.4M348.1 318.4h2.4M422.6 318.4h2.4M303.8 319.4h4.7M317.8 319.4h2.4M369.0 319.4h2.4M320.1 320.4h4.7M359.7 320.4h2.4M422.6 320.4h2.4M296.8 321.4h2.4M336.4 321.4h2.4M350.4 321.4h4.7M369.0 321.4h2.4M408.6 321.4h2.4M303.8 322.4h2.4M345.7 322.4h2.4M352.7 322.4h2.4M406.3 322.4h2.4M348.1 323.4h2.4M366.7 324.4h4.7M387.7 324.4h2.4M315.4 325.4h2.4M320.1 325.4h4.7M334.1 325.4h2.4M362.0 325.4h2.4M387.7 325.4h2.4M306.1 326.3h2.4M310.8 326.3h2.4M324.8 326.3h2.4M329.4 326.3h2.4M364.4 326.3h2.4M369.0 326.3h4.7M387.7 326.3h2.4M315.4 327.3h2.4M334.1 327.3h2.4M373.7 327.3h4.7M418.0 327.3h2.4M350.4 328.3h2.4M357.4 328.3h2.4M306.1 329.3h2.4M327.1 329.3h2.4M362.0 329.3h2.4M378.4 329.3h2.4M411.0 329.3h2.4M303.8 330.3h2.4M348.1 330.3h2.4M366.7 330.3h2.4M373.7 330.3h2.4M331.8 331.3h2.4M364.4 331.3h2.4M369.0 331.3h2.4M415.6 331.3h2.4M306.1 332.3h2.4M329.4 332.3h2.4M343.4 332.3h2.4M376.0 332.3h2.4M413.3 332.3h2.4M327.1 333.3h2.4M331.8 333.3h2.4M336.4 333.3h9.4M348.1 333.3h2.4M355.1 333.3h4.7M420.3 333.3h2.4M355.1 336.1h2.4M369.0 336.1h2.4M373.7 336.1h2.4M378.4 336.1h2.4M390.0 336.1h2.4M413.3 336.1h2.4M345.7 337.1h2.4M362.0 337.1h2.4M397.0 337.1h4.7M413.3 337.1h7.0M322.4 338.1h2.4M343.4 338.1h2.4M380.7 338.1h2.4M387.7 338.1h2.4M320.1 339.1h2.4M329.4 340.1h2.4M338.7 340.1h2.4M366.7 340.1h2.4M392.3 340.1h2.4M341.1 341.1h2.4M350.4 341.1h2.4M362.0 341.1h2.4M376.0 341.1h4.7M387.7 341.1h2.4M394.7 341.1h2.4M343.4 342.1h2.4M366.7 342.1h2.4M373.7 342.1h2.4M343.4 343.1h2.4M355.1 343.1h2.4M371.4 343.1h2.4M394.7 343.1h2.4M401.7 343.1h2.4M327.1 344.0h2.4M359.7 344.0h2.4M366.7 344.0h2.4M397.0 344.0h2.4M401.7 344.0h2.4M366.7 345.0h2.4M404.0 345.0h2.4M315.4 346.0h2.4M320.1 346.0h2.4M397.0 346.0h2.4M420.3 346.0h2.4M366.7 347.0h2.4M390.0 347.0h2.4M397.0 347.0h4.7M411.0 347.0h2.4M343.4 348.0h2.4M399.3 348.0h2.4M415.6 348.0h2.4M299.1 349.0h2.4M373.7 349.0h2.4M415.6 349.0h2.4M327.1 350.0h2.4M376.0 350.0h2.4M350.4 351.0h2.4M362.0 351.0h2.4M373.7 351.0h2.4M378.4 351.0h2.4M317.8 352.0h2.4M338.7 352.0h2.4M338.7 353.0h2.4M371.4 353.0h2.4M387.7 353.0h2.4M336.4 354.0h2.4M341.1 354.0h2.4M371.4 354.0h2.4M385.3 354.0h2.4M317.8 355.0h2.4M329.4 355.0h2.4M343.4 355.0h2.4M317.8 356.0h2.4M343.4 356.0h2.4M387.7 356.0h2.4M327.1 357.0h2.4M336.4 357.0h2.4M364.4 357.9h2.4M371.4 357.9h4.7M336.4 358.9h4.7M343.4 358.9h2.4M366.7 358.9h2.4M378.4 358.9h2.4M331.8 359.9h2.4M378.4 359.9h2.4M310.8 360.9h2.4M317.8 360.9h2.4M369.0 360.9h4.7M387.7 360.9h2.4M338.7 361.9h2.4M320.1 362.9h4.7M308.5 363.9h2.4M329.4 363.9h2.4M336.4 363.9h2.4M350.4 363.9h2.4M303.8 364.9h2.4M310.8 364.9h2.4M348.1 364.9h2.4M383.0 364.9h2.4" stroke="rgb(247,230,234)" stroke-width="1.12" fill="none"/>
<path d="M299.1 223.6h4.7M317.8 223.6h2.4M338.7 223.6h2.4M364.4 223.6h2.4M387.7 223.6h2.4M313.1 224.6h2.4M385.3 224.6h4.7M301.5 225.6h2.4M310.8 225.6h2.4M327.1 225.6h2.4M334.1 225.6h4.7M345.7 225.6h2.4M313.1 226.6h2.4M331.8 226.6h2.4M364.4 226.6h2.4M378.4 226.6h2.4M415.6 226.6h2.4M331.8 227.6h2.4M362.0 227.6h4.7M383.0 227.6h2.4M301.5 228.6h2.4M327.1 228.6h2.4M369.0 228.6h2.4M320.1 229.6h2.4M331.8 229.6h2.4M357.4 229.6h4.7M329.4 230.6h2.4M373.7 230.6h4.7M380.7 230.6h2.4M413.3 230.6h2.4M308.5 231.6h2.4M317.8 231.6h2.4M331.8 231.6h2.4M364.4 231.6h2.4M371.4 231.6h2.4M299.1 232.6h2.4M338.7 232.6h2.4M343.4 232.6h2.4M355.1 232.6h4.7M364.4 232.6h2.4M387.7 232.6h2.4M394.7 232.6h2.4M404.0 232.6h2.4M320.1 233.6h2.4M324.8 233.6h4.7M334.1 233.6h2.4M343.4 233.6h2.4M359.7 233.6h2.4M376.0 233.6h4.7M301.5 234.6h2.4M329.4 234.6h2.4M364.4 234.6h2.4M338.7 235.5h2.4M352.7 235.5h2.4M383.0 235.5h4.7M303.8 236.5h2.4M310.8 236.5h4.7M334.1 236.5h2.4M345.7 236.5h2.4M313.1 237.5h2.4M317.8 237.5h2.4M338.7 237.5h2.4M420.3 237.5h4.7M348.1 238.5h2.4M357.4 238.5h2.4M425.0 238.5h2.4M313.1 239.5h2.4M425.0 239.5h2.4M310.8 240.5h2.4M320.1 241.5h2.4M329.4 241.5h2.4M359.7 241.5h2.4M324.8 242.5h2.4M329.4 242.5h2.4M408.6 242.5h2.4M331.8 243.5h2.4M352.7 243.5h2.4M376.0 243.5h2.4M296.8 244.5h2.4M313.1 244.5h2.4M320.1 244.5h2.4M348.1 244.5h2.4M352.7 244.5h2.4M359.7 244.5h2.4M364.4 244.5h2.4M373.7 244.5h2.4M380.7 244.5h2.4M357.4 245.5h2.4M411.0 245.5h2.4M320.1 246.5h2.4M406.3 249.4h2.4M343.4 251.4h2.4M359.7 251.4h2.4M329.4 252.3h2.4M334.1 252.3h2.4M431.9 252.3h4.7M383.0 253.3h2.4M336.4 254.3h2.4M380.7 257.3h2.4M378.4 259.2h4.7M387.7 260.2h2.4M322.4 261.2h2.4M390.0 261.2h2.4M352.7 262.2h2.4M380.7 264.1h2.4M383.0 265.1h4.7M385.3 266.1h2.4M327.1 268.8h2.4M334.1 268.8h2.4M348.1 268.8h2.4M364.4 268.8h4.7M371.4 268.8h2.4M406.3 268.8h2.4M324.8 269.8h2.4M331.8 269.8h2.4M350.4 269.8h2.4M371.4 269.8h2.4M322.4 270.8h2.4M331.8 270.8h2.4M345.7 270.8h2.4M362.0 270.8h2.4M366.7 270.8h2.4M378.4 270.8h2.4M387.7 270.8h2.4M418.0 270.8h2.4M362.0 271.8h2.4M392.3 271.8h2.4M317.8 272.8h2.4M341.1 272.8h4.7M364.4 272.8h2.4M408.6 272.8h2.4M418.0 272.8h2.4M315.4 273.7h2.4M345.7 273.7h2.4M366.7 273.7h4.7M385.3 273.7h4.7M413.3 273.7h2.4M425.0 273.7h2.4M317.8 274.7h2.4M341.1 274.7h2.4M357.4 274.7h2.4M378.4 274.7h2.4M383.0 274.7h2.4M394.7 274.7h2.4M296.8 275.7h2.4M315.4 275.7h2.4M320.1 275.7h2.4M329.4 275.7h2.4M343.4 275.7h2.4M362.0 275.7h2.4M380.7 275.7h2.4M406.3 275.7h2.4M415.6 275.7h2.4M296.8 276.7h4.7M322.4 276.7h2.4M329.4 276.7h2.4M338.7 276.7h2.4M343.4 276.7h2.4M359.7 276.7h2.4M418.0 276.7h2.4M329.4 277.7h2.4M369.0 277.7h2.4M392.3 277.7h4.7M408.6 277.7h2.4M413.3 277.7h2.4M425.0 277.7h2.4M324.8 278.7h2.4M334.1 278.7h2.4M383.0 278.7h2.4M390.0 278.7h4.7M406.3 278.7h2.4M301.5 279.7h2.4M313.1 279.7h2.4M317.8 279.7h2.4M336.4 279.7h2.4M343.4 279.7h2.4M394.7 279.7h2.4M406.3 279.7h2.4M418.0 279.7h2.4M301.5 280.7h2.4M308.5 280.7h2.4M336.4 280.7h4.7M376.0 280.7h2.4M387.7 280.7h2.4M324.8 281.7h2.4M334.1 281.7h2.4M348.1 281.7h2.4M376.0 281.7h2.4M385.3 281.7h4.7M359.7 282.7h2.4M369.0 282.7h2.4M376.0 282.7h2.4M413.3 282.7h2.4M296.8 283.6h4.7M306.1 283.6h2.4M310.8 283.6h2.4M315.4 283.6h2.4M322.4 283.6h2.4M334.1 283.6h2.4M338.7 283.6h2.4M369.0 283.6h4.7M392.3 283.6h2.4M345.7 284.6h2.4M357.4 284.6h2.4M364.4 284.6h4.7M373.7 284.6h2.4M413.3 284.6h2.4M306.1 285.6h4.7M313.1 285.6h2.4M324.8 285.6h2.4M387.7 285.6h2.4M296.8 286.6h2.4M324.8 286.6h2.4M329.4 286.6h4.7M336.4 286.6h7.0M422.6 286.6h2.4M317.8 287.6h2.4M348.1 287.6h2.4M401.7 287.6h4.7M369.0 288.6h2.4M306.1 289.6h2.4M320.1 289.6h4.7M345.7 289.6h2.4M352.7 289.6h2.4M301.5 290.6h4.7M320.1 290.6h2.4M327.1 290.6h2.4M373.7 290.6h4.7M399.3 290.6h2.4M415.6 290.6h4.7M313.1 291.6h2.4M331.8 291.6h4.7M348.1 291.6h2.4M359.7 291.6h2.4M387.7 291.6h2.4M401.7 291.6h2.4M406.3 291.6h2.4M418.0 291.6h2.4M327.1 292.6h2.4M348.1 292.6h2.4M352.7 292.6h2.4M390.0 292.6h2.4M399.3 292.6h2.4M411.0 292.6h2.4M415.6 292.6h2.4M331.8 293.5h2.4M336.4 293.5h2.4M348.1 293.5h2.4M369.0 293.5h2.4M373.7 293.5h2.4M387.7 293.5h2.4M394.7 293.5h4.7M401.7 293.5h2.4M418.0 293.5h2.4M296.8 294.5h2.4M310.8 294.5h2.4M331.8 294.5h2.4M343.4 294.5h2.4M348.1 294.5h2.4M376.0 294.5h2.4M387.7 294.5h2.4M315.4 295.5h2.4M334.1 295.5h2.4M373.7 295.5h2.4M413.3 295.5h2.4M301.5 296.5h2.4M313.1 296.5h2.4M320.1 296.5h4.7M327.1 296.5h4.7M350.4 296.5h2.4M301.5 297.5h2.4M331.8 297.5h2.4M350.4 297.5h2.4M378.4 297.5h2.4M408.6 297.5h2.4M331.8 300.5h2.4M345.7 300.5h2.4M357.4 300.5h2.4M362.0 300.5h2.4M373.7 300.5h2.4M385.3 300.5h2.4M320.1 301.5h2.4M331.8 301.5h2.4M355.1 301.5h4.7M366.7 301.5h2.4M387.7 301.5h2.4M317.8 302.5h2.4M322.4 302.5h2.4M327.1 302.5h2.4M348.1 302.5h2.4M366.7 302.5h2.4M371.4 302.5h2.4M380.7 302.5h2.4M387.7 302.5h2.4M418.0 302.5h2.4M310.8 303.5h2.4M324.8 303.5h2.4M362.0 303.5h4.7M387.7 303.5h2.4M415.6 303.5h2.4M296.8 304.5h2.4M306.1 304.5h2.4M310.8 304.5h2.4M320.1 304.5h2.4M331.8 304.5h2.4M364.4 304.5h2.4M415.6 304.5h2.4M306.1 305.5h2.4M310.8 305.5h7.0M322.4 305.5h2.4M385.3 305.5h2.4M306.1 306.5h2.4M331.8 306.5h2.4M348.1 306.5h4.7M378.4 306.5h2.4M306.1 307.5h2.4M343.4 307.5h2.4M357.4 307.5h4.7M369.0 307.5h4.7M378.4 307.5h2.4M387.7 307.5h2.4M338.7 308.4h2.4M343.4 308.4h2.4M385.3 308.4h2.4M420.3 308.4h2.4M296.8 309.4h2.4M306.1 309.4h2.4M322.4 309.4h2.4M334.1 309.4h2.4M371.4 309.4h2.4M296.8 310.4h2.4M310.8 310.4h2.4M352.7 310.4h4.7M378.4 310.4h2.4M343.4 311.4h4.7M425.0 311.4h2.4M308.5 312.4h2.4M324.8 312.4h9.4M341.1 312.4h2.4M371.4 312.4h2.4M420.3 312.4h2.4M308.5 313.4h2.4M324.8 313.4h2.4M350.4 313.4h2.4M366.7 313.4h2.4M406.3 313.4h2.4M345.7 314.4h2.4M352.7 314.4h2.4M406.3 314.4h2.4M306.1 315.4h2.4M322.4 315.4h2.4M364.4 315.4h2.4M406.3 315.4h2.4M411.0 315.4h2.4M324.8 316.4h2.4M376.0 316.4h2.4M385.3 316.4h2.4M301.5 317.4h2.4M306.1 317.4h2.4M320.1 317.4h2.4M352.7 317.4h4.7M369.0 317.4h2.4M322.4 318.4h4.7M350.4 318.4h2.4M420.3 318.4h2.4M425.0 318.4h2.4M329.4 319.4h4.7M364.4 319.4h4.7M373.7 319.4h2.4M420.3 319.4h2.4M310.8 320.4h2.4M315.4 320.4h2.4M369.0 320.4h2.4M376.0 320.4h2.4M425.0 320.4h2.4M322.4 321.4h7.0M359.7 321.4h7.0M387.7 321.4h2.4M415.6 321.4h2.4M362.0 322.4h2.4M408.6 322.4h2.4M299.1 323.4h2.4M303.8 323.4h2.4M313.1 323.4h2.4M320.1 323.4h2.4M324.8 323.4h2.4M387.7 323.4h2.4M418.0 323.4h2.4M306.1 324.4h2.4M362.0 324.4h4.7M338.7 325.4h2.4M359.7 325.4h2.4M320.1 326.3h2.4M376.0 326.3h2.4M383.0 326.3h2.4M415.6 326.3h2.4M301.5 327.3h2.4M322.4 327.3h2.4M327.1 327.3h2.4M348.1 327.3h2.4M355.1 327.3h2.4M371.4 327.3h2.4M308.5 328.3h2.4M336.4 328.3h2.4M348.1 328.3h2.4M355.1 328.3h2.4M364.4 328.3h2.4M371.4 328.3h2.4M383.0 328.3h2.4M299.1 329.3h2.4M303.8 329.3h2.4M313.1 329.3h2.4M369.0 329.3h2.4M296.8 330.3h2.4M329.4 330.3h2.4M352.7 330.3h2.4M369.0 330.3h2.4M376.0 330.3h2.4M383.0 330.3h2.4M366.7 331.3h2.4M387.7 331.3h2.4M296.8 332.3h2.4M320.1 332.3h2.4M324.8 332.3h2.4M348.1 332.3h2.4M364.4 332.3h2.4M371.4 332.3h2.4M378.4 332.3h2.4M324.8 333.3h2.4M364.4 333.3h2.4M371.4 333.3h2.4M376.0 333.3h2.4M336.4 336.1h2.4M357.4 336.1h2.4M399.3 336.1h4.7M317.8 337.1h2.4M322.4 337.1h2.4M343.4 337.1h2.4M350.4 337.1h2.4M401.7 337.1h4.7M425.0 337.1h2.4M324.8 338.1h2.4M329.4 338.1h4.7M338.7 338.1h2.4M362.0 338.1h2.4M366.7 338.1h2.4M371.4 338.1h2.4M327.1 339.1h2.4M345.7 339.1h2.4M362.0 339.1h2.4M373.7 339.1h2.4M392.3 339.1h4.7M301.5 340.1h4.7M317.8 340.1h2.4M331.8 340.1h2.4M371.4 340.1h2.4M383.0 340.1h4.7M336.4 341.1h2.4M329.4 342.1h2.4M383.0 342.1h2.4M320.1 343.1h2.4M341.1 343.1h2.4M359.7 343.1h2.4M378.4 343.1h2.4M385.3 343.1h2.4M308.5 344.0h2.4M317.8 344.0h2.4M324.8 344.0h2.4M329.4 344.0h2.4M338.7 344.0h4.7M345.7 344.0h4.7M362.0 344.0h2.4M392.3 344.0h2.4M399.3 344.0h2.4M343.4 345.0h2.4M373.7 345.0h2.4M399.3 345.0h2.4M303.8 346.0h2.4M327.1 346.0h2.4M371.4 346.0h2.4M371.4 347.0h2.4M378.4 348.0h2.4M392.3 348.0h2.4M413.3 348.0h2.4M418.0 348.0h2.4M315.4 349.0h2.4M327.1 349.0h2.4M338.7 349.0h2.4M387.7 349.0h2.4M413.3 349.0h2.4M322.4 350.0h2.4M338.7 350.0h2.4M348.1 350.0h2.4M359.7 350.0h4.7M303.8 351.0h2.4M336.4 351.0h2.4M343.4 351.0h2.4M371.4 351.0h2.4M306.1 352.0h2.4M329.4 352.0h2.4M336.4 352.0h2.4M357.4 352.0h2.4M369.0 352.0h2.4M331.8 353.0h4.7M348.1 353.0h2.4M359.7 353.0h2.4M376.0 353.0h2.4M315.4 354.0h2.4M320.1 354.0h2.4M338.7 354.0h2.4M359.7 354.0h2.4M350.4 355.0h2.4M364.4 355.0h4.7M371.4 355.0h2.4M334.1 356.0h2.4M338.7 356.0h2.4M345.7 357.0h2.4M373.7 357.0h2.4M338.7 357.9h2.4M359.7 358.9h2.4M369.0 358.9h2.4M383.0 358.9h2.4M422.6 358.9h2.4M320.1 359.9h2.4M362.0 359.9h2.4M371.4 359.9h2.4M306.1 360.9h2.4M315.4 360.9h2.4M322.4 360.9h2.4M327.1 360.9h2.4M334.1 360.9h4.7M345.7 360.9h2.4M345.7 361.9h2.4M376.0 361.9h2.4M317.8 362.9h2.4M324.8 362.9h2.4M329.4 362.9h2.4M338.7 362.9h2.4M343.4 363.9h2.4M334.1 364.9h2.4M338.7 364.9h2.4M387.7 364.9h2.4" stroke="rgb(248,225,222)" stroke-width="1.12" fill="none"/>
<path d="M313.1 223.6h2.4M331.8 223.6h2.4M371.4 223.6h2.4M415.6 224.6h2.4M299.1 225.6h2.4M320.1 225.6h2.4M324.8 226.6h2.4M376.0 226.6h2.4M320.1 227.6h2.4M380.7 227.6h2.4M376.0 228.6h2.4M385.3 228.6h2.4M327.1 229.6h2.4M383.0 229.6h2.4M425.0 229.6h2.4M303.8 230.6h2.4M313.1 230.6h2.4M301.5 231.6h2.4M306.1 231.6h2.4M324.8 231.6h2.4M380.7 231.6h2.4M331.8 232.6h2.4M385.3 232.6h2.4M380.7 233.6h2.4M327.1 234.6h2.4M350.4 234.6h2.4M369.0 234.6h2.4M383.0 234.6h2.4M387.7 234.6h2.4M425.0 234.6h2.4M364.4 235.5h2.4M401.7 235.5h2.4M322.4 236.5h2.4M329.4 236.5h2.4M380.7 236.5h4.7M422.6 236.5h2.4M331.8 237.5h2.4M343.4 237.5h2.4M418.0 237.5h2.4M425.0 237.5h2.4M315.4 238.5h2.4M418.0 238.5h2.4M301.5 239.5h2.4M387.7 240.5h2.4M415.6 240.5h2.4M327.1 241.5h2.4M343.4 242.5h2.4M301.5 243.5h2.4M329.4 243.5h2.4M364.4 243.5h2.4M413.3 243.5h2.4M334.1 244.5h2.4M338.7 244.5h2.4M383.0 244.5h2.4M413.3 244.5h2.4M324.8 245.5h2.4M336.4 245.5h2.4M359.7 245.5h2.4M364.4 245.5h2.4M371.4 245.5h2.4M413.3 245.5h4.7M425.0 249.4h4.7M431.9 249.4h4.7M438.9 249.4h4.7M425.0 250.4h2.4M429.6 250.4h7.0M438.9 250.4h2.4M301.5 251.4h2.4M327.1 251.4h2.4M338.7 251.4h2.4M436.6 251.4h2.4M299.1 252.3h2.4M327.1 252.3h2.4M427.3 252.3h2.4M436.6 252.3h2.4M441.3 252.3h2.4M394.7 253.3h2.4M303.8 255.3h2.4M425.0 255.3h2.4M334.1 256.3h2.4M383.0 256.3h2.4M420.3 256.3h2.4M406.3 260.2h2.4M425.0 263.2h2.4M378.4 264.1h2.4M390.0 264.1h2.4M413.3 265.1h2.4M422.6 265.1h2.4M336.4 266.1h2.4M425.0 266.1h2.4M303.8 268.8h2.4M308.5 268.8h2.4M322.4 268.8h2.4M336.4 268.8h4.7M380.7 268.8h2.4M415.6 268.8h2.4M296.8 269.8h2.4M320.1 269.8h2.4M327.1 269.8h2.4M348.1 269.8h2.4M380.7 269.8h2.4M303.8 270.8h2.4M317.8 270.8h2.4M329.4 270.8h2.4M348.1 270.8h2.4M296.8 271.8h2.4M320.1 271.8h2.4M331.8 271.8h2.4M345.7 271.8h2.4M411.0 271.8h2.4M415.6 271.8h2.4M420.3 271.8h2.4M306.1 272.8h2.4M355.1 272.8h2.4M383.0 272.8h2.4M317.8 273.7h2.4M327.1 273.7h2.4M359.7 273.7h2.4M376.0 273.7h2.4M320.1 274.7h2.4M327.1 274.7h2.4M345.7 274.7h4.7M359.7 274.7h7.0M373.7 274.7h4.7M422.6 274.7h4.7M331.8 275.7h2.4M387.7 275.7h4.7M327.1 276.7h2.4M331.8 276.7h2.4M373.7 276.7h4.7M317.8 277.7h2.4M343.4 277.7h2.4M348.1 277.7h2.4M359.7 277.7h2.4M376.0 277.7h2.4M387.7 277.7h2.4M299.1 278.7h2.4M317.8 278.7h2.4M322.4 278.7h2.4M355.1 278.7h2.4M359.7 278.7h2.4M369.0 278.7h2.4M378.4 278.7h2.4M418.0 278.7h2.4M322.4 279.7h4.7M341.1 279.7h2.4M362.0 279.7h7.0M371.4 279.7h4.7M390.0 279.7h4.7M413.3 279.7h2.4M306.1 280.7h2.4M324.8 280.7h2.4M350.4 280.7h2.4M355.1 280.7h2.4M383.0 280.7h4.7M406.3 280.7h2.4M308.5 281.7h2.4M350.4 281.7h2.4M313.1 282.7h2.4M329.4 282.7h2.4M338.7 282.7h4.7M348.1 282.7h2.4M357.4 282.7h2.4M364.4 282.7h2.4M378.4 282.7h2.4M385.3 282.7h2.4M390.0 282.7h4.7M364.4 283.6h4.7M373.7 283.6h2.4M306.1 284.6h2.4M310.8 284.6h7.0M359.7 284.6h2.4M390.0 284.6h2.4M296.8 285.6h2.4M317.8 285.6h2.4M338.7 285.6h2.4M345.7 285.6h2.4M359.7 285.6h2.4M420.3 285.6h2.4M425.0 285.6h2.4M306.1 286.6h2.4M310.8 286.6h2.4M315.4 286.6h2.4M320.1 286.6h2.4M378.4 286.6h2.4M394.7 286.6h2.4M401.7 286.6h4.7M301.5 287.6h2.4M310.8 287.6h2.4M331.8 287.6h2.4M343.4 287.6h2.4M371.4 287.6h7.0M387.7 287.6h2.4M301.5 288.6h2.4M327.1 288.6h4.7M338.7 288.6h2.4M348.1 288.6h4.7M366.7 288.6h2.4M385.3 288.6h2.4M397.0 288.6h2.4M313.1 289.6h2.4M355.1 289.6h4.7M364.4 289.6h2.4M394.7 289.6h2.4M418.0 289.6h2.4M422.6 289.6h2.4M315.4 290.6h4.7M329.4 290.6h2.4M359.7 290.6h2.4M378.4 290.6h2.4M394.7 290.6h4.7M401.7 290.6h2.4M373.7 291.6h2.4M306.1 292.6h4.7M315.4 292.6h2.4M320.1 292.6h4.7M338.7 292.6h2.4M359.7 292.6h2.4M404.0 292.6h2.4M324.8 293.5h2.4M343.4 293.5h4.7M352.7 293.5h2.4M385.3 293.5h2.4M413.3 293.5h2.4M306.1 294.5h2.4M327.1 294.5h4.7M334.1 294.5h4.7M352.7 294.5h2.4M415.6 294.5h2.4M322.4 295.5h2.4M336.4 295.5h2.4M355.1 295.5h2.4M385.3 295.5h2.4M390.0 295.5h4.7M303.8 296.5h2.4M315.4 296.5h2.4M348.1 296.5h2.4M380.7 296.5h2.4M413.3 296.5h2.4M418.0 296.5h2.4M334.1 297.5h4.7M348.1 297.5h2.4M411.0 297.5h7.0M343.4 300.5h2.4M364.4 300.5h2.4M310.8 301.5h2.4M317.8 301.5h2.4M327.1 301.5h2.4M350.4 301.5h4.7M362.0 301.5h2.4M385.3 301.5h2.4M331.8 302.5h2.4M355.1 302.5h2.4M364.4 302.5h2.4M308.5 303.5h2.4M334.1 303.5h2.4M366.7 303.5h9.4M322.4 304.5h2.4M357.4 304.5h2.4M296.8 305.5h2.4M317.8 305.5h2.4M324.8 305.5h4.7M355.1 305.5h4.7M320.1 306.5h2.4M383.0 306.5h2.4M408.6 306.5h2.4M296.8 307.5h2.4M320.1 307.5h2.4M348.1 307.5h4.7M355.1 307.5h2.4M385.3 307.5h2.4M415.6 307.5h2.4M327.1 308.4h2.4M345.7 308.4h2.4M352.7 308.4h2.4M413.3 308.4h4.7M310.8 309.4h2.4M348.1 309.4h2.4M357.4 309.4h2.4M378.4 309.4h2.4M387.7 309.4h2.4M299.1 310.4h2.4M303.8 310.4h7.0M315.4 310.4h2.4M383.0 310.4h2.4M394.7 310.4h2.4M415.6 310.4h2.4M420.3 310.4h2.4M296.8 311.4h2.4M315.4 311.4h2.4M327.1 311.4h2.4M315.4 312.4h2.4M352.7 312.4h2.4M383.0 312.4h2.4M413.3 312.4h2.4M418.0 312.4h2.4M301.5 314.4h2.4M324.8 314.4h4.7M334.1 314.4h2.4M378.4 314.4h2.4M422.6 314.4h2.4M313.1 315.4h2.4M348.1 315.4h2.4M313.1 316.4h2.4M334.1 316.4h2.4M355.1 316.4h2.4M362.0 316.4h4.7M387.7 316.4h2.4M296.8 317.4h2.4M310.8 317.4h2.4M327.1 317.4h2.4M364.4 317.4h4.7M387.7 317.4h2.4M413.3 317.4h2.4M315.4 318.4h7.0M334.1 318.4h2.4M366.7 318.4h2.4M378.4 318.4h2.4M383.0 318.4h7.0M310.8 319.4h2.4M324.8 319.4h2.4M334.1 319.4h2.4M357.4 319.4h2.4M383.0 319.4h2.4M301.5 320.4h2.4M306.1 320.4h2.4M313.1 320.4h2.4M366.7 320.4h2.4M310.8 321.4h2.4M334.1 321.4h2.4M366.7 321.4h2.4M413.3 321.4h2.4M348.1 322.4h2.4M359.7 322.4h2.4M364.4 322.4h2.4M383.0 322.4h2.4M413.3 322.4h2.4M422.6 322.4h2.4M296.8 323.4h2.4M308.5 323.4h4.7M315.4 323.4h2.4M334.1 323.4h2.4M357.4 323.4h2.4M378.4 323.4h2.4M385.3 323.4h2.4M411.0 323.4h2.4M303.8 324.4h2.4M315.4 324.4h2.4M322.4 324.4h2.4M350.4 324.4h7.0M306.1 325.4h2.4M364.4 325.4h2.4M404.0 325.4h2.4M303.8 326.3h2.4M317.8 326.3h2.4M348.1 326.3h2.4M352.7 326.3h2.4M373.7 326.3h2.4M324.8 327.3h2.4M329.4 327.3h2.4M350.4 327.3h2.4M364.4 327.3h2.4M390.0 327.3h2.4M320.1 328.3h2.4M327.1 328.3h2.4M334.1 328.3h2.4M378.4 328.3h2.4M324.8 329.3h2.4M357.4 329.3h2.4M415.6 329.3h2.4M322.4 330.3h2.4M331.8 330.3h2.4M362.0 330.3h2.4M385.3 330.3h4.7M306.1 331.3h2.4M313.1 331.3h2.4M324.8 331.3h2.4M334.1 331.3h2.4M357.4 331.3h2.4M383.0 331.3h2.4M308.5 332.3h2.4M385.3 332.3h2.4M408.6 332.3h2.4M308.5 333.3h2.4M329.4 333.3h2.4M383.0 333.3h2.4M320.1 336.1h2.4M345.7 336.1h2.4M359.7 336.1h2.4M306.1 337.1h2.4M329.4 337.1h2.4M369.0 337.1h2.4M373.7 337.1h2.4M387.7 337.1h2.4M306.1 338.1h2.4M336.4 338.1h2.4M359.7 338.1h2.4M390.0 338.1h2.4M334.1 339.1h4.7M343.4 339.1h2.4M357.4 339.1h2.4M383.0 339.1h2.4M387.7 339.1h2.4M397.0 339.1h2.4M401.7 339.1h2.4M296.8 340.1h2.4M369.0 340.1h2.4M315.4 341.1h4.7M327.1 341.1h2.4M352.7 341.1h2.4M359.7 341.1h2.4M369.0 341.1h4.7M334.1 342.1h2.4M348.1 342.1h2.4M359.7 342.1h2.4M369.0 342.1h2.4M378.4 342.1h2.4M334.1 343.1h2.4M331.8 344.0h2.4M352.7 344.0h2.4M364.4 344.0h2.4M373.7 344.0h2.4M385.3 344.0h2.4M327.1 345.0h2.4M331.8 345.0h2.4M341.1 345.0h2.4M362.0 345.0h2.4M376.0 345.0h2.4M387.7 345.0h2.4M392.3 345.0h2.4M317.8 346.0h2.4M352.7 346.0h2.4M390.0 346.0h4.7M322.4 347.0h2.4M338.7 347.0h2.4M380.7 347.0h4.7M317.8 348.0h2.4M336.4 348.0h2.4M350.4 348.0h2.4M371.4 348.0h2.4M394.7 348.0h2.4M408.6 348.0h2.4M296.8 349.0h2.4M322.4 349.0h2.4M334.1 349.0h2.4M348.1 349.0h2.4M359.7 349.0h2.4M371.4 349.0h2.4M378.4 349.0h2.4M299.1 350.0h2.4M341.1 350.0h2.4M371.4 350.0h2.4M355.1 351.0h2.4M387.7 351.0h2.4M341.1 352.0h2.4M371.4 352.0h2.4M296.8 353.0h2.4M303.8 353.0h2.4M324.8 353.0h2.4M385.3 353.0h2.4M317.8 354.0h2.4M322.4 354.0h2.4M343.4 354.0h2.4M348.1 354.0h2.4M369.0 354.0h2.4M303.8 355.0h4.7M315.4 355.0h2.4M348.1 355.0h2.4M369.0 355.0h2.4M378.4 355.0h2.4M387.7 355.0h2.4M320.1 356.0h2.4M345.7 356.0h2.4M364.4 356.0h2.4M378.4 356.0h7.0M315.4 357.0h2.4M338.7 357.0h4.7M350.4 357.0h2.4M366.7 357.0h2.4M371.4 357.0h2.4M322.4 357.9h2.4M329.4 357.9h2.4M387.7 357.9h2.4M317.8 358.9h2.4M341.1 358.9h2.4M348.1 358.9h2.4M329.4 359.9h2.4M336.4 359.9h7.0M387.7 359.9h2.4M308.5 360.9h2.4M324.8 360.9h2.4M348.1 360.9h4.7M364.4 360.9h2.4M322.4 361.9h2.4M373.7 361.9h2.4M336.4 362.9h2.4M343.4 362.9h2.4M352.7 362.9h2.4M366.7 362.9h2.4M371.4 362.9h2.4M376.0 362.9h2.4M320.1 363.9h2.4M331.8 363.9h4.7M387.7 363.9h2.4M306.1 364.9h4.7M313.1 364.9h2.4M322.4 364.9h2.4M327.1 364.9h2.4M362.0 364.9h2.4" stroke="rgb(249,219,210)" stroke-width="1.12" fill="none"/>
<path d="M324.8 223.6h4.7M352.7 223.6h2.4M359.7 223.6h2.4M380.7 223.6h2.4M322.4 224.6h2.4M329.4 224.6h2.4M334.1 224.6h2.4M329.4 227.6h2.4M336.4 228.6h2.4M301.5 230.6h2.4M315.4 230.6h2.4M331.8 230.6h2.4M334.1 232.6h2.4M345.7 232.6h2.4M373.7 232.6h2.4M380.7 232.6h2.4M415.6 232.6h4.7M324.8 236.5h2.4M301.5 237.5h2.4M322.4 237.5h2.4M380.7 237.5h2.4M327.1 238.5h2.4M350.4 238.5h2.4M380.7 238.5h2.4M327.1 239.5h2.4M324.8 241.5h2.4M308.5 243.5h2.4M334.1 243.5h2.4M383.0 243.5h2.4M387.7 243.5h2.4M322.4 244.5h2.4M329.4 244.5h2.4M343.4 244.5h2.4M385.3 244.5h2.4M422.6 250.4h2.4M431.9 251.4h4.7M438.9 251.4h4.7M429.6 252.3h2.4M327.1 253.3h2.4M380.7 253.3h2.4M380.7 258.2h4.7M385.3 259.2h2.4M420.3 265.1h2.4M296.8 268.8h2.4M345.7 268.8h2.4M350.4 268.8h2.4M383.0 268.8h4.7M390.0 268.8h2.4M394.7 268.8h2.4M299.1 269.8h7.0M308.5 269.8h4.7M394.7 269.8h2.4M406.3 269.8h2.4M299.1 270.8h4.7M306.1 270.8h2.4M313.1 270.8h4.7M343.4 270.8h2.4M380.7 270.8h4.7M411.0 270.8h2.4M299.1 271.8h2.4M303.8 271.8h4.7M317.8 271.8h2.4M352.7 271.8h2.4M385.3 271.8h2.4M327.1 272.8h2.4M334.1 272.8h4.7M345.7 272.8h2.4M357.4 272.8h2.4M385.3 272.8h2.4M301.5 273.7h2.4M320.1 273.7h2.4M343.4 273.7h2.4M357.4 273.7h2.4M364.4 273.7h2.4M371.4 273.7h2.4M406.3 273.7h2.4M301.5 274.7h2.4M313.1 274.7h2.4M322.4 274.7h2.4M355.1 274.7h2.4M387.7 274.7h2.4M406.3 274.7h2.4M322.4 275.7h2.4M327.1 275.7h2.4M366.7 275.7h2.4M418.0 275.7h2.4M306.1 276.7h2.4M315.4 276.7h2.4M324.8 276.7h2.4M348.1 276.7h2.4M380.7 276.7h4.7M390.0 276.7h2.4M406.3 276.7h2.4M299.1 277.7h2.4M320.1 277.7h2.4M324.8 277.7h2.4M331.8 277.7h2.4M350.4 277.7h2.4M355.1 277.7h2.4M362.0 277.7h2.4M390.0 277.7h2.4M420.3 277.7h2.4M352.7 278.7h2.4M371.4 278.7h2.4M376.0 278.7h2.4M385.3 278.7h2.4M411.0 278.7h2.4M378.4 279.7h2.4M408.6 279.7h2.4M422.6 279.7h2.4M334.1 280.7h2.4M359.7 280.7h2.4M378.4 280.7h2.4M418.0 280.7h2.4M303.8 281.7h2.4M315.4 281.7h2.4M357.4 281.7h2.4M380.7 281.7h2.4M296.8 282.7h2.4M306.1 282.7h2.4M350.4 282.7h4.7M394.7 282.7h2.4M418.0 282.7h2.4M301.5 283.6h2.4M313.1 283.6h2.4M320.1 283.6h2.4M324.8 283.6h2.4M352.7 283.6h2.4M359.7 283.6h2.4M387.7 283.6h2.4M299.1 284.6h2.4M308.5 284.6h2.4M317.8 284.6h2.4M322.4 284.6h2.4M329.4 284.6h2.4M348.1 284.6h4.7M355.1 284.6h2.4M371.4 284.6h2.4M385.3 284.6h2.4M394.7 284.6h2.4M336.4 285.6h2.4M378.4 285.6h2.4M390.0 285.6h7.0M418.0 285.6h2.4M422.6 285.6h2.4M299.1 286.6h2.4M308.5 286.6h2.4M348.1 286.6h2.4M352.7 286.6h2.4M413.3 286.6h2.4M299.1 287.6h2.4M308.5 287.6h2.4M327.1 287.6h2.4M366.7 287.6h2.4M380.7 287.6h2.4M392.3 287.6h4.7M296.8 288.6h4.7M322.4 288.6h2.4M334.1 288.6h2.4M364.4 288.6h2.4M399.3 288.6h2.4M404.0 288.6h2.4M299.1 289.6h2.4M390.0 289.6h4.7M310.8 290.6h2.4M334.1 290.6h2.4M404.0 290.6h2.4M306.1 291.6h2.4M327.1 291.6h2.4M352.7 291.6h2.4M369.0 291.6h2.4M378.4 291.6h2.4M383.0 291.6h2.4M390.0 291.6h2.4M296.8 292.6h2.4M301.5 292.6h2.4M310.8 292.6h2.4M324.8 292.6h2.4M373.7 292.6h2.4M383.0 292.6h4.7M329.4 293.5h2.4M334.1 293.5h2.4M376.0 293.5h2.4M392.3 293.5h2.4M408.6 293.5h2.4M301.5 294.5h2.4M313.1 294.5h7.0M324.8 294.5h2.4M341.1 294.5h2.4M350.4 294.5h2.4M357.4 294.5h2.4M385.3 294.5h2.4M392.3 294.5h4.7M408.6 294.5h2.4M301.5 295.5h2.4M306.1 295.5h2.4M331.8 295.5h2.4M364.4 295.5h2.4M376.0 295.5h2.4M380.7 295.5h2.4M387.7 295.5h2.4M415.6 295.5h2.4M308.5 296.5h2.4M324.8 296.5h2.4M355.1 296.5h2.4M359.7 296.5h2.4M371.4 296.5h2.4M415.6 296.5h2.4M296.8 297.5h2.4M303.8 297.5h4.7M315.4 297.5h4.7M338.7 297.5h2.4M352.7 297.5h2.4M371.4 297.5h4.7M406.3 297.5h2.4M317.8 300.5h2.4M338.7 300.5h2.4M348.1 300.5h2.4M352.7 300.5h2.4M359.7 300.5h2.4M315.4 301.5h2.4M334.1 301.5h2.4M369.0 301.5h2.4M378.4 301.5h2.4M383.0 301.5h2.4M338.7 302.5h2.4M350.4 302.5h2.4M359.7 302.5h2.4M385.3 302.5h2.4M317.8 303.5h2.4M327.1 303.5h2.4M348.1 303.5h2.4M357.4 303.5h2.4M422.6 303.5h2.4M315.4 304.5h2.4M348.1 304.5h2.4M352.7 304.5h2.4M406.3 304.5h2.4M413.3 304.5h2.4M299.1 305.5h2.4M308.5 305.5h2.4M387.7 305.5h2.4M411.0 305.5h2.4M299.1 306.5h7.0M310.8 306.5h4.7M322.4 306.5h2.4M357.4 306.5h2.4M387.7 306.5h2.4M313.1 307.5h2.4M322.4 307.5h2.4M352.7 307.5h2.4M413.3 307.5h2.4M317.8 308.4h2.4M364.4 308.4h2.4M373.7 308.4h2.4M387.7 308.4h2.4M299.1 309.4h2.4M303.8 309.4h2.4M315.4 309.4h2.4M401.7 309.4h2.4M313.1 310.4h2.4M348.1 310.4h4.7M380.7 310.4h2.4M411.0 310.4h2.4M331.8 311.4h2.4M371.4 311.4h2.4M387.7 311.4h2.4M413.3 311.4h2.4M306.1 312.4h2.4M310.8 312.4h2.4M355.1 312.4h4.7M373.7 312.4h2.4M390.0 312.4h2.4M296.8 313.4h4.7M310.8 313.4h2.4M378.4 313.4h4.7M310.8 314.4h2.4M317.8 314.4h2.4M364.4 314.4h2.4M299.1 315.4h2.4M352.7 315.4h4.7M378.4 315.4h2.4M387.7 315.4h2.4M413.3 315.4h2.4M296.8 316.4h4.7M303.8 317.4h2.4M348.1 317.4h2.4M373.7 317.4h2.4M385.3 317.4h2.4M406.3 317.4h2.4M296.8 318.4h2.4M327.1 318.4h2.4M331.8 318.4h2.4M413.3 318.4h2.4M315.4 319.4h2.4M355.1 319.4h2.4M376.0 319.4h2.4M380.7 319.4h2.4M385.3 319.4h4.7M411.0 319.4h2.4M415.6 319.4h2.4M308.5 320.4h2.4M348.1 320.4h2.4M373.7 320.4h2.4M378.4 320.4h2.4M387.7 320.4h2.4M299.1 321.4h2.4M299.1 322.4h2.4M313.1 322.4h2.4M327.1 322.4h2.4M355.1 322.4h2.4M306.1 323.4h2.4M327.1 323.4h4.7M355.1 323.4h2.4M383.0 323.4h2.4M296.8 324.4h2.4M308.5 324.4h4.7M324.8 324.4h2.4M357.4 324.4h2.4M373.7 324.4h2.4M310.8 325.4h2.4M324.8 325.4h2.4M329.4 325.4h2.4M350.4 325.4h2.4M355.1 325.4h2.4M296.8 326.3h2.4M350.4 326.3h2.4M359.7 326.3h2.4M366.7 326.3h2.4M308.5 327.3h2.4M359.7 327.3h2.4M413.3 327.3h2.4M310.8 328.3h2.4M329.4 328.3h2.4M352.7 328.3h2.4M308.5 329.3h2.4M320.1 329.3h4.7M331.8 329.3h2.4M348.1 329.3h4.7M364.4 329.3h2.4M406.3 329.3h2.4M418.0 329.3h2.4M306.1 330.3h4.7M392.3 330.3h2.4M413.3 330.3h4.7M322.4 331.3h2.4M329.4 331.3h2.4M378.4 331.3h4.7M408.6 331.3h2.4M313.1 332.3h2.4M322.4 332.3h2.4M357.4 332.3h2.4M362.0 332.3h2.4M387.7 332.3h2.4M406.3 332.3h2.4M418.0 332.3h2.4M306.1 333.3h2.4M313.1 333.3h2.4M322.4 333.3h2.4M345.7 333.3h2.4M359.7 333.3h4.7M413.3 333.3h4.7M329.4 336.1h4.7M341.1 336.1h2.4M352.7 336.1h2.4M334.1 337.1h2.4M385.3 337.1h2.4M392.3 337.1h2.4M301.5 338.1h4.7M308.5 338.1h2.4M317.8 338.1h2.4M355.1 338.1h2.4M369.0 338.1h2.4M378.4 338.1h2.4M315.4 339.1h4.7M322.4 339.1h2.4M338.7 339.1h2.4M366.7 339.1h7.0M378.4 339.1h2.4M385.3 339.1h2.4M399.3 339.1h2.4M404.0 339.1h2.4M322.4 340.1h2.4M327.1 340.1h2.4M334.1 340.1h4.7M345.7 340.1h2.4M352.7 340.1h2.4M362.0 340.1h2.4M376.0 340.1h2.4M380.7 340.1h2.4M320.1 341.1h2.4M338.7 341.1h2.4M343.4 341.1h2.4M364.4 341.1h2.4M380.7 341.1h2.4M299.1 342.1h2.4M324.8 342.1h2.4M331.8 342.1h2.4M336.4 342.1h2.4M341.1 342.1h2.4M350.4 342.1h4.7M371.4 342.1h2.4M380.7 342.1h2.4M308.5 343.1h4.7M322.4 343.1h2.4M364.4 343.1h2.4M369.0 343.1h2.4M383.0 343.1h2.4M306.1 344.0h2.4M315.4 344.0h2.4M350.4 344.0h2.4M355.1 344.0h2.4M371.4 344.0h2.4M383.0 344.0h2.4M303.8 345.0h2.4M310.8 345.0h2.4M329.4 345.0h2.4M345.7 345.0h2.4M355.1 345.0h2.4M299.1 346.0h2.4M308.5 346.0h4.7M334.1 346.0h2.4M341.1 346.0h7.0M364.4 346.0h4.7M373.7 346.0h2.4M317.8 347.0h2.4M341.1 347.0h2.4M359.7 347.0h2.4M324.8 348.0h2.4M331.8 348.0h2.4M338.7 348.0h4.7M303.8 349.0h2.4M317.8 349.0h2.4M324.8 349.0h2.4M357.4 349.0h2.4M383.0 349.0h2.4M301.5 350.0h2.4M306.1 350.0h2.4M315.4 350.0h2.4M336.4 350.0h2.4M366.7 350.0h4.7M378.4 350.0h2.4M317.8 351.0h4.7M327.1 351.0h2.4M352.7 351.0h2.4M385.3 351.0h2.4M315.4 352.0h2.4M327.1 352.0h2.4M362.0 352.0h2.4M301.5 353.0h2.4M308.5 353.0h7.0M327.1 353.0h2.4M350.4 353.0h4.7M369.0 353.0h2.4M378.4 353.0h2.4M350.4 354.0h2.4M355.1 354.0h2.4M366.7 354.0h2.4M383.0 354.0h2.4M308.5 355.0h2.4M327.1 355.0h2.4M383.0 355.0h2.4M322.4 356.0h2.4M327.1 356.0h2.4M350.4 356.0h2.4M366.7 356.0h4.7M317.8 357.0h2.4M322.4 357.0h2.4M329.4 357.0h2.4M369.0 357.0h2.4M385.3 357.0h2.4M320.1 357.9h2.4M343.4 357.9h2.4M355.1 357.9h2.4M359.7 357.9h4.7M366.7 357.9h2.4M371.4 358.9h2.4M327.1 359.9h2.4M357.4 359.9h2.4M369.0 359.9h2.4M383.0 359.9h4.7M296.8 360.9h2.4M303.8 360.9h2.4M329.4 360.9h2.4M366.7 360.9h2.4M380.7 360.9h2.4M327.1 361.9h4.7M343.4 361.9h2.4M348.1 361.9h2.4M355.1 361.9h2.4M359.7 361.9h2.4M366.7 361.9h2.4M296.8 362.9h2.4M306.1 362.9h2.4M369.0 362.9h2.4M378.4 362.9h2.4M299.1 363.9h2.4M315.4 363.9h2.4M322.4 363.9h2.4M327.1 363.9h2.4M364.4 363.9h4.7M371.4 363.9h2.4M355.1 364.9h2.4M369.0 364.9h2.4M378.4 364.9h2.4" stroke="rgb(250,213,198)" stroke-width="1.12" fill="none"/>
<path d="M315.4 223.6h2.4M327.1 224.6h2.4M408.6 224.6h2.4M350.4 226.6h2.4M380.7 226.6h2.4M327.1 230.6h2.4M329.4 232.6h2.4M331.8 233.6h2.4M385.3 236.5h2.4M329.4 237.5h2.4M334.1 242.5h2.4M380.7 242.5h2.4M313.1 243.5h2.4M327.1 243.5h2.4M422.6 243.5h2.4M324.8 244.5h4.7M331.8 244.5h2.4M313.1 245.5h2.4M394.7 249.4h4.7M413.3 249.4h2.4M429.6 249.4h2.4M404.0 250.4h2.4M427.3 250.4h2.4M436.6 250.4h2.4M441.3 250.4h2.4M413.3 251.4h2.4M422.6 251.4h2.4M427.3 251.4h2.4M438.9 252.3h2.4M420.3 255.3h4.7M401.7 256.3h2.4M394.7 257.3h2.4M397.0 261.2h2.4M397.0 262.2h2.4M401.7 262.2h2.4M401.7 263.2h2.4M422.6 266.1h2.4M306.1 268.8h2.4M329.4 268.8h2.4M343.4 268.8h2.4M352.7 268.8h7.0M378.4 268.8h2.4M313.1 269.8h2.4M352.7 269.8h2.4M369.0 269.8h2.4M378.4 269.8h2.4M383.0 269.8h2.4M415.6 269.8h2.4M296.8 270.8h2.4M406.3 270.8h2.4M310.8 271.8h2.4M380.7 271.8h2.4M406.3 271.8h2.4M413.3 271.8h2.4M301.5 272.8h2.4M320.1 272.8h2.4M331.8 272.8h2.4M331.8 273.7h2.4M348.1 273.7h2.4M383.0 273.7h2.4M392.3 273.7h2.4M415.6 273.7h2.4M299.1 274.7h2.4M308.5 274.7h2.4M408.6 274.7h2.4M301.5 275.7h2.4M350.4 275.7h2.4M376.0 275.7h2.4M385.3 275.7h2.4M392.3 275.7h4.7M310.8 276.7h4.7M334.1 276.7h2.4M350.4 276.7h2.4M355.1 276.7h2.4M392.3 276.7h4.7M408.6 276.7h2.4M413.3 276.7h2.4M327.1 277.7h2.4M378.4 277.7h2.4M406.3 277.7h2.4M301.5 278.7h2.4M350.4 278.7h2.4M357.4 278.7h2.4M364.4 278.7h2.4M299.1 279.7h2.4M303.8 279.7h2.4M350.4 279.7h2.4M355.1 279.7h2.4M299.1 280.7h2.4M352.7 280.7h2.4M373.7 280.7h2.4M380.7 280.7h2.4M413.3 280.7h2.4M301.5 281.7h2.4M322.4 281.7h2.4M303.8 282.7h2.4M324.8 282.7h2.4M380.7 282.7h4.7M387.7 282.7h2.4M308.5 283.6h2.4M355.1 283.6h2.4M324.8 284.6h2.4M334.1 284.6h2.4M352.7 284.6h2.4M378.4 284.6h2.4M383.0 284.6h2.4M315.4 285.6h2.4M334.1 285.6h2.4M371.4 285.6h2.4M322.4 286.6h2.4M359.7 286.6h2.4M418.0 286.6h2.4M296.8 287.6h2.4M303.8 287.6h2.4M313.1 287.6h2.4M324.8 287.6h2.4M334.1 287.6h2.4M310.8 288.6h2.4M383.0 288.6h2.4M301.5 289.6h2.4M308.5 289.6h2.4M329.4 289.6h2.4M336.4 289.6h2.4M380.7 289.6h4.7M308.5 290.6h2.4M313.1 290.6h2.4M348.1 290.6h2.4M355.1 290.6h2.4M406.3 290.6h7.0M299.1 291.6h4.7M350.4 291.6h2.4M303.8 292.6h2.4M355.1 292.6h4.7M376.0 292.6h2.4M392.3 292.6h2.4M406.3 292.6h2.4M301.5 293.5h2.4M306.1 293.5h2.4M327.1 293.5h2.4M359.7 293.5h2.4M378.4 293.5h4.7M390.0 293.5h2.4M399.3 293.5h2.4M411.0 293.5h2.4M303.8 294.5h2.4M308.5 294.5h2.4M397.0 294.5h4.7M303.8 295.5h2.4M308.5 295.5h2.4M348.1 295.5h2.4M352.7 295.5h2.4M378.4 295.5h2.4M383.0 295.5h2.4M406.3 295.5h2.4M411.0 295.5h2.4M418.0 295.5h2.4M296.8 296.5h2.4M308.5 297.5h2.4M320.1 297.5h2.4M357.4 297.5h2.4M376.0 297.5h2.4M383.0 297.5h4.7M320.1 300.5h2.4M334.1 300.5h2.4M366.7 300.5h2.4M380.7 301.5h2.4M301.5 302.5h2.4M315.4 302.5h2.4M369.0 302.5h2.4M399.3 302.5h2.4M299.1 303.5h2.4M303.8 303.5h4.7M315.4 303.5h2.4M320.1 303.5h2.4M350.4 303.5h2.4M378.4 303.5h2.4M383.0 303.5h2.4M425.0 303.5h2.4M301.5 304.5h2.4M308.5 304.5h2.4M313.1 304.5h2.4M383.0 304.5h2.4M401.7 304.5h2.4M352.7 305.5h2.4M380.7 305.5h2.4M408.6 305.5h2.4M308.5 306.5h2.4M385.3 306.5h2.4M310.8 307.5h2.4M380.7 307.5h2.4M390.0 307.5h2.4M408.6 307.5h2.4M308.5 308.4h2.4M315.4 308.4h2.4M329.4 308.4h4.7M355.1 308.4h2.4M406.3 308.4h2.4M308.5 309.4h2.4M324.8 309.4h2.4M399.3 309.4h2.4M408.6 309.4h2.4M418.0 310.4h2.4M317.8 311.4h2.4M329.4 311.4h2.4M334.1 311.4h4.7M385.3 311.4h2.4M303.8 312.4h2.4M334.1 312.4h2.4M378.4 312.4h2.4M408.6 312.4h2.4M415.6 312.4h2.4M306.1 313.4h2.4M327.1 313.4h2.4M334.1 313.4h2.4M359.7 313.4h2.4M411.0 313.4h2.4M415.6 313.4h2.4M299.1 314.4h2.4M313.1 314.4h2.4M348.1 314.4h4.7M383.0 314.4h2.4M408.6 314.4h4.7M296.8 315.4h2.4M303.8 315.4h2.4M350.4 315.4h2.4M359.7 315.4h2.4M369.0 315.4h2.4M380.7 315.4h2.4M385.3 315.4h2.4M415.6 315.4h2.4M308.5 316.4h2.4M320.1 316.4h2.4M399.3 316.4h2.4M404.0 316.4h2.4M415.6 316.4h4.7M408.6 317.4h2.4M352.7 318.4h2.4M308.5 319.4h2.4M320.1 319.4h2.4M348.1 319.4h2.4M352.7 319.4h2.4M399.3 319.4h2.4M406.3 319.4h2.4M296.8 320.4h2.4M303.8 320.4h2.4M324.8 320.4h2.4M350.4 320.4h2.4M355.1 320.4h2.4M411.0 320.4h2.4M415.6 320.4h2.4M303.8 321.4h2.4M308.5 321.4h2.4M355.1 321.4h2.4M378.4 321.4h4.7M385.3 321.4h2.4M406.3 321.4h2.4M310.8 322.4h2.4M387.7 322.4h2.4M411.0 322.4h2.4M380.7 323.4h2.4M408.6 323.4h2.4M313.1 324.4h2.4M413.3 324.4h2.4M303.8 325.4h2.4M378.4 325.4h2.4M383.0 325.4h2.4M411.0 325.4h2.4M415.6 325.4h2.4M301.5 326.3h2.4M315.4 326.3h2.4M322.4 326.3h2.4M327.1 326.3h2.4M334.1 326.3h2.4M357.4 326.3h2.4M385.3 326.3h2.4M413.3 326.3h2.4M299.1 327.3h2.4M357.4 327.3h2.4M362.0 327.3h2.4M387.7 327.3h2.4M406.3 327.3h2.4M415.6 327.3h2.4M303.8 328.3h4.7M317.8 328.3h2.4M322.4 328.3h2.4M415.6 328.3h2.4M301.5 329.3h2.4M366.7 329.3h2.4M383.0 329.3h2.4M387.7 329.3h2.4M408.6 329.3h2.4M301.5 330.3h2.4M310.8 330.3h4.7M334.1 330.3h2.4M357.4 330.3h2.4M378.4 330.3h4.7M308.5 331.3h4.7M355.1 331.3h2.4M404.0 331.3h2.4M413.3 331.3h2.4M418.0 331.3h2.4M299.1 332.3h2.4M315.4 332.3h2.4M350.4 332.3h2.4M404.0 332.3h2.4M334.1 333.3h2.4M352.7 333.3h2.4M385.3 333.3h2.4M404.0 333.3h2.4M418.0 333.3h2.4M338.7 336.1h2.4M348.1 336.1h2.4M364.4 336.1h2.4M385.3 336.1h2.4M303.8 337.1h2.4M338.7 337.1h2.4M348.1 337.1h2.4M355.1 337.1h2.4M378.4 337.1h2.4M327.1 338.1h2.4M364.4 338.1h2.4M383.0 338.1h4.7M299.1 340.1h2.4M306.1 340.1h4.7M313.1 340.1h2.4M350.4 340.1h2.4M364.4 340.1h2.4M310.8 341.1h2.4M322.4 341.1h2.4M366.7 341.1h2.4M385.3 341.1h2.4M397.0 341.1h2.4M303.8 342.1h2.4M308.5 342.1h2.4M320.1 342.1h4.7M327.1 342.1h2.4M338.7 342.1h2.4M364.4 342.1h2.4M387.7 342.1h2.4M324.8 343.1h2.4M338.7 343.1h2.4M380.7 343.1h2.4M296.8 344.0h2.4M313.1 344.0h2.4M322.4 344.0h2.4M378.4 344.0h2.4M387.7 344.0h2.4M301.5 345.0h2.4M320.1 345.0h4.7M352.7 345.0h2.4M369.0 345.0h2.4M390.0 345.0h2.4M301.5 346.0h2.4M313.1 346.0h2.4M322.4 346.0h2.4M336.4 346.0h2.4M348.1 346.0h2.4M362.0 346.0h2.4M369.0 346.0h2.4M385.3 346.0h4.7M399.3 346.0h2.4M324.8 347.0h2.4M343.4 347.0h2.4M364.4 347.0h2.4M320.1 348.0h4.7M348.1 348.0h2.4M359.7 348.0h4.7M369.0 348.0h2.4M387.7 348.0h2.4M308.5 349.0h7.0M369.0 349.0h2.4M380.7 349.0h2.4M385.3 349.0h2.4M303.8 350.0h2.4M308.5 350.0h2.4M313.1 350.0h2.4M317.8 350.0h4.7M324.8 350.0h2.4M334.1 350.0h2.4M345.7 350.0h2.4M385.3 350.0h2.4M313.1 351.0h4.7M357.4 351.0h4.7M369.0 351.0h2.4M320.1 352.0h2.4M343.4 352.0h4.7M352.7 352.0h2.4M383.0 352.0h2.4M315.4 353.0h2.4M355.1 353.0h2.4M364.4 353.0h4.7M296.8 354.0h2.4M308.5 354.0h2.4M324.8 354.0h2.4M331.8 354.0h2.4M296.8 355.0h2.4M320.1 355.0h2.4M359.7 355.0h2.4M296.8 356.0h4.7M310.8 356.0h4.7M341.1 356.0h2.4M359.7 356.0h4.7M373.7 356.0h2.4M385.3 356.0h2.4M348.1 357.0h2.4M352.7 357.0h2.4M383.0 357.0h2.4M303.8 357.9h2.4M331.8 357.9h4.7M350.4 357.9h2.4M357.4 357.9h2.4M369.0 357.9h2.4M380.7 357.9h2.4M385.3 357.9h2.4M322.4 358.9h2.4M331.8 358.9h2.4M364.4 358.9h2.4M366.7 359.9h2.4M380.7 359.9h2.4M355.1 360.9h2.4M359.7 360.9h2.4M383.0 360.9h2.4M315.4 361.9h2.4M331.8 361.9h2.4M336.4 361.9h2.4M383.0 361.9h2.4M315.4 362.9h2.4M327.1 362.9h2.4M355.1 362.9h2.4M364.4 362.9h2.4M387.7 362.9h2.4M306.1 363.9h2.4M362.0 363.9h2.4M299.1 364.9h4.7M364.4 364.9h4.7M380.7 364.9h2.4" stroke="rgb(249,203,183)" stroke-width="1.12" fill="none"/>
<path d="M380.7 229.6h2.4M431.9 234.6h2.4M380.7 235.5h2.4M327.1 240.5h2.4M327.1 242.5h2.4M336.4 243.5h2.4M441.3 243.5h2.4M376.0 244.5h2.4M327.1 245.5h2.4M331.8 245.5h2.4M429.6 246.5h2.4M434.3 246.5h2.4M408.6 249.4h2.4M324.8 251.4h2.4M399.3 251.4h2.4M411.0 251.4h2.4M420.3 251.4h2.4M390.0 252.3h7.0M415.6 252.3h2.4M399.3 253.3h4.7M422.6 253.3h2.4M394.7 256.3h2.4M425.0 256.3h2.4M390.0 257.3h2.4M422.6 257.3h2.4M420.3 259.2h2.4M394.7 261.2h2.4M399.3 261.2h2.4M425.0 261.2h2.4M411.0 262.2h2.4M411.0 263.2h2.4M422.6 263.2h2.4M418.0 264.1h2.4M401.7 265.1h2.4M408.6 266.1h2.4M418.0 266.1h4.7M320.1 268.8h2.4M418.0 268.8h2.4M357.4 269.8h2.4M364.4 269.8h2.4M385.3 269.8h4.7M324.8 270.8h2.4M355.1 270.8h4.7M392.3 270.8h2.4M408.6 270.8h2.4M308.5 271.8h2.4M322.4 271.8h7.0M334.1 271.8h2.4M350.4 271.8h2.4M357.4 271.8h2.4M299.1 272.8h2.4M308.5 272.8h2.4M380.7 272.8h2.4M296.8 273.7h2.4M306.1 273.7h7.0M334.1 273.7h2.4M352.7 273.7h2.4M378.4 273.7h2.4M394.7 273.7h2.4M411.0 273.7h2.4M306.1 274.7h2.4M324.8 274.7h2.4M352.7 274.7h2.4M392.3 274.7h2.4M299.1 275.7h2.4M308.5 275.7h4.7M324.8 275.7h2.4M359.7 275.7h2.4M373.7 275.7h2.4M411.0 275.7h2.4M385.3 276.7h2.4M308.5 277.7h2.4M322.4 277.7h2.4M334.1 277.7h4.7M345.7 277.7h2.4M357.4 277.7h2.4M303.8 278.7h2.4M327.1 278.7h2.4M348.1 278.7h2.4M306.1 279.7h2.4M315.4 279.7h2.4M327.1 279.7h2.4M359.7 279.7h2.4M376.0 279.7h2.4M303.8 280.7h2.4M320.1 280.7h2.4M310.8 281.7h2.4M383.0 281.7h2.4M310.8 282.7h2.4M315.4 282.7h2.4M322.4 282.7h2.4M327.1 282.7h2.4M385.3 283.6h2.4M413.3 283.6h2.4M303.8 284.6h2.4M320.1 284.6h2.4M380.7 284.6h2.4M303.8 285.6h2.4M320.1 285.6h4.7M301.5 286.6h2.4M345.7 286.6h2.4M350.4 286.6h2.4M357.4 286.6h2.4M385.3 286.6h2.4M397.0 286.6h2.4M336.4 287.6h2.4M352.7 287.6h2.4M359.7 287.6h2.4M390.0 287.6h2.4M413.3 287.6h2.4M418.0 287.6h2.4M303.8 288.6h2.4M350.4 289.6h2.4M385.3 289.6h2.4M415.6 289.6h2.4M364.4 290.6h2.4M385.3 290.6h2.4M392.3 290.6h2.4M413.3 290.6h2.4M329.4 291.6h2.4M380.7 291.6h2.4M392.3 291.6h2.4M411.0 291.6h2.4M299.1 292.6h2.4M313.1 292.6h2.4M364.4 292.6h2.4M394.7 292.6h2.4M303.8 293.5h2.4M357.4 293.5h2.4M415.6 293.5h2.4M413.3 294.5h2.4M299.1 295.5h2.4M310.8 295.5h2.4M324.8 295.5h2.4M350.4 295.5h2.4M343.4 296.5h2.4M373.7 296.5h2.4M411.0 296.5h2.4M313.1 297.5h2.4M355.1 297.5h2.4M296.8 300.5h2.4M303.8 300.5h2.4M315.4 300.5h2.4M322.4 300.5h4.7M378.4 300.5h2.4M383.0 300.5h2.4M296.8 301.5h2.4M301.5 301.5h2.4M359.7 301.5h2.4M303.8 302.5h2.4M308.5 302.5h7.0M320.1 302.5h2.4M324.8 302.5h2.4M357.4 302.5h2.4M397.0 302.5h2.4M296.8 303.5h2.4M322.4 303.5h2.4M359.7 303.5h2.4M406.3 303.5h2.4M418.0 304.5h2.4M301.5 305.5h4.7M390.0 305.5h2.4M418.0 305.5h2.4M359.7 306.5h2.4M406.3 306.5h2.4M303.8 307.5h2.4M308.5 307.5h2.4M383.0 307.5h2.4M301.5 308.4h2.4M306.1 308.4h2.4M369.0 308.4h2.4M401.7 308.4h2.4M408.6 308.4h2.4M418.0 308.4h2.4M380.7 309.4h2.4M357.4 310.4h2.4M385.3 310.4h2.4M406.3 310.4h2.4M350.4 311.4h2.4M364.4 311.4h2.4M378.4 311.4h4.7M415.6 311.4h2.4M299.1 312.4h2.4M397.0 312.4h2.4M411.0 312.4h2.4M301.5 313.4h2.4M322.4 313.4h2.4M355.1 313.4h2.4M383.0 313.4h2.4M408.6 313.4h2.4M418.0 313.4h2.4M308.5 314.4h2.4M380.7 314.4h2.4M385.3 314.4h2.4M418.0 314.4h2.4M383.0 315.4h2.4M408.6 315.4h2.4M418.0 315.4h2.4M301.5 316.4h2.4M350.4 316.4h4.7M359.7 316.4h2.4M411.0 316.4h2.4M383.0 317.4h2.4M299.1 318.4h2.4M306.1 318.4h4.7M357.4 318.4h2.4M394.7 318.4h2.4M413.3 319.4h2.4M364.4 320.4h2.4M380.7 320.4h2.4M404.0 320.4h2.4M413.3 320.4h2.4M306.1 321.4h2.4M357.4 321.4h2.4M301.5 322.4h2.4M378.4 322.4h4.7M359.7 323.4h2.4M392.3 323.4h2.4M406.3 323.4h2.4M415.6 323.4h2.4M334.1 324.4h2.4M380.7 324.4h2.4M385.3 324.4h2.4M397.0 324.4h7.0M415.6 324.4h2.4M308.5 325.4h2.4M313.1 325.4h2.4M327.1 325.4h2.4M352.7 325.4h2.4M406.3 325.4h4.7M413.3 325.4h2.4M418.0 325.4h2.4M299.1 326.3h2.4M308.5 326.3h2.4M313.1 326.3h2.4M378.4 326.3h2.4M411.0 326.3h2.4M310.8 327.3h2.4M352.7 327.3h2.4M366.7 327.3h2.4M380.7 327.3h2.4M411.0 327.3h2.4M380.7 328.3h2.4M404.0 328.3h2.4M296.8 329.3h2.4M310.8 329.3h2.4M299.1 330.3h2.4M355.1 330.3h2.4M299.1 331.3h2.4M320.1 331.3h2.4M359.7 331.3h2.4M401.7 331.3h2.4M411.0 331.3h2.4M310.8 332.3h2.4M317.8 332.3h2.4M327.1 332.3h2.4M359.7 332.3h2.4M296.8 333.3h2.4M303.8 333.3h2.4M315.4 333.3h2.4M324.8 336.1h2.4M334.1 336.1h2.4M387.7 336.1h2.4M310.8 337.1h2.4M315.4 337.1h2.4M320.1 337.1h2.4M324.8 337.1h2.4M331.8 337.1h2.4M352.7 337.1h2.4M371.4 337.1h2.4M310.8 338.1h2.4M315.4 338.1h2.4M334.1 338.1h2.4M341.1 338.1h2.4M348.1 338.1h2.4M324.8 339.1h2.4M364.4 339.1h2.4M390.0 339.1h2.4M320.1 340.1h2.4M373.7 340.1h2.4M324.8 341.1h2.4M334.1 341.1h2.4M357.4 341.1h2.4M306.1 342.1h2.4M310.8 342.1h2.4M317.8 342.1h2.4M355.1 342.1h2.4M385.3 342.1h2.4M296.8 343.1h2.4M306.1 343.1h2.4M313.1 343.1h2.4M327.1 343.1h2.4M336.4 343.1h2.4M350.4 343.1h4.7M336.4 344.0h2.4M308.5 345.0h2.4M313.1 345.0h4.7M324.8 345.0h2.4M357.4 345.0h4.7M364.4 345.0h2.4M371.4 345.0h2.4M378.4 345.0h2.4M385.3 345.0h2.4M296.8 346.0h2.4M306.1 346.0h2.4M378.4 346.0h2.4M345.7 347.0h2.4M352.7 347.0h4.7M362.0 347.0h2.4M369.0 347.0h2.4M345.7 348.0h2.4M357.4 348.0h2.4M364.4 348.0h4.7M383.0 348.0h2.4M350.4 349.0h4.7M362.0 349.0h2.4M296.8 350.0h2.4M350.4 350.0h4.7M364.4 350.0h2.4M380.7 350.0h2.4M387.7 350.0h2.4M322.4 351.0h4.7M380.7 351.0h2.4M366.7 352.0h2.4M385.3 352.0h2.4M299.1 353.0h2.4M362.0 353.0h2.4M299.1 354.0h7.0M310.8 354.0h4.7M327.1 354.0h4.7M352.7 354.0h2.4M357.4 354.0h2.4M364.4 354.0h2.4M378.4 354.0h4.7M324.8 355.0h2.4M306.1 356.0h2.4M324.8 356.0h2.4M331.8 356.0h2.4M348.1 356.0h2.4M352.7 356.0h2.4M296.8 357.0h4.7M306.1 357.0h2.4M313.1 357.0h2.4M355.1 357.0h4.7M362.0 357.0h2.4M296.8 357.9h2.4M315.4 357.9h2.4M324.8 357.9h4.7M336.4 357.9h2.4M348.1 357.9h2.4M383.0 357.9h2.4M296.8 358.9h4.7M303.8 358.9h7.0M320.1 358.9h2.4M357.4 358.9h2.4M362.0 358.9h2.4M385.3 358.9h4.7M296.8 359.9h2.4M301.5 359.9h2.4M306.1 359.9h2.4M317.8 359.9h2.4M322.4 359.9h2.4M345.7 359.9h4.7M355.1 359.9h2.4M359.7 359.9h2.4M313.1 360.9h2.4M352.7 360.9h2.4M378.4 360.9h2.4M385.3 360.9h2.4M301.5 361.9h2.4M317.8 361.9h2.4M364.4 361.9h2.4M299.1 362.9h2.4M313.1 362.9h2.4M334.1 362.9h2.4M348.1 362.9h2.4M362.0 362.9h2.4M301.5 363.9h4.7M324.8 363.9h2.4M348.1 363.9h2.4M383.0 363.9h2.4M317.8 364.9h4.7M324.8 364.9h2.4M336.4 364.9h2.4M352.7 364.9h2.4M359.7 364.9h2.4" stroke="rgb(247,193,169)" stroke-width="1.12" fill="none"/>
<path d="M327.1 231.6h2.4M336.4 233.6h2.4M380.7 234.6h2.4M327.1 237.5h2.4M429.6 240.5h2.4M380.7 243.5h2.4M431.9 243.5h2.4M329.4 245.5h2.4M438.9 245.5h2.4M390.0 249.4h2.4M401.7 249.4h4.7M418.0 249.4h2.4M397.0 250.4h2.4M415.6 250.4h2.4M401.7 251.4h4.7M415.6 251.4h2.4M399.3 252.3h2.4M422.6 252.3h2.4M390.0 253.3h4.7M390.0 254.3h2.4M404.0 254.3h2.4M399.3 255.3h4.7M397.0 256.3h4.7M434.3 256.3h2.4M420.3 258.2h2.4M425.0 258.2h2.4M397.0 259.2h4.7M408.6 259.2h2.4M411.0 260.2h2.4M425.0 260.2h2.4M406.3 261.2h2.4M422.6 261.2h2.4M404.0 262.2h2.4M390.0 263.2h4.7M413.3 263.2h2.4M420.3 263.2h2.4M434.3 263.2h2.4M413.3 264.1h2.4M411.0 265.1h2.4M425.0 265.1h2.4M299.1 268.8h4.7M317.8 268.8h2.4M324.8 268.8h2.4M413.3 268.8h2.4M327.1 270.8h2.4M413.3 270.8h2.4M313.1 271.8h4.7M303.8 272.8h2.4M310.8 272.8h2.4M315.4 272.8h2.4M324.8 272.8h2.4M299.1 273.7h2.4M303.8 273.7h2.4M322.4 273.7h2.4M350.4 273.7h2.4M408.6 273.7h2.4M303.8 274.7h2.4M369.0 274.7h2.4M390.0 274.7h2.4M413.3 274.7h2.4M418.0 274.7h2.4M303.8 275.7h2.4M336.4 275.7h2.4M348.1 275.7h2.4M352.7 275.7h2.4M357.4 275.7h2.4M383.0 275.7h2.4M303.8 276.7h2.4M296.8 277.7h2.4M301.5 277.7h2.4M313.1 277.7h2.4M380.7 277.7h2.4M411.0 277.7h2.4M380.7 278.7h2.4M408.6 278.7h2.4M380.7 279.7h2.4M406.3 281.7h2.4M299.1 282.7h2.4M343.4 282.7h4.7M350.4 283.6h2.4M378.4 283.6h2.4M418.0 283.6h2.4M301.5 284.6h2.4M299.1 285.6h2.4M357.4 285.6h2.4M364.4 285.6h2.4M369.0 285.6h2.4M376.0 285.6h2.4M413.3 285.6h4.7M380.7 286.6h4.7M415.6 286.6h2.4M357.4 287.6h2.4M415.6 287.6h2.4M313.1 288.6h2.4M320.1 288.6h2.4M352.7 288.6h2.4M357.4 288.6h4.7M413.3 289.6h2.4M299.1 290.6h2.4M352.7 290.6h2.4M355.1 291.6h2.4M385.3 291.6h2.4M380.7 292.6h2.4M408.6 292.6h2.4M308.5 293.5h2.4M313.1 293.5h2.4M350.4 293.5h2.4M383.0 293.5h2.4M299.1 294.5h2.4M418.0 294.5h2.4M313.1 295.5h2.4M320.1 295.5h2.4M329.4 295.5h2.4M397.0 295.5h2.4M383.0 296.5h2.4M324.8 297.5h4.7M418.0 297.5h2.4M350.4 300.5h2.4M355.1 300.5h2.4M387.7 300.5h2.4M404.0 300.5h2.4M303.8 301.5h4.7M313.1 301.5h2.4M348.1 301.5h2.4M299.1 302.5h2.4M383.0 302.5h2.4M355.1 303.5h2.4M380.7 303.5h2.4M411.0 303.5h4.7M380.7 304.5h2.4M411.0 304.5h2.4M401.7 305.5h2.4M415.6 305.5h2.4M352.7 306.5h2.4M380.7 306.5h2.4M299.1 307.5h2.4M404.0 307.5h2.4M320.1 308.4h7.0M334.1 308.4h2.4M378.4 308.4h4.7M411.0 308.4h2.4M313.1 309.4h2.4M385.3 309.4h2.4M394.7 309.4h2.4M411.0 309.4h2.4M415.6 309.4h4.7M301.5 310.4h2.4M413.3 310.4h2.4M299.1 311.4h4.7M306.1 311.4h4.7M322.4 311.4h2.4M348.1 311.4h2.4M359.7 311.4h4.7M406.3 311.4h2.4M399.3 312.4h2.4M413.3 313.4h2.4M303.8 314.4h2.4M394.7 314.4h2.4M301.5 315.4h2.4M392.3 315.4h2.4M310.8 316.4h2.4M380.7 316.4h2.4M401.7 316.4h2.4M406.3 316.4h2.4M299.1 317.4h2.4M411.0 317.4h2.4M415.6 317.4h2.4M406.3 318.4h2.4M415.6 318.4h4.7M392.3 319.4h2.4M408.6 320.4h2.4M418.0 320.4h2.4M392.3 321.4h2.4M397.0 322.4h2.4M301.5 323.4h2.4M401.7 323.4h2.4M413.3 323.4h2.4M301.5 324.4h2.4M320.1 324.4h2.4M418.0 324.4h2.4M299.1 325.4h2.4M357.4 325.4h2.4M380.7 325.4h2.4M401.7 325.4h2.4M331.8 326.3h2.4M380.7 326.3h2.4M401.7 326.3h2.4M406.3 326.3h2.4M418.0 326.3h2.4M296.8 327.3h2.4M296.8 328.3h2.4M315.4 328.3h2.4M324.8 328.3h2.4M385.3 328.3h2.4M413.3 328.3h2.4M385.3 329.3h2.4M327.1 330.3h2.4M350.4 330.3h2.4M418.0 330.3h2.4M301.5 331.3h2.4M390.0 331.3h2.4M301.5 332.3h2.4M355.1 332.3h2.4M369.0 332.3h2.4M310.8 333.3h2.4M320.1 333.3h2.4M397.0 333.3h2.4M296.8 336.1h2.4M306.1 336.1h2.4M313.1 336.1h4.7M322.4 336.1h2.4M350.4 336.1h2.4M380.7 336.1h2.4M296.8 337.1h2.4M359.7 337.1h2.4M383.0 337.1h2.4M320.1 338.1h2.4M299.1 339.1h4.7M313.1 339.1h2.4M331.8 339.1h2.4M350.4 339.1h4.7M310.8 340.1h2.4M324.8 340.1h2.4M348.1 340.1h2.4M357.4 340.1h2.4M303.8 341.1h4.7M348.1 341.1h2.4M383.0 341.1h2.4M296.8 342.1h2.4M315.4 342.1h2.4M357.4 342.1h2.4M299.1 343.1h4.7M299.1 344.0h2.4M310.8 344.0h2.4M320.1 344.0h2.4M334.1 344.0h2.4M296.8 345.0h4.7M336.4 345.0h2.4M350.4 345.0h2.4M355.1 346.0h2.4M383.0 346.0h2.4M306.1 347.0h2.4M329.4 347.0h4.7M336.4 347.0h2.4M385.3 347.0h2.4M329.4 348.0h2.4M334.1 348.0h2.4M380.7 348.0h2.4M306.1 349.0h2.4M364.4 349.0h4.7M383.0 350.0h2.4M331.8 351.0h2.4M299.1 352.0h2.4M303.8 352.0h2.4M308.5 352.0h2.4M313.1 352.0h2.4M322.4 352.0h4.7M348.1 352.0h2.4M364.4 352.0h2.4M306.1 354.0h2.4M387.7 354.0h2.4M334.1 355.0h2.4M371.4 356.0h2.4M303.8 357.0h2.4M308.5 357.0h2.4M320.1 357.0h2.4M359.7 357.0h2.4M380.7 357.0h2.4M299.1 357.9h2.4M308.5 357.9h4.7M345.7 357.9h2.4M345.7 358.9h2.4M308.5 359.9h4.7M315.4 359.9h2.4M324.8 359.9h2.4M343.4 359.9h2.4M350.4 359.9h4.7M303.8 361.9h4.7M334.1 361.9h2.4M387.7 361.9h2.4M359.7 362.9h2.4M383.0 362.9h4.7M296.8 364.9h2.4M315.4 364.9h2.4M329.4 364.9h2.4" stroke="rgb(246,183,154)" stroke-width="1.12" fill="none"/>
<path d="M434.3 230.6h2.4M431.9 235.5h4.7M438.9 235.5h2.4M434.3 236.5h2.4M438.9 238.5h2.4M429.6 239.5h2.4M434.3 239.5h7.0M431.9 240.5h7.0M431.9 241.5h2.4M436.6 241.5h2.4M441.3 241.5h2.4M427.3 242.5h2.4M434.3 242.5h9.4M434.3 243.5h4.7M380.7 245.5h2.4M429.6 245.5h9.4M431.9 246.5h2.4M436.6 246.5h2.4M399.3 249.4h2.4M415.6 249.4h2.4M420.3 249.4h2.4M413.3 250.4h2.4M397.0 251.4h2.4M406.3 251.4h4.7M404.0 252.3h2.4M425.0 252.3h2.4M413.3 253.3h2.4M418.0 254.3h2.4M397.0 255.3h2.4M404.0 255.3h4.7M418.0 255.3h2.4M436.6 255.3h2.4M441.3 255.3h2.4M404.0 256.3h2.4M418.0 256.3h2.4M427.3 256.3h4.7M438.9 256.3h2.4M425.0 257.3h2.4M436.6 257.3h2.4M434.3 258.2h2.4M390.0 259.2h2.4M394.7 259.2h2.4M401.7 259.2h2.4M422.6 259.2h4.7M436.6 259.2h2.4M390.0 260.2h4.7M399.3 260.2h2.4M420.3 260.2h2.4M392.3 261.2h2.4M413.3 261.2h2.4M418.0 261.2h2.4M390.0 262.2h2.4M399.3 262.2h2.4M406.3 262.2h2.4M415.6 262.2h2.4M420.3 262.2h2.4M394.7 263.2h2.4M441.3 263.2h2.4M411.0 264.1h2.4M390.0 265.1h2.4M438.9 265.1h2.4M394.7 266.1h2.4M429.6 266.1h2.4M313.1 268.8h2.4M408.6 268.8h2.4M308.5 270.8h2.4M390.0 270.8h2.4M415.6 270.8h2.4M296.8 272.8h2.4M329.4 272.8h2.4M313.1 273.7h2.4M336.4 273.7h2.4M380.7 273.7h2.4M390.0 273.7h2.4M334.1 274.7h2.4M350.4 274.7h2.4M385.3 274.7h2.4M411.0 274.7h2.4M301.5 276.7h2.4M303.8 277.7h2.4M315.4 277.7h2.4M352.7 277.7h2.4M313.1 278.7h2.4M296.8 279.7h2.4M313.1 281.7h2.4M408.6 281.7h2.4M334.1 282.7h2.4M355.1 282.7h2.4M380.7 283.6h4.7M310.8 285.6h2.4M348.1 285.6h2.4M352.7 285.6h2.4M366.7 285.6h2.4M383.0 285.6h2.4M303.8 286.6h2.4M313.1 286.6h2.4M355.1 286.6h2.4M355.1 287.6h2.4M378.4 287.6h2.4M385.3 287.6h2.4M355.1 288.6h2.4M324.8 290.6h2.4M357.4 290.6h2.4M380.7 290.6h2.4M364.4 291.6h2.4M408.6 291.6h2.4M296.8 293.5h2.4M310.8 293.5h2.4M320.1 293.5h2.4M380.7 294.5h2.4M408.6 295.5h2.4M408.6 296.5h2.4M380.7 297.5h2.4M313.1 300.5h2.4M327.1 300.5h4.7M397.0 300.5h2.4M390.0 302.5h2.4M404.0 302.5h2.4M385.3 303.5h2.4M399.3 303.5h2.4M397.0 304.5h2.4M324.8 306.5h2.4M397.0 306.5h2.4M301.5 307.5h2.4M392.3 307.5h2.4M406.3 307.5h2.4M411.0 307.5h2.4M299.1 308.4h2.4M303.8 308.4h2.4M350.4 308.4h2.4M357.4 308.4h2.4M390.0 308.4h2.4M301.5 309.4h2.4M327.1 309.4h2.4M397.0 310.4h2.4M401.7 310.4h2.4M408.6 310.4h2.4M313.1 311.4h2.4M355.1 311.4h4.7M408.6 311.4h4.7M296.8 312.4h2.4M301.5 312.4h2.4M313.1 312.4h2.4M380.7 312.4h2.4M401.7 312.4h2.4M303.8 313.4h2.4M385.3 313.4h2.4M392.3 314.4h2.4M397.0 314.4h2.4M404.0 314.4h2.4M310.8 315.4h2.4M390.0 315.4h2.4M303.8 316.4h2.4M322.4 316.4h2.4M378.4 316.4h2.4M408.6 316.4h2.4M413.3 316.4h2.4M303.8 318.4h2.4M380.7 318.4h2.4M392.3 318.4h2.4M411.0 318.4h2.4M299.1 319.4h2.4M313.1 319.4h2.4M378.4 319.4h2.4M397.0 319.4h2.4M383.0 320.4h2.4M399.3 320.4h2.4M301.5 321.4h2.4M348.1 321.4h2.4M404.0 321.4h2.4M385.3 322.4h2.4M399.3 322.4h4.7M415.6 322.4h4.7M397.0 323.4h4.7M299.1 324.4h2.4M406.3 324.4h7.0M394.7 325.4h4.7M397.0 326.3h2.4M404.0 326.3h2.4M378.4 327.3h2.4M392.3 327.3h4.7M404.0 327.3h2.4M299.1 328.3h4.7M408.6 328.3h2.4M418.0 328.3h2.4M315.4 329.3h2.4M352.7 329.3h2.4M411.0 330.3h2.4M406.3 331.3h2.4M303.8 332.3h2.4M352.7 332.3h2.4M301.5 333.3h2.4M401.7 333.3h2.4M408.6 333.3h4.7M301.5 336.1h4.7M310.8 336.1h2.4M327.1 336.1h2.4M383.0 336.1h2.4M301.5 337.1h2.4M380.7 337.1h2.4M296.8 338.1h2.4M357.4 338.1h2.4M296.8 339.1h2.4M303.8 339.1h2.4M310.8 339.1h2.4M348.1 339.1h2.4M355.1 339.1h2.4M359.7 339.1h2.4M296.8 341.1h4.7M355.1 341.1h2.4M301.5 342.1h2.4M313.1 342.1h2.4M303.8 343.1h2.4M348.1 343.1h2.4M357.4 344.0h2.4M380.7 344.0h2.4M334.1 345.0h2.4M383.0 345.0h2.4M359.7 346.0h2.4M310.8 347.0h2.4M320.1 347.0h2.4M327.1 347.0h2.4M334.1 347.0h2.4M348.1 347.0h4.7M357.4 347.0h2.4M296.8 348.0h2.4M306.1 348.0h2.4M313.1 348.0h4.7M352.7 348.0h2.4M301.5 349.0h2.4M355.1 349.0h2.4M355.1 350.0h2.4M299.1 351.0h2.4M306.1 351.0h2.4M310.8 351.0h2.4M310.8 352.0h2.4M350.4 352.0h2.4M355.1 352.0h2.4M359.7 352.0h2.4M357.4 353.0h2.4M299.1 355.0h4.7M310.8 355.0h4.7M355.1 356.0h2.4M324.8 357.0h2.4M334.1 357.0h2.4M317.8 357.9h2.4M310.8 358.9h2.4M329.4 358.9h2.4M380.7 358.9h2.4M299.1 359.9h2.4M303.8 359.9h2.4M334.1 359.9h2.4M301.5 360.9h2.4M296.8 361.9h2.4M310.8 361.9h2.4M320.1 361.9h2.4M324.8 361.9h2.4M350.4 361.9h4.7M362.0 361.9h2.4M369.0 361.9h2.4M380.7 361.9h2.4M308.5 362.9h4.7M296.8 363.9h2.4M313.1 363.9h2.4M352.7 363.9h2.4M380.7 363.9h2.4M385.3 363.9h2.4M350.4 364.9h2.4" stroke="rgb(245,167,135)" stroke-width="1.12" fill="none"/>
<path d="M429.6 225.6h2.4M429.6 228.6h2.4M436.6 228.6h2.4M434.3 229.6h2.4M431.9 232.6h7.0M434.3 234.6h4.7M441.3 234.6h2.4M427.3 235.5h2.4M441.3 235.5h2.4M429.6 236.5h4.7M436.6 236.5h2.4M441.3 236.5h2.4M427.3 237.5h2.4M434.3 237.5h2.4M438.9 237.5h4.7M427.3 238.5h9.4M427.3 239.5h2.4M431.9 239.5h2.4M427.3 240.5h2.4M441.3 240.5h2.4M427.3 241.5h4.7M434.3 241.5h2.4M438.9 241.5h2.4M431.9 242.5h2.4M427.3 243.5h2.4M427.3 244.5h16.4M427.3 245.5h2.4M427.3 246.5h2.4M390.0 250.4h2.4M394.7 250.4h2.4M399.3 250.4h2.4M406.3 250.4h2.4M392.3 251.4h2.4M418.0 251.4h2.4M394.7 254.3h2.4M401.7 254.3h2.4M411.0 254.3h2.4M434.3 254.3h2.4M408.6 255.3h2.4M431.9 255.3h4.7M408.6 256.3h2.4M415.6 256.3h2.4M422.6 256.3h2.4M436.6 256.3h2.4M441.3 256.3h2.4M399.3 257.3h2.4M427.3 257.3h2.4M401.7 258.2h2.4M413.3 258.2h2.4M418.0 258.2h2.4M422.6 258.2h2.4M438.9 258.2h2.4M392.3 259.2h2.4M429.6 259.2h2.4M438.9 259.2h4.7M401.7 260.2h2.4M413.3 260.2h2.4M431.9 260.2h7.0M415.6 261.2h2.4M436.6 261.2h2.4M408.6 262.2h2.4M413.3 262.2h2.4M422.6 262.2h2.4M429.6 262.2h4.7M438.9 262.2h2.4M408.6 263.2h2.4M427.3 263.2h2.4M438.9 263.2h2.4M397.0 264.1h2.4M406.3 264.1h4.7M434.3 264.1h2.4M406.3 265.1h2.4M415.6 265.1h2.4M429.6 265.1h9.4M390.0 266.1h2.4M406.3 266.1h2.4M310.8 268.8h2.4M413.3 269.8h2.4M310.8 270.8h2.4M415.6 272.8h2.4M357.4 276.7h2.4M306.1 277.7h2.4M310.8 279.7h2.4M385.3 279.7h4.7M301.5 282.7h2.4M320.1 282.7h2.4M411.0 282.7h2.4M406.3 284.6h2.4M301.5 285.6h2.4M355.1 285.6h2.4M406.3 286.6h2.4M383.0 287.6h2.4M406.3 287.6h2.4M308.5 288.6h2.4M380.7 288.6h2.4M413.3 291.6h2.4M299.1 293.5h2.4M327.1 295.5h2.4M306.1 302.5h2.4M401.7 302.5h2.4M301.5 303.5h2.4M313.1 303.5h2.4M390.0 303.5h2.4M408.6 303.5h2.4M303.8 304.5h2.4M408.6 304.5h2.4M394.7 305.5h2.4M399.3 305.5h2.4M404.0 305.5h2.4M411.0 306.5h2.4M418.0 306.5h2.4M397.0 307.5h2.4M418.0 307.5h2.4M310.8 308.4h2.4M383.0 308.4h2.4M392.3 309.4h2.4M397.0 309.4h2.4M404.0 309.4h2.4M413.3 309.4h2.4M324.8 310.4h2.4M392.3 310.4h2.4M303.8 311.4h2.4M310.8 311.4h2.4M320.1 311.4h2.4M352.7 311.4h2.4M369.0 311.4h2.4M383.0 311.4h2.4M418.0 311.4h2.4M392.3 312.4h2.4M406.3 312.4h2.4M394.7 313.4h2.4M399.3 314.4h2.4M392.3 316.4h2.4M397.0 316.4h2.4M380.7 317.4h2.4M418.0 317.4h2.4M310.8 318.4h2.4M301.5 319.4h2.4M401.7 319.4h2.4M408.6 319.4h2.4M357.4 320.4h2.4M392.3 320.4h2.4M406.3 320.4h2.4M418.0 321.4h2.4M301.5 325.4h2.4M399.3 325.4h2.4M399.3 326.3h2.4M383.0 327.3h2.4M399.3 327.3h2.4M313.1 328.3h2.4M392.3 328.3h2.4M406.3 328.3h2.4M355.1 329.3h2.4M399.3 329.3h4.7M303.8 331.3h2.4M394.7 331.3h7.0M383.0 332.3h2.4M390.0 332.3h2.4M397.0 332.3h2.4M399.3 333.3h2.4M406.3 333.3h2.4M299.1 336.1h2.4M308.5 336.1h2.4M299.1 337.1h2.4M327.1 337.1h2.4M336.4 337.1h2.4M357.4 337.1h2.4M352.7 338.1h2.4M303.8 344.0h2.4M306.1 345.0h2.4M357.4 346.0h2.4M315.4 347.0h2.4M385.3 348.0h2.4M320.1 349.0h2.4M308.5 351.0h2.4M301.5 352.0h2.4M380.7 352.0h2.4M383.0 353.0h2.4M357.4 355.0h2.4M380.7 355.0h2.4M301.5 356.0h2.4M308.5 356.0h2.4M306.1 357.9h2.4M352.7 357.9h2.4M324.8 358.9h2.4M352.7 358.9h2.4M364.4 359.9h2.4M299.1 360.9h2.4M331.8 362.9h2.4M355.1 363.9h4.7" stroke="rgb(243,150,115)" stroke-width="1.12" fill="none"/>
<path d="M431.9 223.6h2.4M438.9 223.6h4.7M431.9 224.6h2.4M441.3 224.6h2.4M441.3 225.6h2.4M427.3 226.6h2.4M434.3 226.6h2.4M441.3 226.6h2.4M431.9 227.6h4.7M427.3 228.6h2.4M431.9 228.6h4.7M427.3 229.6h2.4M431.9 229.6h2.4M436.6 229.6h4.7M429.6 230.6h4.7M436.6 230.6h2.4M434.3 231.6h2.4M438.9 231.6h2.4M427.3 232.6h2.4M438.9 232.6h2.4M431.9 233.6h7.0M438.9 234.6h2.4M429.6 235.5h2.4M436.6 235.5h2.4M427.3 236.5h2.4M438.9 236.5h2.4M436.6 237.5h2.4M441.3 239.5h2.4M438.9 240.5h2.4M429.6 242.5h2.4M441.3 245.5h2.4M438.9 246.5h4.7M392.3 249.4h2.4M411.0 249.4h2.4M422.6 249.4h2.4M401.7 250.4h2.4M408.6 250.4h2.4M394.7 251.4h2.4M401.7 252.3h2.4M418.0 252.3h2.4M420.3 253.3h2.4M425.0 253.3h2.4M438.9 253.3h2.4M392.3 254.3h2.4M406.3 254.3h2.4M431.9 254.3h2.4M436.6 254.3h4.7M411.0 255.3h2.4M427.3 255.3h4.7M406.3 256.3h2.4M413.3 256.3h2.4M397.0 257.3h2.4M406.3 257.3h2.4M415.6 257.3h2.4M420.3 257.3h2.4M429.6 257.3h2.4M434.3 257.3h2.4M415.6 258.2h2.4M427.3 258.2h4.7M436.6 258.2h2.4M441.3 258.2h2.4M434.3 259.2h2.4M404.0 260.2h2.4M408.6 260.2h2.4M415.6 260.2h2.4M427.3 260.2h4.7M441.3 260.2h2.4M420.3 261.2h2.4M431.9 261.2h2.4M438.9 261.2h2.4M394.7 262.2h2.4M427.3 262.2h2.4M434.3 262.2h2.4M404.0 263.2h2.4M418.0 263.2h2.4M429.6 263.2h4.7M436.6 263.2h2.4M392.3 264.1h2.4M401.7 264.1h2.4M420.3 264.1h14.0M436.6 264.1h2.4M441.3 264.1h2.4M392.3 265.1h2.4M418.0 265.1h2.4M397.0 266.1h2.4M431.9 266.1h2.4M438.9 266.1h4.7M313.1 272.8h2.4M324.8 273.7h2.4M310.8 277.7h2.4M348.1 279.7h2.4M352.7 279.7h2.4M348.1 283.6h2.4M376.0 283.6h2.4M350.4 285.6h2.4M380.7 285.6h2.4M385.3 285.6h2.4M411.0 287.6h2.4M406.3 288.6h2.4M411.0 288.6h2.4M406.3 289.6h2.4M411.0 289.6h2.4M322.4 293.5h2.4M357.4 295.5h2.4M310.8 297.5h2.4M324.8 301.5h2.4M392.3 301.5h2.4M401.7 301.5h2.4M394.7 302.5h2.4M418.0 303.5h2.4M399.3 304.5h2.4M404.0 306.5h2.4M399.3 307.5h4.7M296.8 308.4h2.4M313.1 308.4h2.4M392.3 308.4h4.7M404.0 308.4h2.4M390.0 310.4h2.4M399.3 310.4h2.4M404.0 310.4h2.4M404.0 312.4h2.4M390.0 313.4h2.4M390.0 314.4h2.4M394.7 315.4h2.4M401.7 315.4h4.7M394.7 316.4h2.4M357.4 317.4h2.4M399.3 317.4h2.4M390.0 318.4h2.4M390.0 319.4h2.4M418.0 319.4h2.4M390.0 320.4h2.4M390.0 321.4h2.4M399.3 321.4h2.4M404.0 323.4h2.4M404.0 324.4h2.4M401.7 327.3h2.4M408.6 327.3h2.4M411.0 328.3h2.4M380.7 329.3h2.4M392.3 329.3h4.7M404.0 329.3h2.4M401.7 330.3h4.7M380.7 332.3h2.4M399.3 332.3h2.4M380.7 333.3h2.4M308.5 337.1h2.4M313.1 337.1h2.4M313.1 338.1h2.4M306.1 339.1h2.4M380.7 339.1h2.4M355.1 340.1h2.4M308.5 341.1h2.4M301.5 344.0h2.4M348.1 345.0h2.4M350.4 346.0h2.4M296.8 347.0h2.4M313.1 347.0h2.4M378.4 347.0h2.4M301.5 348.0h2.4M310.8 348.0h2.4M327.1 348.0h2.4M355.1 348.0h2.4M329.4 349.0h2.4M310.8 350.0h2.4M357.4 350.0h2.4M334.1 351.0h2.4M380.7 353.0h2.4M352.7 355.0h2.4M303.8 356.0h2.4M301.5 357.0h2.4M301.5 357.9h2.4M315.4 358.9h2.4M350.4 358.9h2.4M357.4 360.9h2.4M308.5 361.9h2.4M313.1 361.9h2.4M357.4 361.9h2.4M378.4 361.9h2.4M303.8 362.9h2.4M350.4 362.9h2.4M357.4 362.9h2.4M310.8 363.9h2.4" stroke="rgb(241,133,95)" stroke-width="1.12" fill="none"/>
<path d="M429.6 223.6h2.4M434.3 223.6h2.4M429.6 224.6h2.4M436.6 224.6h2.4M434.3 225.6h2.4M431.9 226.6h2.4M436.6 226.6h4.7M429.6 227.6h2.4M438.9 228.6h2.4M441.3 229.6h2.4M427.3 230.6h2.4M438.9 230.6h4.7M427.3 231.6h4.7M436.6 231.6h2.4M441.3 231.6h2.4M429.6 232.6h2.4M429.6 233.6h2.4M438.9 233.6h4.7M427.3 234.6h4.7M429.6 237.5h4.7M438.9 243.5h2.4M392.3 250.4h2.4M390.0 251.4h2.4M425.0 251.4h2.4M408.6 252.3h2.4M420.3 252.3h2.4M397.0 253.3h2.4M406.3 253.3h2.4M411.0 253.3h2.4M418.0 253.3h2.4M434.3 253.3h4.7M415.6 254.3h2.4M427.3 254.3h4.7M441.3 254.3h2.4M392.3 255.3h2.4M438.9 255.3h2.4M392.3 256.3h2.4M431.9 256.3h2.4M404.0 257.3h2.4M438.9 257.3h4.7M404.0 258.2h2.4M431.9 258.2h2.4M415.6 259.2h2.4M427.3 259.2h2.4M431.9 259.2h2.4M422.6 260.2h2.4M438.9 260.2h2.4M401.7 261.2h2.4M427.3 261.2h4.7M434.3 261.2h2.4M418.0 262.2h2.4M436.6 262.2h2.4M441.3 262.2h2.4M397.0 263.2h2.4M406.3 263.2h2.4M394.7 264.1h2.4M399.3 264.1h2.4M404.0 264.1h2.4M415.6 264.1h2.4M397.0 265.1h4.7M404.0 265.1h2.4M441.3 265.1h2.4M392.3 266.1h2.4M415.6 266.1h2.4M427.3 266.1h2.4M434.3 266.1h4.7M315.4 268.8h2.4M380.7 274.7h2.4M411.0 276.7h2.4M357.4 279.7h2.4M383.0 279.7h2.4M411.0 283.6h2.4M408.6 286.6h2.4M408.6 289.6h2.4M306.1 300.5h4.7M380.7 300.5h2.4M397.0 301.5h2.4M394.7 303.5h2.4M404.0 303.5h2.4M390.0 304.5h2.4M392.3 305.5h2.4M397.0 305.5h2.4M390.0 306.5h2.4M394.7 306.5h2.4M394.7 307.5h2.4M324.8 311.4h2.4M392.3 311.4h2.4M404.0 311.4h2.4M397.0 313.4h4.7M404.0 317.4h2.4M301.5 318.4h2.4M399.3 318.4h2.4M394.7 319.4h2.4M397.0 320.4h2.4M401.7 320.4h2.4M397.0 321.4h2.4M401.7 321.4h2.4M411.0 321.4h2.4M394.7 322.4h2.4M390.0 324.4h7.0M390.0 325.4h4.7M390.0 326.3h2.4M394.7 326.3h2.4M408.6 326.3h2.4M399.3 328.3h2.4M394.7 330.3h2.4M399.3 330.3h2.4M406.3 330.3h2.4M392.3 331.3h2.4M401.7 332.3h2.4M299.1 333.3h2.4M350.4 333.3h2.4M301.5 341.1h2.4M308.5 347.0h2.4M303.8 348.0h2.4M301.5 351.0h2.4M296.8 352.0h2.4M310.8 357.0h2.4M301.5 358.9h2.4M313.1 358.9h2.4M334.1 358.9h2.4M313.1 359.9h2.4M371.4 361.9h2.4M301.5 362.9h2.4M359.7 363.9h2.4" stroke="rgb(238,114,76)" stroke-width="1.12" fill="none"/>
<path d="M427.3 223.6h2.4M436.6 223.6h2.4M427.3 224.6h2.4M434.3 224.6h2.4M438.9 224.6h2.4M431.9 225.6h2.4M438.9 225.6h2.4M429.6 226.6h2.4M427.3 227.6h2.4M436.6 227.6h7.0M429.6 229.6h2.4M441.3 232.6h2.4M427.3 233.6h2.4M436.6 238.5h2.4M441.3 238.5h2.4M429.6 243.5h2.4M411.0 250.4h2.4M397.0 252.3h2.4M406.3 252.3h2.4M404.0 253.3h2.4M408.6 253.3h2.4M427.3 253.3h4.7M441.3 253.3h2.4M397.0 254.3h4.7M408.6 254.3h2.4M420.3 254.3h2.4M394.7 255.3h2.4M413.3 255.3h2.4M408.6 257.3h2.4M413.3 257.3h2.4M431.9 257.3h2.4M390.0 258.2h2.4M394.7 258.2h2.4M406.3 258.2h2.4M411.0 258.2h2.4M404.0 259.2h2.4M411.0 259.2h4.7M418.0 259.2h2.4M394.7 260.2h2.4M411.0 261.2h2.4M441.3 261.2h2.4M438.9 264.1h2.4M408.6 265.1h2.4M427.3 265.1h2.4M399.3 266.1h7.0M413.3 266.1h2.4M411.0 281.7h2.4M308.5 282.7h2.4M406.3 283.6h2.4M408.6 284.6h4.7M408.6 288.6h2.4M299.1 300.5h2.4M310.8 300.5h2.4M394.7 301.5h2.4M399.3 301.5h2.4M392.3 302.5h2.4M397.0 303.5h2.4M401.7 303.5h2.4M392.3 304.5h4.7M399.3 306.5h2.4M413.3 306.5h2.4M390.0 309.4h2.4M401.7 313.4h2.4M401.7 314.4h2.4M399.3 315.4h2.4M390.0 316.4h2.4M401.7 318.4h4.7M408.6 318.4h2.4M404.0 319.4h2.4M392.3 322.4h2.4M404.0 322.4h2.4M392.3 326.3h2.4M397.0 327.3h2.4M401.7 328.3h2.4M397.0 329.3h2.4M390.0 330.3h2.4M408.6 330.3h2.4M394.7 332.3h2.4M390.0 333.3h2.4M299.1 338.1h2.4M380.7 346.0h2.4M299.1 347.0h7.0M299.1 348.0h2.4M334.1 352.0h2.4M327.1 358.9h2.4" stroke="rgb(233,92,61)" stroke-width="1.12" fill="none"/>
<path d="M427.3 225.6h2.4M441.3 228.6h2.4M431.9 231.6h2.4M413.3 252.3h2.4M431.9 253.3h2.4M413.3 254.3h2.4M422.6 254.3h4.7M390.0 255.3h2.4M415.6 255.3h2.4M390.0 256.3h2.4M411.0 256.3h2.4M411.0 257.3h2.4M418.0 257.3h2.4M392.3 258.2h2.4M418.0 260.2h2.4M404.0 261.2h2.4M408.6 261.2h2.4M415.6 263.2h2.4M394.7 265.1h2.4M411.0 266.1h2.4M406.3 282.7h4.7M357.4 283.6h2.4M406.3 285.6h2.4M411.0 286.6h2.4M408.6 287.6h2.4M301.5 300.5h2.4M390.0 300.5h4.7M404.0 301.5h2.4M392.3 303.5h2.4M415.6 306.5h2.4M397.0 308.4h2.4M394.7 311.4h2.4M401.7 311.4h2.4M392.3 313.4h2.4M390.0 317.4h4.7M401.7 317.4h2.4M394.7 320.4h2.4M394.7 321.4h2.4M390.0 323.4h2.4M394.7 323.4h2.4M390.0 328.3h2.4M394.7 328.3h2.4M397.0 330.3h2.4M392.3 333.3h2.4M308.5 339.1h2.4M313.1 341.1h2.4M380.7 345.0h2.4M308.5 348.0h2.4M313.1 357.9h2.4M355.1 358.9h2.4M299.1 361.9h2.4M385.3 361.9h2.4M380.7 362.9h2.4" stroke="rgb(229,70,45)" stroke-width="1.12" fill="none"/>
<path d="M436.6 225.6h2.4M418.0 250.4h2.4M411.0 252.3h2.4M415.6 253.3h2.4M392.3 257.3h2.4M401.7 257.3h2.4M397.0 258.2h4.7M408.6 258.2h2.4M406.3 259.2h2.4M397.0 260.2h2.4M392.3 262.2h2.4M411.0 268.8h2.4M355.1 273.7h2.4M408.6 283.6h2.4M408.6 285.6h4.7M394.7 300.5h2.4M399.3 300.5h4.7M390.0 301.5h2.4M404.0 304.5h2.4M392.3 306.5h2.4M401.7 306.5h2.4M399.3 308.4h2.4M390.0 311.4h2.4M397.0 311.4h4.7M394.7 312.4h2.4M404.0 313.4h2.4M397.0 315.4h2.4M394.7 317.4h4.7M397.0 318.4h2.4M390.0 322.4h2.4M397.0 328.3h2.4M390.0 329.3h2.4M392.3 332.3h2.4M394.7 333.3h2.4" stroke="rgb(224,48,30)" stroke-width="1.12" fill="none"/>
</g>
<path d="M283.6 234H279.6V258.6H283.6M279.6 246.4H276.6V310H278.2M283.6 281H280.6V316.5H283.6M280.6 298H278.2V350H283.6M283.6 290H281.8V295.5H283.6" stroke="#555" stroke-width="0.5" fill="none"/>
<defs><linearGradient id="cb" x1="0" y1="0" x2="0" y2="1"><stop offset="0" stop-color="#e0261c"/><stop offset="0.25" stop-color="#f08a7c"/><stop offset="0.5" stop-color="#fbf7f8"/><stop offset="0.75" stop-color="#9a9cd6"/><stop offset="1" stop-color="#343aac"/></linearGradient></defs>
<rect x="446.30" y="233.20" width="5.90" height="26.40" fill="url(#cb)" />
<text x="454.00" y="235.00" font-size="5.4" fill="#222" text-anchor="start" font-weight="normal" >4</text>
<text x="454.00" y="241.60" font-size="5.4" fill="#222" text-anchor="start" font-weight="normal" >2</text>
<text x="454.00" y="248.30" font-size="5.4" fill="#222" text-anchor="start" font-weight="normal" >0</text>
<text x="454.00" y="254.60" font-size="5.4" fill="#222" text-anchor="start" font-weight="normal" >−2</text>
<text x="454.00" y="260.80" font-size="5.4" fill="#222" text-anchor="start" font-weight="normal" >−4</text>
<text x="470.20" y="224.20" font-size="5.4" fill="#222" text-anchor="start" font-weight="normal" >Groups</text>
<rect x="470.10" y="227.55" width="4.10" height="4.10" fill="#f5e616" />
<text x="477.60" y="231.50" font-size="5.4" fill="#222" text-anchor="start" font-weight="normal" >NBC-B</text>
<rect x="470.10" y="232.88" width="4.10" height="4.10" fill="#e31a1c" />
<text x="477.60" y="236.83" font-size="5.4" fill="#222" text-anchor="start" font-weight="normal" >NBC-T</text>
<rect x="470.10" y="238.22" width="4.10" height="4.10" fill="#f7a01e" />
<text x="477.60" y="242.17" font-size="5.4" fill="#222" text-anchor="start" font-weight="normal" >GCBC</text>
<rect x="470.10" y="243.55" width="4.10" height="4.10" fill="#7fb2e5" />
<text x="477.60" y="247.50" font-size="5.4" fill="#222" text-anchor="start" font-weight="normal" >MBC</text>
<rect x="470.10" y="248.88" width="4.10" height="4.10" fill="#7b3f9e" />
<text x="477.60" y="252.83" font-size="5.4" fill="#222" text-anchor="start" font-weight="normal" >PC</text>
<rect x="470.10" y="254.21" width="4.10" height="4.10" fill="#000000" />
<text x="477.60" y="258.16" font-size="5.4" fill="#222" text-anchor="start" font-weight="normal" >CLL-ss1</text>
<rect x="470.10" y="259.55" width="4.10" height="4.10" fill="#a01c1c" />
<text x="477.60" y="263.50" font-size="5.4" fill="#222" text-anchor="start" font-weight="normal" >CLL-ss16</text>
<rect x="470.10" y="264.88" width="4.10" height="4.10" fill="#fdfde8" />
<text x="477.60" y="268.83" font-size="5.4" fill="#222" text-anchor="start" font-weight="normal" >CLL-ss2</text>
<rect x="470.10" y="270.21" width="4.10" height="4.10" fill="#1a8f8a" />
<text x="477.60" y="274.16" font-size="5.4" fill="#222" text-anchor="start" font-weight="normal" >CLL-ss4</text>
<rect x="470.10" y="275.55" width="4.10" height="4.10" fill="#f7c5d5" />
<text x="477.60" y="279.50" font-size="5.4" fill="#222" text-anchor="start" font-weight="normal" >CLL-ss8</text>
<rect x="470.10" y="280.88" width="4.10" height="4.10" fill="#9ac32c" />
<text x="477.60" y="284.83" font-size="5.4" fill="#222" text-anchor="start" font-weight="normal" >M-CLL</text>
<rect x="470.10" y="286.21" width="4.10" height="4.10" fill="#c4c4c4" />
<text x="477.60" y="290.16" font-size="5.4" fill="#222" text-anchor="start" font-weight="normal" >U-CLL</text>
<rect x="470.10" y="291.55" width="4.10" height="4.10" fill="#f08560" />
<text x="477.60" y="295.50" font-size="5.4" fill="#222" text-anchor="start" font-weight="normal" >IgG-CLL</text>
<rect x="470.10" y="296.88" width="4.10" height="4.10" fill="#d9601a" />
<text x="477.60" y="300.83" font-size="5.4" fill="#222" text-anchor="start" font-weight="normal" >IgG-M-CLL</text>
<rect x="470.10" y="302.21" width="4.10" height="4.10" fill="#2a3a9a" />
<text x="477.60" y="306.16" font-size="5.4" fill="#222" text-anchor="start" font-weight="normal" >IgG-U-CLL</text>
<rect x="470.10" y="307.55" width="4.10" height="4.10" fill="#d4147f" />
<text x="477.60" y="311.50" font-size="5.4" fill="#222" text-anchor="start" font-weight="normal" >Tris12-U-CLL</text>
<text x="470.20" y="321.70" font-size="5.4" fill="#222" text-anchor="start" font-weight="normal" >IGHV</text>
<rect x="470.10" y="324.55" width="4.10" height="4.10" fill="#0b4ea2" />
<text x="477.60" y="328.50" font-size="5.4" fill="#222" text-anchor="start" font-weight="normal" >M-CLL</text>
<rect x="470.10" y="329.95" width="4.10" height="4.10" fill="#f5d90a" />
<text x="477.60" y="333.90" font-size="5.4" fill="#222" text-anchor="start" font-weight="normal" >U-CLL</text>
<rect x="470.10" y="335.35" width="4.10" height="4.10" fill="#ececf2" />
<text x="477.60" y="339.30" font-size="5.4" fill="#222" text-anchor="start" font-weight="normal" >Undetermined</text>
<text x="470.20" y="347.90" font-size="5.4" fill="#222" text-anchor="start" font-weight="normal" >Tris12</text>
<rect x="470.10" y="351.15" width="4.10" height="4.10" fill="#808080" />
<text x="477.60" y="355.10" font-size="5.4" fill="#222" text-anchor="start" font-weight="normal" >Non-tris12</text>
<rect x="470.10" y="356.55" width="4.10" height="4.10" fill="#0a0a0a" />
<text x="477.60" y="360.50" font-size="5.4" fill="#222" text-anchor="start" font-weight="normal" >Tris12</text>
<rect x="470.10" y="361.95" width="4.10" height="4.10" fill="#f2f2f2" />
<text x="477.60" y="365.90" font-size="5.4" fill="#222" text-anchor="start" font-weight="normal" >NA</text>
<text x="7.00" y="443.40" font-size="11" fill="#000" text-anchor="start" font-weight="bold" >D</text>
<rect x="45.20" y="448.90" width="66.50" height="8.00" fill="#e0506c" />
<text x="78.45" y="455.10" font-size="6.7" fill="#ffffff" text-anchor="middle" font-weight="bold" >Cluster 1</text>
<path d="M47.00 474.0V543.2M51.15 472.0V543.0M55.29 473.6V543.0M59.44 476.0V543.0M63.59 477.0V543.0M67.73 468.0V543.0M71.88 469.5V543.0M76.03 467.0V543.0M80.18 473.6V543.0M84.32 460.0V533.4M88.47 468.0V543.0M92.62 468.4V543.0M96.76 477.0V543.0M100.91 472.0V543.0M105.06 462.2V543.0M109.21 472.0V543.0" stroke="#747474" stroke-width="0.8" fill="none"/>
<rect x="45.35" y="496.0" width="3.3" height="22.6" rx="0.4" fill="#f5e616" stroke="#3a3a3a" stroke-width="0.55"/>
<line x1="45.35" y1="507.20" x2="48.65" y2="507.20" stroke="#222" stroke-width="0.6" />
<rect x="49.50" y="497.0" width="3.3" height="20.8" rx="0.4" fill="#e31a1c" stroke="#3a3a3a" stroke-width="0.55"/>
<line x1="49.50" y1="506.40" x2="52.80" y2="506.40" stroke="#222" stroke-width="0.6" />
<rect x="53.64" y="500.6" width="3.3" height="21.4" rx="0.4" fill="#f7a01e" stroke="#3a3a3a" stroke-width="0.55"/>
<line x1="53.64" y1="510.50" x2="56.94" y2="510.50" stroke="#222" stroke-width="0.6" />
<rect x="57.79" y="495.7" width="3.3" height="21.3" rx="0.4" fill="#9ac32c" stroke="#3a3a3a" stroke-width="0.55"/>
<line x1="57.79" y1="504.70" x2="61.09" y2="504.70" stroke="#222" stroke-width="0.6" />
<rect x="61.94" y="501.5" width="3.3" height="18.0" rx="0.4" fill="#7b3f9e" stroke="#3a3a3a" stroke-width="0.55"/>
<line x1="61.94" y1="509.60" x2="65.24" y2="509.60" stroke="#222" stroke-width="0.6" />
<rect x="66.08" y="493.3" width="3.3" height="21.3" rx="0.4" fill="#000000" stroke="#3a3a3a" stroke-width="0.55"/>
<line x1="66.08" y1="504.00" x2="69.39" y2="504.00" stroke="#000" stroke-width="0.6" />
<rect x="70.23" y="496.6" width="3.3" height="20.9" rx="0.4" fill="#a01c1c" stroke="#3a3a3a" stroke-width="0.55"/>
<line x1="70.23" y1="505.60" x2="73.53" y2="505.60" stroke="#222" stroke-width="0.6" />
<rect x="74.38" y="496.6" width="3.3" height="19.6" rx="0.4" fill="#ffffff" stroke="#3a3a3a" stroke-width="0.55"/>
<line x1="74.38" y1="504.70" x2="77.68" y2="504.70" stroke="#222" stroke-width="0.6" />
<rect x="78.53" y="496.6" width="3.3" height="19.6" rx="0.4" fill="#1a8f8a" stroke="#3a3a3a" stroke-width="0.55"/>
<line x1="78.53" y1="505.20" x2="81.83" y2="505.20" stroke="#222" stroke-width="0.6" />
<rect x="82.67" y="485.1" width="3.3" height="18.9" rx="0.4" fill="#fbe6ec" stroke="#c04a62" stroke-width="0.55"/>
<line x1="82.67" y1="494.00" x2="85.97" y2="494.00" stroke="#b03050" stroke-width="0.6" />
<rect x="86.82" y="495.7" width="3.3" height="20.8" rx="0.4" fill="#9ac32c" stroke="#3a3a3a" stroke-width="0.55"/>
<line x1="86.82" y1="504.70" x2="90.12" y2="504.70" stroke="#222" stroke-width="0.6" />
<rect x="90.97" y="495.7" width="3.3" height="21.3" rx="0.4" fill="#d9d9d9" stroke="#3a3a3a" stroke-width="0.55"/>
<line x1="90.97" y1="504.70" x2="94.27" y2="504.70" stroke="#222" stroke-width="0.6" />
<rect x="95.11" y="494.0" width="3.3" height="19.7" rx="0.4" fill="#f08560" stroke="#3a3a3a" stroke-width="0.55"/>
<line x1="95.11" y1="502.30" x2="98.41" y2="502.30" stroke="#222" stroke-width="0.6" />
<rect x="99.26" y="495.4" width="3.3" height="21.3" rx="0.4" fill="#d9601a" stroke="#3a3a3a" stroke-width="0.55"/>
<line x1="99.26" y1="505.60" x2="102.56" y2="505.60" stroke="#222" stroke-width="0.6" />
<rect x="103.41" y="490.0" width="3.3" height="26.2" rx="0.4" fill="#2a3a9a" stroke="#3a3a3a" stroke-width="0.55"/>
<line x1="103.41" y1="502.00" x2="106.71" y2="502.00" stroke="#222" stroke-width="0.6" />
<rect x="107.56" y="494.0" width="3.3" height="21.4" rx="0.4" fill="#d4147f" stroke="#3a3a3a" stroke-width="0.55"/>
<line x1="107.56" y1="504.50" x2="110.86" y2="504.50" stroke="#222" stroke-width="0.6" />
<rect x="45.2" y="448.9" width="66.50" height="103.30" fill="none" stroke="#1a1a1a" stroke-width="0.9"/>
<rect x="114.70" y="448.90" width="67.00" height="8.00" fill="#c23a9e" />
<text x="148.20" y="455.10" font-size="6.7" fill="#ffffff" text-anchor="middle" font-weight="bold" >Cluster 2</text>
<path d="M116.50 499.0V539.0M120.65 498.0V541.6M124.79 490.8V538.3M128.94 495.7V541.6M133.09 490.8V544.0M137.24 480.2V540.0M141.38 481.8V538.3M145.53 480.2V538.3M149.68 479.4V538.3M153.82 496.6V544.0M157.97 480.2V538.3M162.12 477.7V538.3M166.26 488.4V540.0M170.41 480.2V538.3M174.56 481.0V539.0M178.71 479.7V536.7" stroke="#747474" stroke-width="0.8" fill="none"/>
<rect x="114.85" y="514.6" width="3.3" height="12.6" rx="0.4" fill="#f5e616" stroke="#3a3a3a" stroke-width="0.55"/>
<line x1="114.85" y1="521.60" x2="118.15" y2="521.60" stroke="#222" stroke-width="0.6" />
<circle cx="116.50" cy="485.00" r="0.85" fill="#111" />
<circle cx="116.50" cy="486.50" r="0.85" fill="#111" />
<circle cx="116.50" cy="488.00" r="0.85" fill="#111" />
<circle cx="116.50" cy="489.50" r="0.85" fill="#111" />
<circle cx="116.50" cy="491.00" r="0.85" fill="#111" />
<circle cx="116.50" cy="492.50" r="0.85" fill="#111" />
<circle cx="116.50" cy="494.00" r="0.85" fill="#111" />
<circle cx="116.50" cy="495.50" r="0.85" fill="#111" />
<circle cx="116.50" cy="497.00" r="0.85" fill="#111" />
<rect x="119.00" y="517.0" width="3.3" height="13.4" rx="0.4" fill="#e31a1c" stroke="#3a3a3a" stroke-width="0.55"/>
<line x1="119.00" y1="523.60" x2="122.30" y2="523.60" stroke="#222" stroke-width="0.6" />
<circle cx="120.65" cy="491.60" r="0.85" fill="#111" />
<circle cx="120.65" cy="494.00" r="0.85" fill="#111" />
<circle cx="120.65" cy="496.00" r="0.85" fill="#111" />
<rect x="123.14" y="512.4" width="3.3" height="13.9" rx="0.4" fill="#f7a01e" stroke="#3a3a3a" stroke-width="0.55"/>
<line x1="123.14" y1="521.00" x2="126.44" y2="521.00" stroke="#222" stroke-width="0.6" />
<circle cx="124.79" cy="487.20" r="0.85" fill="#111" />
<rect x="127.29" y="513.7" width="3.3" height="12.6" rx="0.4" fill="#9ac32c" stroke="#3a3a3a" stroke-width="0.55"/>
<line x1="127.29" y1="520.60" x2="130.59" y2="520.60" stroke="#222" stroke-width="0.6" />
<circle cx="128.94" cy="487.50" r="0.85" fill="#111" />
<circle cx="128.94" cy="490.00" r="0.85" fill="#111" />
<circle cx="128.94" cy="492.00" r="0.85" fill="#111" />
<circle cx="128.94" cy="494.00" r="0.85" fill="#111" />
<rect x="131.44" y="511.3" width="3.3" height="13.9" rx="0.4" fill="#7b3f9e" stroke="#3a3a3a" stroke-width="0.55"/>
<line x1="131.44" y1="519.00" x2="134.74" y2="519.00" stroke="#222" stroke-width="0.6" />
<circle cx="133.09" cy="486.70" r="0.85" fill="#111" />
<circle cx="133.09" cy="488.50" r="0.85" fill="#111" />
<rect x="135.59" y="504.2" width="3.3" height="15.6" rx="0.4" fill="#000000" stroke="#3a3a3a" stroke-width="0.55"/>
<line x1="135.59" y1="512.00" x2="138.89" y2="512.00" stroke="#000" stroke-width="0.6" />
<circle cx="137.24" cy="479.00" r="0.85" fill="#111" />
<rect x="139.73" y="500.6" width="3.3" height="16.4" rx="0.4" fill="#a01c1c" stroke="#3a3a3a" stroke-width="0.55"/>
<line x1="139.73" y1="509.60" x2="143.03" y2="509.60" stroke="#222" stroke-width="0.6" />
<rect x="143.88" y="501.5" width="3.3" height="15.5" rx="0.4" fill="#ffffff" stroke="#3a3a3a" stroke-width="0.55"/>
<line x1="143.88" y1="509.60" x2="147.18" y2="509.60" stroke="#222" stroke-width="0.6" />
<rect x="148.03" y="499.8" width="3.3" height="15.6" rx="0.4" fill="#1a8f8a" stroke="#3a3a3a" stroke-width="0.55"/>
<line x1="148.03" y1="508.00" x2="151.33" y2="508.00" stroke="#222" stroke-width="0.6" />
<rect x="152.17" y="515.7" width="3.3" height="13.1" rx="0.4" fill="#fbe6ec" stroke="#c04a62" stroke-width="0.55"/>
<line x1="152.17" y1="522.20" x2="155.47" y2="522.20" stroke="#b03050" stroke-width="0.6" />
<rect x="156.32" y="502.3" width="3.3" height="14.7" rx="0.4" fill="#9ac32c" stroke="#3a3a3a" stroke-width="0.55"/>
<line x1="156.32" y1="510.50" x2="159.62" y2="510.50" stroke="#222" stroke-width="0.6" />
<rect x="160.47" y="500.3" width="3.3" height="15.1" rx="0.4" fill="#d9d9d9" stroke="#3a3a3a" stroke-width="0.55"/>
<line x1="160.47" y1="508.00" x2="163.77" y2="508.00" stroke="#222" stroke-width="0.6" />
<circle cx="162.12" cy="472.80" r="0.85" fill="#111" />
<circle cx="162.12" cy="474.60" r="0.85" fill="#111" />
<circle cx="162.12" cy="476.20" r="0.85" fill="#111" />
<rect x="164.61" y="506.4" width="3.3" height="15.9" rx="0.4" fill="#f08560" stroke="#3a3a3a" stroke-width="0.55"/>
<line x1="164.61" y1="514.60" x2="167.91" y2="514.60" stroke="#222" stroke-width="0.6" />
<rect x="168.76" y="501.0" width="3.3" height="16.0" rx="0.4" fill="#d9601a" stroke="#3a3a3a" stroke-width="0.55"/>
<line x1="168.76" y1="509.20" x2="172.06" y2="509.20" stroke="#222" stroke-width="0.6" />
<rect x="172.91" y="504.7" width="3.3" height="15.9" rx="0.4" fill="#2a3a9a" stroke="#3a3a3a" stroke-width="0.55"/>
<line x1="172.91" y1="512.40" x2="176.21" y2="512.40" stroke="#222" stroke-width="0.6" />
<circle cx="174.56" cy="479.00" r="0.85" fill="#111" />
<rect x="177.06" y="502.3" width="3.3" height="15.5" rx="0.4" fill="#d4147f" stroke="#3a3a3a" stroke-width="0.55"/>
<line x1="177.06" y1="510.50" x2="180.36" y2="510.50" stroke="#222" stroke-width="0.6" />
<rect x="114.7" y="448.9" width="67.00" height="103.30" fill="none" stroke="#1a1a1a" stroke-width="0.9"/>
<rect x="184.60" y="448.90" width="67.10" height="8.00" fill="#3c8fd8" />
<text x="218.15" y="455.10" font-size="6.7" fill="#ffffff" text-anchor="middle" font-weight="bold" >Cluster 3</text>
<path d="M186.40 473.6V535.0M190.55 476.0V536.7M194.69 481.8V538.3M198.84 475.3V540.0M202.99 484.3V541.6M207.13 477.7V541.6M211.28 473.6V538.3M215.43 478.6V541.6M219.58 472.0V541.6M223.72 486.7V541.6M227.87 474.0V536.7M232.02 474.5V534.2M236.16 478.6V535.0M240.31 475.3V535.0M244.46 475.3V534.2M248.61 474.5V533.4" stroke="#747474" stroke-width="0.8" fill="none"/>
<rect x="184.75" y="497.4" width="3.3" height="15.6" rx="0.4" fill="#f5e616" stroke="#3a3a3a" stroke-width="0.55"/>
<line x1="184.75" y1="505.60" x2="188.05" y2="505.60" stroke="#222" stroke-width="0.6" />
<rect x="188.90" y="500.6" width="3.3" height="15.1" rx="0.4" fill="#e31a1c" stroke="#3a3a3a" stroke-width="0.55"/>
<line x1="188.90" y1="507.20" x2="192.20" y2="507.20" stroke="#222" stroke-width="0.6" />
<circle cx="190.55" cy="475.00" r="0.85" fill="#111" />
<rect x="193.04" y="504.7" width="3.3" height="14.8" rx="0.4" fill="#f7a01e" stroke="#3a3a3a" stroke-width="0.55"/>
<line x1="193.04" y1="512.00" x2="196.34" y2="512.00" stroke="#222" stroke-width="0.6" />
<circle cx="194.69" cy="477.70" r="0.85" fill="#111" />
<circle cx="194.69" cy="479.10" r="0.85" fill="#111" />
<circle cx="194.69" cy="480.50" r="0.85" fill="#111" />
<rect x="197.19" y="502.3" width="3.3" height="17.2" rx="0.4" fill="#9ac32c" stroke="#3a3a3a" stroke-width="0.55"/>
<line x1="197.19" y1="510.80" x2="200.49" y2="510.80" stroke="#222" stroke-width="0.6" />
<circle cx="198.84" cy="474.20" r="0.85" fill="#111" />
<rect x="201.34" y="508.0" width="3.3" height="16.4" rx="0.4" fill="#7b3f9e" stroke="#3a3a3a" stroke-width="0.55"/>
<line x1="201.34" y1="517.00" x2="204.64" y2="517.00" stroke="#222" stroke-width="0.6" />
<circle cx="202.99" cy="471.20" r="0.85" fill="#111" />
<circle cx="202.99" cy="481.80" r="0.85" fill="#111" />
<rect x="205.48" y="502.6" width="3.3" height="16.0" rx="0.4" fill="#000000" stroke="#3a3a3a" stroke-width="0.55"/>
<line x1="205.48" y1="511.00" x2="208.78" y2="511.00" stroke="#000" stroke-width="0.6" />
<rect x="209.63" y="497.7" width="3.3" height="17.7" rx="0.4" fill="#a01c1c" stroke="#3a3a3a" stroke-width="0.55"/>
<line x1="209.63" y1="506.40" x2="212.93" y2="506.40" stroke="#222" stroke-width="0.6" />
<rect x="213.78" y="501.5" width="3.3" height="16.8" rx="0.4" fill="#ffffff" stroke="#3a3a3a" stroke-width="0.55"/>
<line x1="213.78" y1="509.60" x2="217.08" y2="509.60" stroke="#222" stroke-width="0.6" />
<rect x="217.93" y="498.2" width="3.3" height="18.0" rx="0.4" fill="#1a8f8a" stroke="#3a3a3a" stroke-width="0.55"/>
<line x1="217.93" y1="507.20" x2="221.23" y2="507.20" stroke="#222" stroke-width="0.6" />
<circle cx="219.58" cy="471.00" r="0.85" fill="#111" />
<rect x="222.07" y="512.0" width="3.3" height="15.2" rx="0.4" fill="#fbe6ec" stroke="#c04a62" stroke-width="0.55"/>
<line x1="222.07" y1="520.60" x2="225.37" y2="520.60" stroke="#b03050" stroke-width="0.6" />
<circle cx="223.72" cy="486.00" r="0.85" fill="#111" />
<rect x="226.22" y="499.3" width="3.3" height="17.7" rx="0.4" fill="#9ac32c" stroke="#3a3a3a" stroke-width="0.55"/>
<line x1="226.22" y1="508.80" x2="229.52" y2="508.80" stroke="#222" stroke-width="0.6" />
<rect x="230.37" y="499.8" width="3.3" height="15.6" rx="0.4" fill="#d9d9d9" stroke="#3a3a3a" stroke-width="0.55"/>
<line x1="230.37" y1="508.00" x2="233.67" y2="508.00" stroke="#222" stroke-width="0.6" />
<circle cx="232.02" cy="472.60" r="0.85" fill="#111" />
<circle cx="232.02" cy="473.80" r="0.85" fill="#111" />
<rect x="234.51" y="500.6" width="3.3" height="17.7" rx="0.4" fill="#f08560" stroke="#3a3a3a" stroke-width="0.55"/>
<line x1="234.51" y1="509.60" x2="237.81" y2="509.60" stroke="#222" stroke-width="0.6" />
<rect x="238.66" y="500.6" width="3.3" height="16.4" rx="0.4" fill="#d9601a" stroke="#3a3a3a" stroke-width="0.55"/>
<line x1="238.66" y1="508.80" x2="241.96" y2="508.80" stroke="#222" stroke-width="0.6" />
<rect x="242.81" y="500.6" width="3.3" height="20.0" rx="0.4" fill="#2a3a9a" stroke="#3a3a3a" stroke-width="0.55"/>
<line x1="242.81" y1="511.30" x2="246.11" y2="511.30" stroke="#222" stroke-width="0.6" />
<rect x="246.96" y="499.3" width="3.3" height="16.9" rx="0.4" fill="#d4147f" stroke="#3a3a3a" stroke-width="0.55"/>
<line x1="246.96" y1="508.00" x2="250.26" y2="508.00" stroke="#222" stroke-width="0.6" />
<rect x="184.6" y="448.9" width="67.10" height="103.30" fill="none" stroke="#1a1a1a" stroke-width="0.9"/>
<rect x="45.20" y="557.60" width="66.50" height="8.00" fill="#5cc4d8" />
<text x="78.45" y="563.80" font-size="6.7" fill="#ffffff" text-anchor="middle" font-weight="bold" >Cluster 4</text>
<path d="M47.00 590.2V651.6M51.15 594.3V653.2M55.29 585.3V641.0M59.44 596.0V650.0M63.59 585.3V644.2M67.73 595.1V653.2M71.88 591.0V647.5M76.03 594.3V648.3M80.18 591.0V651.6M84.32 609.0V657.3M88.47 593.5V652.4M92.62 592.6V648.3M96.76 592.6V645.0M100.91 589.4V646.7M105.06 598.4V648.3M109.21 593.5V651.6" stroke="#747474" stroke-width="0.8" fill="none"/>
<rect x="45.35" y="614.7" width="3.3" height="16.4" rx="0.4" fill="#f5e616" stroke="#3a3a3a" stroke-width="0.55"/>
<line x1="45.35" y1="624.60" x2="48.65" y2="624.60" stroke="#222" stroke-width="0.6" />
<rect x="49.50" y="616.4" width="3.3" height="15.2" rx="0.4" fill="#e31a1c" stroke="#3a3a3a" stroke-width="0.55"/>
<line x1="49.50" y1="624.60" x2="52.80" y2="624.60" stroke="#222" stroke-width="0.6" />
<circle cx="51.15" cy="586.40" r="0.85" fill="#111" />
<circle cx="51.15" cy="592.30" r="0.85" fill="#111" />
<rect x="53.64" y="609.3" width="3.3" height="16.9" rx="0.4" fill="#f7a01e" stroke="#3a3a3a" stroke-width="0.55"/>
<line x1="53.64" y1="618.00" x2="56.94" y2="618.00" stroke="#222" stroke-width="0.6" />
<rect x="57.79" y="618.0" width="3.3" height="14.7" rx="0.4" fill="#9ac32c" stroke="#3a3a3a" stroke-width="0.55"/>
<line x1="57.79" y1="626.50" x2="61.09" y2="626.50" stroke="#222" stroke-width="0.6" />
<circle cx="59.44" cy="593.30" r="0.85" fill="#111" />
<circle cx="59.44" cy="594.80" r="0.85" fill="#111" />
<rect x="61.94" y="610.3" width="3.3" height="17.5" rx="0.4" fill="#7b3f9e" stroke="#3a3a3a" stroke-width="0.55"/>
<line x1="61.94" y1="618.80" x2="65.24" y2="618.80" stroke="#222" stroke-width="0.6" />
<rect x="66.08" y="619.3" width="3.3" height="15.6" rx="0.4" fill="#000000" stroke="#3a3a3a" stroke-width="0.55"/>
<line x1="66.08" y1="627.00" x2="69.39" y2="627.00" stroke="#000" stroke-width="0.6" />
<circle cx="67.73" cy="594.00" r="0.85" fill="#111" />
<rect x="70.23" y="616.9" width="3.3" height="15.0" rx="0.4" fill="#a01c1c" stroke="#3a3a3a" stroke-width="0.55"/>
<line x1="70.23" y1="625.40" x2="73.53" y2="625.40" stroke="#222" stroke-width="0.6" />
<circle cx="71.88" cy="589.70" r="0.85" fill="#111" />
<rect x="74.38" y="618.0" width="3.3" height="14.7" rx="0.4" fill="#ffffff" stroke="#3a3a3a" stroke-width="0.55"/>
<line x1="74.38" y1="625.40" x2="77.68" y2="625.40" stroke="#222" stroke-width="0.6" />
<rect x="78.53" y="615.6" width="3.3" height="16.0" rx="0.4" fill="#1a8f8a" stroke="#3a3a3a" stroke-width="0.55"/>
<line x1="78.53" y1="624.60" x2="81.83" y2="624.60" stroke="#222" stroke-width="0.6" />
<circle cx="80.18" cy="589.70" r="0.85" fill="#111" />
<rect x="82.67" y="628.6" width="3.3" height="13.1" rx="0.4" fill="#fbe6ec" stroke="#c04a62" stroke-width="0.55"/>
<line x1="82.67" y1="636.00" x2="85.97" y2="636.00" stroke="#b03050" stroke-width="0.6" />
<circle cx="84.32" cy="601.60" r="0.85" fill="#111" />
<circle cx="84.32" cy="603.40" r="0.85" fill="#111" />
<circle cx="84.32" cy="607.40" r="0.85" fill="#111" />
<rect x="86.82" y="616.9" width="3.3" height="16.3" rx="0.4" fill="#9ac32c" stroke="#3a3a3a" stroke-width="0.55"/>
<line x1="86.82" y1="626.50" x2="90.12" y2="626.50" stroke="#222" stroke-width="0.6" />
<circle cx="88.47" cy="592.30" r="0.85" fill="#111" />
<rect x="90.97" y="615.2" width="3.3" height="15.9" rx="0.4" fill="#d9d9d9" stroke="#3a3a3a" stroke-width="0.55"/>
<line x1="90.97" y1="623.70" x2="94.27" y2="623.70" stroke="#222" stroke-width="0.6" />
<circle cx="92.62" cy="587.00" r="0.85" fill="#111" />
<circle cx="92.62" cy="589.00" r="0.85" fill="#111" />
<rect x="95.11" y="617.5" width="3.3" height="16.9" rx="0.4" fill="#f08560" stroke="#3a3a3a" stroke-width="0.55"/>
<line x1="95.11" y1="626.50" x2="98.41" y2="626.50" stroke="#222" stroke-width="0.6" />
<rect x="99.26" y="614.2" width="3.3" height="17.4" rx="0.4" fill="#d9601a" stroke="#3a3a3a" stroke-width="0.55"/>
<line x1="99.26" y1="623.40" x2="102.56" y2="623.40" stroke="#222" stroke-width="0.6" />
<rect x="103.41" y="620.5" width="3.3" height="15.0" rx="0.4" fill="#2a3a9a" stroke="#3a3a3a" stroke-width="0.55"/>
<line x1="103.41" y1="627.80" x2="106.71" y2="627.80" stroke="#222" stroke-width="0.6" />
<circle cx="105.06" cy="596.70" r="0.85" fill="#111" />
<rect x="107.56" y="617.2" width="3.3" height="16.7" rx="0.4" fill="#d4147f" stroke="#3a3a3a" stroke-width="0.55"/>
<line x1="107.56" y1="626.20" x2="110.86" y2="626.20" stroke="#222" stroke-width="0.6" />
<circle cx="109.21" cy="586.00" r="0.85" fill="#111" />
<circle cx="109.21" cy="590.20" r="0.85" fill="#111" />
<circle cx="109.21" cy="591.80" r="0.85" fill="#111" />
<rect x="45.2" y="557.6" width="66.50" height="104.60" fill="none" stroke="#1a1a1a" stroke-width="0.9"/>
<rect x="114.70" y="557.60" width="67.00" height="8.00" fill="#6abf40" />
<text x="148.20" y="563.80" font-size="6.7" fill="#ffffff" text-anchor="middle" font-weight="bold" >Cluster 5</text>
<path d="M116.50 587.7V644.2M120.65 581.2V646.7M124.79 582.0V643.4M128.94 588.6V645.8M133.09 586.0V645.8M137.24 595.0V646.7M141.38 597.5V647.5M145.53 596.7V647.5M149.68 598.4V647.5M153.82 585.3V636.8M157.97 596.0V651.6M162.12 600.0V650.7M166.26 592.6V649.1M170.41 596.7V651.6M174.56 596.0V651.6M178.71 594.3V648.3" stroke="#747474" stroke-width="0.8" fill="none"/>
<rect x="114.85" y="610.6" width="3.3" height="16.4" rx="0.4" fill="#f5e616" stroke="#3a3a3a" stroke-width="0.55"/>
<line x1="114.85" y1="619.60" x2="118.15" y2="619.60" stroke="#222" stroke-width="0.6" />
<circle cx="116.50" cy="582.50" r="0.85" fill="#111" />
<rect x="119.00" y="607.7" width="3.3" height="18.5" rx="0.4" fill="#e31a1c" stroke="#3a3a3a" stroke-width="0.55"/>
<line x1="119.00" y1="616.40" x2="122.30" y2="616.40" stroke="#222" stroke-width="0.6" />
<rect x="123.14" y="608.7" width="3.3" height="18.3" rx="0.4" fill="#f7a01e" stroke="#3a3a3a" stroke-width="0.55"/>
<line x1="123.14" y1="617.20" x2="126.44" y2="617.20" stroke="#222" stroke-width="0.6" />
<circle cx="124.79" cy="575.50" r="0.85" fill="#111" />
<rect x="127.29" y="612.3" width="3.3" height="14.7" rx="0.4" fill="#9ac32c" stroke="#3a3a3a" stroke-width="0.55"/>
<line x1="127.29" y1="620.10" x2="130.59" y2="620.10" stroke="#222" stroke-width="0.6" />
<circle cx="128.94" cy="586.00" r="0.85" fill="#111" />
<rect x="131.44" y="610.3" width="3.3" height="17.5" rx="0.4" fill="#7b3f9e" stroke="#3a3a3a" stroke-width="0.55"/>
<line x1="131.44" y1="618.00" x2="134.74" y2="618.00" stroke="#222" stroke-width="0.6" />
<rect x="135.59" y="620.5" width="3.3" height="15.5" rx="0.4" fill="#000000" stroke="#3a3a3a" stroke-width="0.55"/>
<line x1="135.59" y1="628.00" x2="138.89" y2="628.00" stroke="#000" stroke-width="0.6" />
<circle cx="137.24" cy="584.50" r="0.85" fill="#111" />
<circle cx="137.24" cy="586.00" r="0.85" fill="#111" />
<circle cx="137.24" cy="594.30" r="0.85" fill="#111" />
<rect x="139.73" y="618.8" width="3.3" height="18.0" rx="0.4" fill="#a01c1c" stroke="#3a3a3a" stroke-width="0.55"/>
<line x1="139.73" y1="627.80" x2="143.03" y2="627.80" stroke="#222" stroke-width="0.6" />
<rect x="143.88" y="621.3" width="3.3" height="13.9" rx="0.4" fill="#ffffff" stroke="#3a3a3a" stroke-width="0.55"/>
<line x1="143.88" y1="628.30" x2="147.18" y2="628.30" stroke="#222" stroke-width="0.6" />
<circle cx="145.53" cy="594.30" r="0.85" fill="#111" />
<circle cx="145.53" cy="596.00" r="0.85" fill="#111" />
<rect x="148.03" y="621.3" width="3.3" height="13.9" rx="0.4" fill="#1a8f8a" stroke="#3a3a3a" stroke-width="0.55"/>
<line x1="148.03" y1="628.60" x2="151.33" y2="628.60" stroke="#222" stroke-width="0.6" />
<circle cx="149.68" cy="594.30" r="0.85" fill="#111" />
<circle cx="149.68" cy="596.00" r="0.85" fill="#111" />
<circle cx="149.68" cy="597.50" r="0.85" fill="#111" />
<rect x="152.17" y="608.7" width="3.3" height="15.0" rx="0.4" fill="#fbe6ec" stroke="#c04a62" stroke-width="0.55"/>
<line x1="152.17" y1="616.90" x2="155.47" y2="616.90" stroke="#b03050" stroke-width="0.6" />
<circle cx="153.82" cy="582.00" r="0.85" fill="#111" />
<circle cx="153.82" cy="584.00" r="0.85" fill="#111" />
<rect x="156.32" y="619.6" width="3.3" height="15.6" rx="0.4" fill="#9ac32c" stroke="#3a3a3a" stroke-width="0.55"/>
<line x1="156.32" y1="628.30" x2="159.62" y2="628.30" stroke="#222" stroke-width="0.6" />
<circle cx="157.97" cy="595.10" r="0.85" fill="#111" />
<rect x="160.47" y="622.1" width="3.3" height="13.9" rx="0.4" fill="#d9d9d9" stroke="#3a3a3a" stroke-width="0.55"/>
<line x1="160.47" y1="629.50" x2="163.77" y2="629.50" stroke="#222" stroke-width="0.6" />
<circle cx="162.12" cy="595.10" r="0.85" fill="#111" />
<circle cx="162.12" cy="596.60" r="0.85" fill="#111" />
<circle cx="162.12" cy="598.10" r="0.85" fill="#111" />
<circle cx="162.12" cy="599.50" r="0.85" fill="#111" />
<rect x="164.61" y="615.2" width="3.3" height="16.4" rx="0.4" fill="#f08560" stroke="#3a3a3a" stroke-width="0.55"/>
<line x1="164.61" y1="622.10" x2="167.91" y2="622.10" stroke="#222" stroke-width="0.6" />
<rect x="168.76" y="620.5" width="3.3" height="15.5" rx="0.4" fill="#d9601a" stroke="#3a3a3a" stroke-width="0.55"/>
<line x1="168.76" y1="629.50" x2="172.06" y2="629.50" stroke="#222" stroke-width="0.6" />
<circle cx="170.41" cy="591.00" r="0.85" fill="#111" />
<circle cx="170.41" cy="592.60" r="0.85" fill="#111" />
<rect x="172.91" y="620.5" width="3.3" height="16.3" rx="0.4" fill="#2a3a9a" stroke="#3a3a3a" stroke-width="0.55"/>
<line x1="172.91" y1="630.30" x2="176.21" y2="630.30" stroke="#222" stroke-width="0.6" />
<circle cx="174.56" cy="592.60" r="0.85" fill="#111" />
<circle cx="174.56" cy="594.50" r="0.85" fill="#111" />
<rect x="177.06" y="620.1" width="3.3" height="18.4" rx="0.4" fill="#d4147f" stroke="#3a3a3a" stroke-width="0.55"/>
<line x1="177.06" y1="630.30" x2="180.36" y2="630.30" stroke="#222" stroke-width="0.6" />
<rect x="114.7" y="557.6" width="67.00" height="104.60" fill="none" stroke="#1a1a1a" stroke-width="0.9"/>
<line x1="43.20" y1="460.00" x2="45.20" y2="460.00" stroke="#1a1a1a" stroke-width="0.6" />
<text x="39.30" y="462.40" font-size="6.7" fill="#222" text-anchor="end" font-weight="normal" >11</text>
<line x1="43.20" y1="482.60" x2="45.20" y2="482.60" stroke="#1a1a1a" stroke-width="0.6" />
<text x="39.30" y="485.00" font-size="6.7" fill="#222" text-anchor="end" font-weight="normal" >9</text>
<line x1="43.20" y1="505.40" x2="45.20" y2="505.40" stroke="#1a1a1a" stroke-width="0.6" />
<text x="39.30" y="507.80" font-size="6.7" fill="#222" text-anchor="end" font-weight="normal" >7</text>
<line x1="43.20" y1="528.10" x2="45.20" y2="528.10" stroke="#1a1a1a" stroke-width="0.6" />
<text x="39.30" y="530.50" font-size="6.7" fill="#222" text-anchor="end" font-weight="normal" >5</text>
<line x1="43.20" y1="550.60" x2="45.20" y2="550.60" stroke="#1a1a1a" stroke-width="0.6" />
<text x="39.30" y="553.00" font-size="6.7" fill="#222" text-anchor="end" font-weight="normal" >3</text>
<line x1="43.20" y1="569.40" x2="45.20" y2="569.40" stroke="#1a1a1a" stroke-width="0.6" />
<text x="39.30" y="571.80" font-size="6.7" fill="#222" text-anchor="end" font-weight="normal" >11</text>
<line x1="43.20" y1="592.10" x2="45.20" y2="592.10" stroke="#1a1a1a" stroke-width="0.6" />
<text x="39.30" y="594.50" font-size="6.7" fill="#222" text-anchor="end" font-weight="normal" >9</text>
<line x1="43.20" y1="614.80" x2="45.20" y2="614.80" stroke="#1a1a1a" stroke-width="0.6" />
<text x="39.30" y="617.20" font-size="6.7" fill="#222" text-anchor="end" font-weight="normal" >7</text>
<line x1="43.20" y1="637.50" x2="45.20" y2="637.50" stroke="#1a1a1a" stroke-width="0.6" />
<text x="39.30" y="639.90" font-size="6.7" fill="#222" text-anchor="end" font-weight="normal" >5</text>
<line x1="43.20" y1="660.00" x2="45.20" y2="660.00" stroke="#1a1a1a" stroke-width="0.6" />
<text x="39.30" y="662.40" font-size="6.7" fill="#222" text-anchor="end" font-weight="normal" >3</text>
<text transform="translate(23.6,559) rotate(-90) scale(0.85,1)" font-size="5.4" fill="#222" text-anchor="middle">Mean</text>
<rect x="191.10" y="561.90" width="5.30" height="5.20" fill="#f5e616" />
<text x="199.60" y="566.30" font-size="5.1" fill="#222" text-anchor="start" font-weight="normal" >NBC-B</text>
<rect x="191.10" y="568.19" width="5.30" height="5.20" fill="#e31a1c" />
<text x="199.60" y="572.59" font-size="5.1" fill="#222" text-anchor="start" font-weight="normal" >NBC-T</text>
<rect x="191.10" y="574.49" width="5.30" height="5.20" fill="#f7a01e" />
<text x="199.60" y="578.89" font-size="5.1" fill="#222" text-anchor="start" font-weight="normal" >GCBC</text>
<rect x="191.10" y="580.78" width="5.30" height="5.20" fill="#7fb2e5" />
<text x="199.60" y="585.18" font-size="5.1" fill="#222" text-anchor="start" font-weight="normal" >MBC</text>
<rect x="191.10" y="587.07" width="5.30" height="5.20" fill="#7b3f9e" />
<text x="199.60" y="591.47" font-size="5.1" fill="#222" text-anchor="start" font-weight="normal" >PC</text>
<rect x="191.10" y="593.37" width="5.30" height="5.20" fill="#000000" />
<text x="199.60" y="597.76" font-size="5.1" fill="#222" text-anchor="start" font-weight="normal" >CLL-ss1</text>
<rect x="191.10" y="599.66" width="5.30" height="5.20" fill="#a01c1c" />
<text x="199.60" y="604.06" font-size="5.1" fill="#222" text-anchor="start" font-weight="normal" >CLL-ss16</text>
<rect x="191.10" y="605.95" width="5.30" height="5.20" fill="#fdfde8" />
<text x="199.60" y="610.35" font-size="5.1" fill="#222" text-anchor="start" font-weight="normal" >CLL-ss2</text>
<rect x="191.10" y="612.24" width="5.30" height="5.20" fill="#1a8f8a" />
<text x="199.60" y="616.64" font-size="5.1" fill="#222" text-anchor="start" font-weight="normal" >CLL-ss4</text>
<rect x="191.10" y="618.54" width="5.30" height="5.20" fill="#f7c5d5" />
<text x="199.60" y="622.94" font-size="5.1" fill="#222" text-anchor="start" font-weight="normal" >CLL-ss8</text>
<rect x="191.10" y="624.83" width="5.30" height="5.20" fill="#9ac32c" />
<text x="199.60" y="629.23" font-size="5.1" fill="#222" text-anchor="start" font-weight="normal" >M-CLL</text>
<rect x="191.10" y="631.12" width="5.30" height="5.20" fill="#c4c4c4" />
<text x="199.60" y="635.52" font-size="5.1" fill="#222" text-anchor="start" font-weight="normal" >U-CLL</text>
<rect x="191.10" y="637.42" width="5.30" height="5.20" fill="#f08560" />
<text x="199.60" y="641.82" font-size="5.1" fill="#222" text-anchor="start" font-weight="normal" >IgG-CLL</text>
<rect x="191.10" y="643.71" width="5.30" height="5.20" fill="#d9601a" />
<text x="199.60" y="648.11" font-size="5.1" fill="#222" text-anchor="start" font-weight="normal" >IgG-M-CLL</text>
<rect x="191.10" y="650.00" width="5.30" height="5.20" fill="#2a3a9a" />
<text x="199.60" y="654.40" font-size="5.1" fill="#222" text-anchor="start" font-weight="normal" >IgG-U-CLL</text>
<rect x="191.10" y="656.29" width="5.30" height="5.20" fill="#d4147f" />
<text x="199.60" y="660.69" font-size="5.1" fill="#222" text-anchor="start" font-weight="normal" >Tris12-U-CLL</text>
<text x="292.00" y="443.30" font-size="11" fill="#000" text-anchor="start" font-weight="bold" >E</text>
<polygon points="299.7,463 329.1,446.1 358.5,463" fill="#d9e8f6" stroke="#444" stroke-width="0.7" stroke-linejoin="miter"/>
<polygon points="358.5,463 400.5,445.9 442.5,462.8" fill="#e2edf8" stroke="#555" stroke-width="0.55" stroke-dasharray="1 0.8"/>
<polygon points="304.4,481 308.5,470.8 312.7,481" fill="#f6b68c" stroke="#555" stroke-width="0.55" />
<rect x="313.5" y="477.3" width="19.1" height="3.5" fill="#f6b68c" stroke="#555" stroke-width="0.55"/>
<polygon points="335.5,481 340.1,474.8 344.7,481" fill="#f6b68c" stroke="#555" stroke-width="0.55" />
<polygon points="362.3,481 367.0,475.0 371.6,481" fill="#90c63e" stroke="#3f7a1e" stroke-width="0.55" stroke-dasharray="0.8 0.7"/>
<polygon points="374.5,481 379.1,470.3 383.7,481" fill="#90c63e" stroke="#3f7a1e" stroke-width="0.55" stroke-dasharray="0.8 0.7"/>
<rect x="385.4" y="477.4" width="13.3" height="3.5" fill="#90c63e" stroke="#3f7a1e" stroke-width="0.55" stroke-dasharray="0.8 0.7"/>
<polygon points="406.2,481 411.1,474.3 416.0,481" fill="#90c63e" stroke="#3f7a1e" stroke-width="0.55" stroke-dasharray="0.8 0.7"/>
<rect x="417.8" y="477.4" width="14.3" height="3.5" fill="#90c63e" stroke="#3f7a1e" stroke-width="0.55" stroke-dasharray="0.8 0.7"/>
<polygon points="432.5,481 436.8,467.4 441.1,481" fill="#90c63e" stroke="#3f7a1e" stroke-width="0.55" stroke-dasharray="0.8 0.7"/>
<line x1="299.20" y1="481.20" x2="446.30" y2="481.20" stroke="#2d5fae" stroke-width="0.9" />
<polygon points="307.5,500.6 311.8,494.2 316.1,500.6" fill="#fff" stroke="#444" stroke-width="0.6"/>
<text x="319.30" y="499.60" font-size="6.3" fill="#222" text-anchor="start" font-weight="normal" >Acetylation peak</text>
<rect x="373.3" y="495.0" width="11.1" height="4.0" fill="#fff" stroke="#444" stroke-width="0.6"/>
<text x="387.60" y="499.60" font-size="6.3" fill="#222" text-anchor="start" font-weight="normal" >Transcript</text>
<polygon points="421.7,500.6 428.4,494.2 435.0,500.6" fill="#d9e8f6" stroke="#444" stroke-width="0.6"/>
<text x="438.30" y="499.60" font-size="6.3" fill="#222" text-anchor="start" font-weight="normal" >TAD</text>
<text x="267.00" y="525.80" font-size="11" fill="#000" text-anchor="start" font-weight="bold" >F</text>
<rect x="317.50" y="542.00" width="23.00" height="94.20" fill="#e9565c" />
<rect x="343.20" y="626.10" width="23.00" height="10.10" fill="#e02a8c" />
<rect x="368.80" y="605.60" width="23.00" height="30.60" fill="#4b63b8" />
<rect x="394.00" y="599.90" width="23.00" height="36.30" fill="#6cc8e8" />
<rect x="419.60" y="533.60" width="23.00" height="102.60" fill="#52aa2c" />
<path d="M313.2 528.8V641.2H445.5" stroke="#222" stroke-width="0.9" fill="none"/>
<line x1="310.40" y1="534.30" x2="313.20" y2="534.30" stroke="#222" stroke-width="0.7" />
<text x="309.00" y="537.00" font-size="7.6" fill="#222" text-anchor="end" font-weight="normal" >40</text>
<line x1="310.40" y1="560.40" x2="313.20" y2="560.40" stroke="#222" stroke-width="0.7" />
<text x="309.00" y="563.10" font-size="7.6" fill="#222" text-anchor="end" font-weight="normal" >30</text>
<line x1="310.40" y1="585.80" x2="313.20" y2="585.80" stroke="#222" stroke-width="0.7" />
<text x="309.00" y="588.50" font-size="7.6" fill="#222" text-anchor="end" font-weight="normal" >20</text>
<line x1="310.40" y1="611.20" x2="313.20" y2="611.20" stroke="#222" stroke-width="0.7" />
<text x="309.00" y="613.90" font-size="7.6" fill="#222" text-anchor="end" font-weight="normal" >10</text>
<line x1="310.40" y1="636.20" x2="313.20" y2="636.20" stroke="#222" stroke-width="0.7" />
<text x="309.00" y="638.90" font-size="7.6" fill="#222" text-anchor="end" font-weight="normal" >0</text>
<line x1="329.00" y1="641.20" x2="329.00" y2="644.00" stroke="#222" stroke-width="0.7" />
<text x="329.00" y="653.20" font-size="7.6" fill="#222" text-anchor="middle" font-weight="normal" >1</text>
<line x1="354.70" y1="641.20" x2="354.70" y2="644.00" stroke="#222" stroke-width="0.7" />
<text x="354.70" y="653.20" font-size="7.6" fill="#222" text-anchor="middle" font-weight="normal" >2</text>
<line x1="380.30" y1="641.20" x2="380.30" y2="644.00" stroke="#222" stroke-width="0.7" />
<text x="380.30" y="653.20" font-size="7.6" fill="#222" text-anchor="middle" font-weight="normal" >3</text>
<line x1="405.50" y1="641.20" x2="405.50" y2="644.00" stroke="#222" stroke-width="0.7" />
<text x="405.50" y="653.20" font-size="7.6" fill="#222" text-anchor="middle" font-weight="normal" >4</text>
<line x1="431.10" y1="641.20" x2="431.10" y2="644.00" stroke="#222" stroke-width="0.7" />
<text x="431.10" y="653.20" font-size="7.6" fill="#222" text-anchor="middle" font-weight="normal" >5</text>
<text transform="translate(379,666.4) scale(0.84,1)" font-size="8.6" fill="#222" text-anchor="middle">Clusters</text>
<text transform="translate(282.4,592) rotate(-90) scale(0.84,1)" font-size="8.6" fill="#222" text-anchor="middle">Percentage of positively</text>
<text transform="translate(294.2,592) rotate(-90) scale(0.84,1)" font-size="8.6" fill="#222" text-anchor="middle">correlated regions</text>
<text x="456.20" y="560.30" font-size="6.0" fill="#222" text-anchor="start" font-weight="normal" >Clusters</text>
<rect x="456.70" y="565.40" width="9.00" height="8.80" fill="#e9565c" />
<text x="468.80" y="571.90" font-size="6.0" fill="#222" text-anchor="start" font-weight="normal" >1</text>
<rect x="456.70" y="575.60" width="9.00" height="8.80" fill="#e02a8c" />
<text x="468.80" y="582.10" font-size="6.0" fill="#222" text-anchor="start" font-weight="normal" >2</text>
<rect x="456.70" y="585.80" width="9.00" height="8.80" fill="#4b63b8" />
<text x="468.80" y="592.30" font-size="6.0" fill="#222" text-anchor="start" font-weight="normal" >3</text>
<rect x="456.70" y="596.00" width="9.00" height="8.80" fill="#6cc8e8" />
<text x="468.80" y="602.50" font-size="6.0" fill="#222" text-anchor="start" font-weight="normal" >4</text>
<rect x="456.70" y="606.20" width="9.00" height="8.80" fill="#52aa2c" />
<text x="468.80" y="612.70" font-size="6.0" fill="#222" text-anchor="start" font-weight="normal" >5</text>
<rect x="0" y="0" width="520" height="1" fill="#484848"/><rect x="0" y="0" width="1" height="673" fill="#505050"/><rect x="0" y="672" width="520" height="1" fill="#484848"/><rect x="518.7" y="0" width="1.3" height="673" fill="#4c4c4c"/>
</svg>
</body></html>
